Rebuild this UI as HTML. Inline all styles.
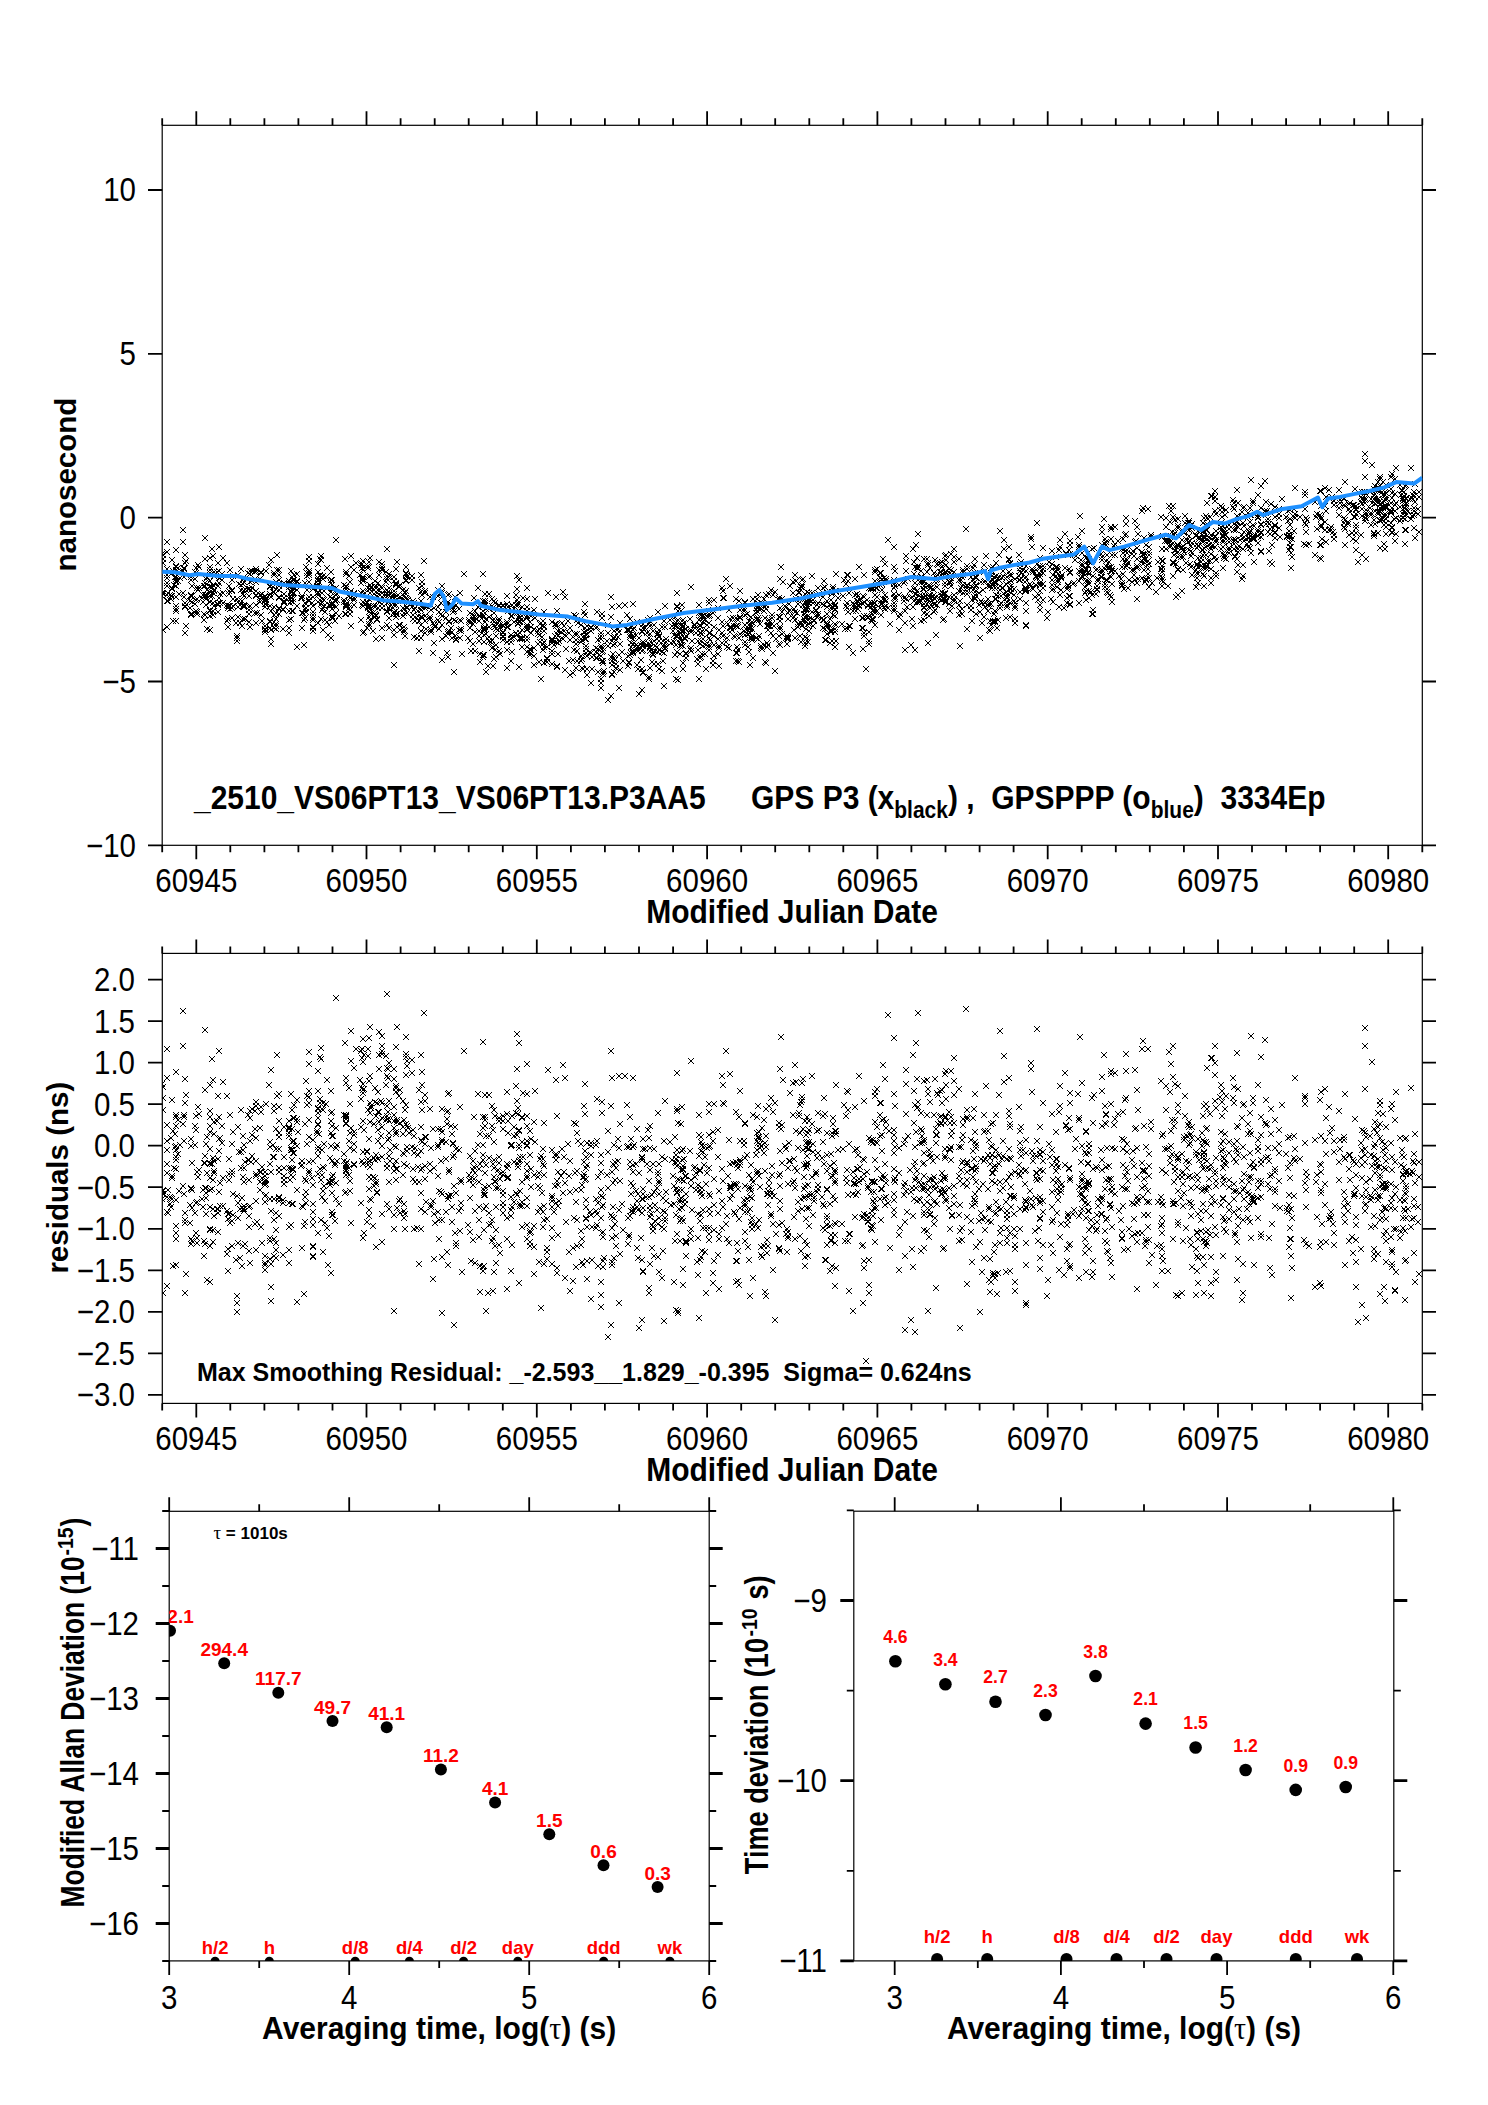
<!DOCTYPE html>
<html><head><meta charset="utf-8"><style>
html,body{margin:0;padding:0;background:#fff;}
svg{display:block;font-family:"Liberation Sans",sans-serif;}
</style></head><body>
<svg width="1488" height="2105" viewBox="0 0 1488 2105">
<rect width="1488" height="2105" fill="#fff"/>
<rect x="162.2" y="125.3" width="1260.1" height="720" fill="none" stroke="#000" stroke-width="1.2"/><text x="196.3" y="892.5" font-size="29.5" text-anchor="middle" transform="translate(0 -107.1) scale(1 1.12)">60945</text><text x="366.5" y="892.5" font-size="29.5" text-anchor="middle" transform="translate(0 -107.1) scale(1 1.12)">60950</text><text x="536.8" y="892.5" font-size="29.5" text-anchor="middle" transform="translate(0 -107.1) scale(1 1.12)">60955</text><text x="707.1" y="892.5" font-size="29.5" text-anchor="middle" transform="translate(0 -107.1) scale(1 1.12)">60960</text><text x="877.4" y="892.5" font-size="29.5" text-anchor="middle" transform="translate(0 -107.1) scale(1 1.12)">60965</text><text x="1047.7" y="892.5" font-size="29.5" text-anchor="middle" transform="translate(0 -107.1) scale(1 1.12)">60970</text><text x="1218" y="892.5" font-size="29.5" text-anchor="middle" transform="translate(0 -107.1) scale(1 1.12)">60975</text><text x="1388.2" y="892.5" font-size="29.5" text-anchor="middle" transform="translate(0 -107.1) scale(1 1.12)">60980</text><text x="136" y="201.5" font-size="29.5" text-anchor="end" transform="translate(0 -24.2) scale(1 1.12)">10</text><text x="136" y="365.3" font-size="29.5" text-anchor="end" transform="translate(0 -43.8) scale(1 1.12)">5</text><text x="136" y="529.1" font-size="29.5" text-anchor="end" transform="translate(0 -63.5) scale(1 1.12)">0</text><text x="136" y="693" font-size="29.5" text-anchor="end" transform="translate(0 -83.2) scale(1 1.12)">−5</text><text x="136" y="856.8" font-size="29.5" text-anchor="end" transform="translate(0 -102.8) scale(1 1.12)">−10</text><text x="792" y="922.8" font-size="30" font-weight="bold" text-anchor="middle" transform="translate(0 -73.8) scale(1 1.08)">Modified Julian Date</text><text transform="translate(76.3 484.6) rotate(-90)" font-size="29.5" font-weight="bold" text-anchor="middle">nanosecond</text><text x="194" y="809.2" font-size="30" font-weight="bold" transform="translate(0 -80.9) scale(1 1.1)">_2510_VS06PT13_VS06PT13.P3AA5</text><text x="751" y="809.2" font-size="30" font-weight="bold" xml:space="preserve" transform="translate(0 -80.92) scale(1 1.1)">GPS P3 (x<tspan font-size="21" dy="7.6">black</tspan><tspan dy="-7.6">) ,  GPSPPP (o</tspan><tspan font-size="21" dy="7.6">blue</tspan><tspan dy="-7.6">)  3334Ep</tspan></text><rect x="162.3" y="953.4" width="1260" height="450" fill="none" stroke="#000" stroke-width="1.2"/><text x="196.3" y="1450.5" font-size="29.5" text-anchor="middle" transform="translate(0 -174.1) scale(1 1.12)">60945</text><text x="366.5" y="1450.5" font-size="29.5" text-anchor="middle" transform="translate(0 -174.1) scale(1 1.12)">60950</text><text x="536.8" y="1450.5" font-size="29.5" text-anchor="middle" transform="translate(0 -174.1) scale(1 1.12)">60955</text><text x="707.1" y="1450.5" font-size="29.5" text-anchor="middle" transform="translate(0 -174.1) scale(1 1.12)">60960</text><text x="877.4" y="1450.5" font-size="29.5" text-anchor="middle" transform="translate(0 -174.1) scale(1 1.12)">60965</text><text x="1047.7" y="1450.5" font-size="29.5" text-anchor="middle" transform="translate(0 -174.1) scale(1 1.12)">60970</text><text x="1218" y="1450.5" font-size="29.5" text-anchor="middle" transform="translate(0 -174.1) scale(1 1.12)">60975</text><text x="1388.2" y="1450.5" font-size="29.5" text-anchor="middle" transform="translate(0 -174.1) scale(1 1.12)">60980</text><text x="135" y="991.2" font-size="29.5" text-anchor="end" transform="translate(0 -118.9) scale(1 1.12)">2.0</text><text x="135" y="1032.7" font-size="29.5" text-anchor="end" transform="translate(0 -123.9) scale(1 1.12)">1.5</text><text x="135" y="1074.2" font-size="29.5" text-anchor="end" transform="translate(0 -128.9) scale(1 1.12)">1.0</text><text x="135" y="1115.7" font-size="29.5" text-anchor="end" transform="translate(0 -133.9) scale(1 1.12)">0.5</text><text x="135" y="1157.2" font-size="29.5" text-anchor="end" transform="translate(0 -138.9) scale(1 1.12)">0.0</text><text x="135" y="1198.8" font-size="29.5" text-anchor="end" transform="translate(0 -143.9) scale(1 1.12)">−0.5</text><text x="135" y="1240.3" font-size="29.5" text-anchor="end" transform="translate(0 -148.8) scale(1 1.12)">−1.0</text><text x="135" y="1281.8" font-size="29.5" text-anchor="end" transform="translate(0 -153.8) scale(1 1.12)">−1.5</text><text x="135" y="1323.3" font-size="29.5" text-anchor="end" transform="translate(0 -158.8) scale(1 1.12)">−2.0</text><text x="135" y="1364.8" font-size="29.5" text-anchor="end" transform="translate(0 -163.8) scale(1 1.12)">−2.5</text><text x="135" y="1406.3" font-size="29.5" text-anchor="end" transform="translate(0 -168.8) scale(1 1.12)">−3.0</text><text x="792" y="1480.8" font-size="30" font-weight="bold" text-anchor="middle" transform="translate(0 -118.5) scale(1 1.08)">Modified Julian Date</text><text transform="translate(68.2 1177.7) rotate(-90)" font-size="29.5" font-weight="bold" text-anchor="middle">residuals (ns)</text><text x="197" y="1381" font-size="25" font-weight="bold" xml:space="preserve">Max Smoothing Residual: _-2.593__1.829_-0.395  Sigma= 0.624ns</text><rect x="169.2" y="1511.3" width="540" height="449.6" fill="none" stroke="#000" stroke-width="1.2"/><text x="169.2" y="2008.5" font-size="29.5" text-anchor="middle" transform="translate(0 -241) scale(1 1.12)">3</text><text x="349.2" y="2008.5" font-size="29.5" text-anchor="middle" transform="translate(0 -241) scale(1 1.12)">4</text><text x="529.2" y="2008.5" font-size="29.5" text-anchor="middle" transform="translate(0 -241) scale(1 1.12)">5</text><text x="709.2" y="2008.5" font-size="29.5" text-anchor="middle" transform="translate(0 -241) scale(1 1.12)">6</text><text x="139" y="1560" font-size="29.5" text-anchor="end" transform="translate(0 -187.2) scale(1 1.12)">−11</text><text x="139" y="1635" font-size="29.5" text-anchor="end" transform="translate(0 -196.2) scale(1 1.12)">−12</text><text x="139" y="1710" font-size="29.5" text-anchor="end" transform="translate(0 -205.2) scale(1 1.12)">−13</text><text x="139" y="1785" font-size="29.5" text-anchor="end" transform="translate(0 -214.2) scale(1 1.12)">−14</text><text x="139" y="1860" font-size="29.5" text-anchor="end" transform="translate(0 -223.2) scale(1 1.12)">−15</text><text x="139" y="1935" font-size="29.5" text-anchor="end" transform="translate(0 -232.2) scale(1 1.12)">−16</text><text x="439.2" y="2038.8" font-size="30" font-weight="bold" text-anchor="middle" transform="translate(0 -81.55) scale(1 1.04)">Averaging time, log(<tspan font-family="Liberation Serif" font-weight="normal">τ</tspan>) (s)</text><text transform="translate(84 1907.4) rotate(-90) scale(0.895 1.1)" font-size="29.5" font-weight="bold">Modified Allan Deviation (10</text><text transform="translate(73 1555.5) rotate(-90) scale(1 1.1)" font-size="19.5" font-weight="bold">-15</text><text transform="translate(84 1526.5) rotate(-90) scale(0.895 1.1)" font-size="29.5" font-weight="bold">)</text><text x="213.5" y="1538.9" font-size="17" font-weight="bold"><tspan font-family="Liberation Serif" font-weight="normal" font-size="19">τ</tspan> = 1010s</text><rect x="853.8" y="1511.2" width="540" height="449.7" fill="none" stroke="#000" stroke-width="1.2"/><text x="894.7" y="2008.5" font-size="29.5" text-anchor="middle" transform="translate(0 -241) scale(1 1.12)">3</text><text x="1060.9" y="2008.5" font-size="29.5" text-anchor="middle" transform="translate(0 -241) scale(1 1.12)">4</text><text x="1227.1" y="2008.5" font-size="29.5" text-anchor="middle" transform="translate(0 -241) scale(1 1.12)">5</text><text x="1393.3" y="2008.5" font-size="29.5" text-anchor="middle" transform="translate(0 -241) scale(1 1.12)">6</text><text x="827" y="1612" font-size="29.5" text-anchor="end" transform="translate(0 -193.4) scale(1 1.12)">−9</text><text x="827" y="1792.2" font-size="29.5" text-anchor="end" transform="translate(0 -215.1) scale(1 1.12)">−10</text><text x="827" y="1972.4" font-size="29.5" text-anchor="end" transform="translate(0 -236.7) scale(1 1.12)">−11</text><text x="1124" y="2038.8" font-size="30" font-weight="bold" text-anchor="middle" transform="translate(0 -81.55) scale(1 1.04)">Averaging time, log(<tspan font-family="Liberation Serif" font-weight="normal">τ</tspan>) (s)</text><text transform="translate(768 1874.2) rotate(-90) scale(0.92 1.1)" font-size="29.5" font-weight="bold">Time deviation (10</text><text transform="translate(757 1636.5) rotate(-90) scale(1 1.1)" font-size="19.5" font-weight="bold">-10</text><text transform="translate(768 1599.5) rotate(-90) scale(0.92 1.1)" font-size="29.5" font-weight="bold">s)</text><path d="M162.2 125.3L162.2 118.3M162.2 845.3L162.2 852.3M196.3 125.3L196.3 111.3M196.3 845.3L196.3 859.3M230.3 125.3L230.3 118.3M230.3 845.3L230.3 852.3M264.4 125.3L264.4 118.3M264.4 845.3L264.4 852.3M298.4 125.3L298.4 118.3M298.4 845.3L298.4 852.3M332.5 125.3L332.5 118.3M332.5 845.3L332.5 852.3M366.5 125.3L366.5 111.3M366.5 845.3L366.5 859.3M400.6 125.3L400.6 118.3M400.6 845.3L400.6 852.3M434.7 125.3L434.7 118.3M434.7 845.3L434.7 852.3M468.7 125.3L468.7 118.3M468.7 845.3L468.7 852.3M502.8 125.3L502.8 118.3M502.8 845.3L502.8 852.3M536.8 125.3L536.8 111.3M536.8 845.3L536.8 859.3M570.9 125.3L570.9 118.3M570.9 845.3L570.9 852.3M604.9 125.3L604.9 118.3M604.9 845.3L604.9 852.3M639 125.3L639 118.3M639 845.3L639 852.3M673.1 125.3L673.1 118.3M673.1 845.3L673.1 852.3M707.1 125.3L707.1 111.3M707.1 845.3L707.1 859.3M741.2 125.3L741.2 118.3M741.2 845.3L741.2 852.3M775.2 125.3L775.2 118.3M775.2 845.3L775.2 852.3M809.3 125.3L809.3 118.3M809.3 845.3L809.3 852.3M843.3 125.3L843.3 118.3M843.3 845.3L843.3 852.3M877.4 125.3L877.4 111.3M877.4 845.3L877.4 859.3M911.4 125.3L911.4 118.3M911.4 845.3L911.4 852.3M945.5 125.3L945.5 118.3M945.5 845.3L945.5 852.3M979.6 125.3L979.6 118.3M979.6 845.3L979.6 852.3M1013.6 125.3L1013.6 118.3M1013.6 845.3L1013.6 852.3M1047.7 125.3L1047.7 111.3M1047.7 845.3L1047.7 859.3M1081.7 125.3L1081.7 118.3M1081.7 845.3L1081.7 852.3M1115.8 125.3L1115.8 118.3M1115.8 845.3L1115.8 852.3M1149.8 125.3L1149.8 118.3M1149.8 845.3L1149.8 852.3M1183.9 125.3L1183.9 118.3M1183.9 845.3L1183.9 852.3M1218 125.3L1218 111.3M1218 845.3L1218 859.3M1252 125.3L1252 118.3M1252 845.3L1252 852.3M1286.1 125.3L1286.1 118.3M1286.1 845.3L1286.1 852.3M1320.1 125.3L1320.1 118.3M1320.1 845.3L1320.1 852.3M1354.2 125.3L1354.2 118.3M1354.2 845.3L1354.2 852.3M1388.2 125.3L1388.2 111.3M1388.2 845.3L1388.2 859.3M1422.3 125.3L1422.3 118.3M1422.3 845.3L1422.3 852.3M148 190L162.2 190M1422.3 190L1436 190M148 353.8L162.2 353.8M1422.3 353.8L1436 353.8M148 517.6L162.2 517.6M1422.3 517.6L1436 517.6M148 681.5L162.2 681.5M1422.3 681.5L1436 681.5M148 845.3L162.2 845.3M1422.3 845.3L1436 845.3M162.2 953.4L162.2 946.4M162.2 1403.4L162.2 1410.4M196.3 953.4L196.3 939.4M196.3 1403.4L196.3 1417.4M230.3 953.4L230.3 946.4M230.3 1403.4L230.3 1410.4M264.4 953.4L264.4 946.4M264.4 1403.4L264.4 1410.4M298.4 953.4L298.4 946.4M298.4 1403.4L298.4 1410.4M332.5 953.4L332.5 946.4M332.5 1403.4L332.5 1410.4M366.5 953.4L366.5 939.4M366.5 1403.4L366.5 1417.4M400.6 953.4L400.6 946.4M400.6 1403.4L400.6 1410.4M434.7 953.4L434.7 946.4M434.7 1403.4L434.7 1410.4M468.7 953.4L468.7 946.4M468.7 1403.4L468.7 1410.4M502.8 953.4L502.8 946.4M502.8 1403.4L502.8 1410.4M536.8 953.4L536.8 939.4M536.8 1403.4L536.8 1417.4M570.9 953.4L570.9 946.4M570.9 1403.4L570.9 1410.4M604.9 953.4L604.9 946.4M604.9 1403.4L604.9 1410.4M639 953.4L639 946.4M639 1403.4L639 1410.4M673.1 953.4L673.1 946.4M673.1 1403.4L673.1 1410.4M707.1 953.4L707.1 939.4M707.1 1403.4L707.1 1417.4M741.2 953.4L741.2 946.4M741.2 1403.4L741.2 1410.4M775.2 953.4L775.2 946.4M775.2 1403.4L775.2 1410.4M809.3 953.4L809.3 946.4M809.3 1403.4L809.3 1410.4M843.3 953.4L843.3 946.4M843.3 1403.4L843.3 1410.4M877.4 953.4L877.4 939.4M877.4 1403.4L877.4 1417.4M911.4 953.4L911.4 946.4M911.4 1403.4L911.4 1410.4M945.5 953.4L945.5 946.4M945.5 1403.4L945.5 1410.4M979.6 953.4L979.6 946.4M979.6 1403.4L979.6 1410.4M1013.6 953.4L1013.6 946.4M1013.6 1403.4L1013.6 1410.4M1047.7 953.4L1047.7 939.4M1047.7 1403.4L1047.7 1417.4M1081.7 953.4L1081.7 946.4M1081.7 1403.4L1081.7 1410.4M1115.8 953.4L1115.8 946.4M1115.8 1403.4L1115.8 1410.4M1149.8 953.4L1149.8 946.4M1149.8 1403.4L1149.8 1410.4M1183.9 953.4L1183.9 946.4M1183.9 1403.4L1183.9 1410.4M1218 953.4L1218 939.4M1218 1403.4L1218 1417.4M1252 953.4L1252 946.4M1252 1403.4L1252 1410.4M1286.1 953.4L1286.1 946.4M1286.1 1403.4L1286.1 1410.4M1320.1 953.4L1320.1 946.4M1320.1 1403.4L1320.1 1410.4M1354.2 953.4L1354.2 946.4M1354.2 1403.4L1354.2 1410.4M1388.2 953.4L1388.2 939.4M1388.2 1403.4L1388.2 1417.4M1422.3 953.4L1422.3 946.4M1422.3 1403.4L1422.3 1410.4M148 979.7L162.3 979.7M1422.3 979.7L1436 979.7M148 1021.2L162.3 1021.2M1422.3 1021.2L1436 1021.2M148 1062.7L162.3 1062.7M1422.3 1062.7L1436 1062.7M148 1104.2L162.3 1104.2M1422.3 1104.2L1436 1104.2M148 1145.7L162.3 1145.7M1422.3 1145.7L1436 1145.7M148 1187.2L162.3 1187.2M1422.3 1187.2L1436 1187.2M148 1228.8L162.3 1228.8M1422.3 1228.8L1436 1228.8M148 1270.3L162.3 1270.3M1422.3 1270.3L1436 1270.3M148 1311.8L162.3 1311.8M1422.3 1311.8L1436 1311.8M148 1353.3L162.3 1353.3M1422.3 1353.3L1436 1353.3M148 1394.8L162.3 1394.8M1422.3 1394.8L1436 1394.8M169.2 1511.3L169.2 1497.3M169.2 1960.9L169.2 1974.9M259.2 1511.3L259.2 1504.3M259.2 1960.9L259.2 1967.9M349.2 1511.3L349.2 1497.3M349.2 1960.9L349.2 1974.9M439.2 1511.3L439.2 1504.3M439.2 1960.9L439.2 1967.9M529.2 1511.3L529.2 1497.3M529.2 1960.9L529.2 1974.9M619.2 1511.3L619.2 1504.3M619.2 1960.9L619.2 1967.9M709.2 1511.3L709.2 1497.3M709.2 1960.9L709.2 1974.9M162.2 1511L169.2 1511M709.2 1511L716.2 1511M162.2 1586L169.2 1586M709.2 1586L716.2 1586M162.2 1661L169.2 1661M709.2 1661L716.2 1661M162.2 1736L169.2 1736M709.2 1736L716.2 1736M162.2 1811L169.2 1811M709.2 1811L716.2 1811M162.2 1886L169.2 1886M709.2 1886L716.2 1886M162.2 1961L169.2 1961M709.2 1961L716.2 1961M894.7 1511.2L894.7 1497.2M894.7 1960.9L894.7 1974.9M977.8 1511.2L977.8 1504.2M977.8 1960.9L977.8 1967.9M1060.9 1511.2L1060.9 1497.2M1060.9 1960.9L1060.9 1974.9M1144 1511.2L1144 1504.2M1144 1960.9L1144 1967.9M1227.1 1511.2L1227.1 1497.2M1227.1 1960.9L1227.1 1974.9M1310.2 1511.2L1310.2 1504.2M1310.2 1960.9L1310.2 1967.9M1393.3 1511.2L1393.3 1497.2M1393.3 1960.9L1393.3 1974.9M846.8 1510.4L853.8 1510.4M1393.8 1510.4L1400.8 1510.4M846.8 1690.6L853.8 1690.6M1393.8 1690.6L1400.8 1690.6M846.8 1870.8L853.8 1870.8M1393.8 1870.8L1400.8 1870.8" stroke="#000" stroke-width="1.8" fill="none"/><path d="M155.7 1548.5L169.2 1548.5M709.2 1548.5L722.7 1548.5M155.7 1623.5L169.2 1623.5M709.2 1623.5L722.7 1623.5M155.7 1698.5L169.2 1698.5M709.2 1698.5L722.7 1698.5M155.7 1773.5L169.2 1773.5M709.2 1773.5L722.7 1773.5M155.7 1848.5L169.2 1848.5M709.2 1848.5L722.7 1848.5M155.7 1923.5L169.2 1923.5M709.2 1923.5L722.7 1923.5M840.3 1600.5L853.8 1600.5M1393.8 1600.5L1407.3 1600.5M840.3 1780.7L853.8 1780.7M1393.8 1780.7L1407.3 1780.7M840.3 1960.9L853.8 1960.9M1393.8 1960.9L1407.3 1960.9" stroke="#000" stroke-width="2.8" fill="none"/><defs><clipPath id="c3"><rect x="169.2" y="1511.3" width="540" height="449.6"/></clipPath><clipPath id="c4"><rect x="853.8" y="1511.2" width="540" height="449.7"/></clipPath></defs><g clip-path="url(#c3)"><circle cx="170" cy="1630.8" r="6"/><text x="170" y="1623.4" font-size="19" font-weight="bold" fill="#f00" text-anchor="middle">162.1</text><circle cx="224.2" cy="1663.3" r="6"/><text x="224.2" y="1655.9" font-size="19" font-weight="bold" fill="#f00" text-anchor="middle">294.4</text><circle cx="278.3" cy="1692.8" r="6"/><text x="278.3" y="1685.4" font-size="19" font-weight="bold" fill="#f00" text-anchor="middle">117.7</text><circle cx="332.5" cy="1721.1" r="6"/><text x="332.5" y="1713.7" font-size="19" font-weight="bold" fill="#f00" text-anchor="middle">49.7</text><circle cx="386.7" cy="1727.2" r="6"/><text x="386.7" y="1719.8" font-size="19" font-weight="bold" fill="#f00" text-anchor="middle">41.1</text><circle cx="440.9" cy="1769.6" r="6"/><text x="440.9" y="1762.2" font-size="19" font-weight="bold" fill="#f00" text-anchor="middle">11.2</text><circle cx="495.1" cy="1802.4" r="6"/><text x="495.1" y="1795" font-size="19" font-weight="bold" fill="#f00" text-anchor="middle">4.1</text><circle cx="549.3" cy="1834.2" r="6"/><text x="549.3" y="1826.8" font-size="19" font-weight="bold" fill="#f00" text-anchor="middle">1.5</text><circle cx="603.5" cy="1865.2" r="6"/><text x="603.5" y="1857.8" font-size="19" font-weight="bold" fill="#f00" text-anchor="middle">0.6</text><circle cx="657.6" cy="1886.9" r="6"/><text x="657.6" y="1879.5" font-size="19" font-weight="bold" fill="#f00" text-anchor="middle">0.3</text><circle cx="215.1" cy="1961.2" r="4.5"/><text x="215.1" y="1953.9" font-size="18.5" font-weight="bold" fill="#f00" text-anchor="middle">h/2</text><circle cx="269.3" cy="1961.2" r="4.5"/><text x="269.3" y="1953.9" font-size="18.5" font-weight="bold" fill="#f00" text-anchor="middle">h</text><circle cx="355.2" cy="1961.2" r="4.5"/><text x="355.2" y="1953.9" font-size="18.5" font-weight="bold" fill="#f00" text-anchor="middle">d/8</text><circle cx="409.4" cy="1961.2" r="4.5"/><text x="409.4" y="1953.9" font-size="18.5" font-weight="bold" fill="#f00" text-anchor="middle">d/4</text><circle cx="463.6" cy="1961.2" r="4.5"/><text x="463.6" y="1953.9" font-size="18.5" font-weight="bold" fill="#f00" text-anchor="middle">d/2</text><circle cx="517.8" cy="1961.2" r="4.5"/><text x="517.8" y="1953.9" font-size="18.5" font-weight="bold" fill="#f00" text-anchor="middle">day</text><circle cx="603.7" cy="1961.2" r="4.5"/><text x="603.7" y="1953.9" font-size="18.5" font-weight="bold" fill="#f00" text-anchor="middle">ddd</text><circle cx="669.9" cy="1961.2" r="4.5"/><text x="669.9" y="1953.9" font-size="18.5" font-weight="bold" fill="#f00" text-anchor="middle">wk</text></g><g clip-path="url(#c4)"><circle cx="895.4" cy="1661.3" r="6.3"/><text x="895.4" y="1643" font-size="17.6" font-weight="bold" fill="#f00" text-anchor="middle">4.6</text><circle cx="945.4" cy="1684.3" r="6.3"/><text x="945.4" y="1666" font-size="17.6" font-weight="bold" fill="#f00" text-anchor="middle">3.4</text><circle cx="995.5" cy="1701.7" r="6.3"/><text x="995.5" y="1683.4" font-size="17.6" font-weight="bold" fill="#f00" text-anchor="middle">2.7</text><circle cx="1045.5" cy="1715" r="6.3"/><text x="1045.5" y="1696.7" font-size="17.6" font-weight="bold" fill="#f00" text-anchor="middle">2.3</text><circle cx="1095.5" cy="1676" r="6.3"/><text x="1095.5" y="1657.7" font-size="17.6" font-weight="bold" fill="#f00" text-anchor="middle">3.8</text><circle cx="1145.6" cy="1723.6" r="6.3"/><text x="1145.6" y="1705.3" font-size="17.6" font-weight="bold" fill="#f00" text-anchor="middle">2.1</text><circle cx="1195.6" cy="1747.5" r="6.3"/><text x="1195.6" y="1729.2" font-size="17.6" font-weight="bold" fill="#f00" text-anchor="middle">1.5</text><circle cx="1245.6" cy="1770" r="6.3"/><text x="1245.6" y="1751.7" font-size="17.6" font-weight="bold" fill="#f00" text-anchor="middle">1.2</text><circle cx="1295.7" cy="1789.9" r="6.3"/><text x="1295.7" y="1771.6" font-size="17.6" font-weight="bold" fill="#f00" text-anchor="middle">0.9</text><circle cx="1345.7" cy="1787" r="6.3"/><text x="1345.7" y="1768.7" font-size="17.6" font-weight="bold" fill="#f00" text-anchor="middle">0.9</text><circle cx="937.1" cy="1959" r="6"/><text x="937.1" y="1943" font-size="18.5" font-weight="bold" fill="#f00" text-anchor="middle">h/2</text><circle cx="987.2" cy="1959" r="6"/><text x="987.2" y="1943" font-size="18.5" font-weight="bold" fill="#f00" text-anchor="middle">h</text><circle cx="1066.5" cy="1959" r="6"/><text x="1066.5" y="1943" font-size="18.5" font-weight="bold" fill="#f00" text-anchor="middle">d/8</text><circle cx="1116.5" cy="1959" r="6"/><text x="1116.5" y="1943" font-size="18.5" font-weight="bold" fill="#f00" text-anchor="middle">d/4</text><circle cx="1166.5" cy="1959" r="6"/><text x="1166.5" y="1943" font-size="18.5" font-weight="bold" fill="#f00" text-anchor="middle">d/2</text><circle cx="1216.5" cy="1959" r="6"/><text x="1216.5" y="1943" font-size="18.5" font-weight="bold" fill="#f00" text-anchor="middle">day</text><circle cx="1295.8" cy="1959" r="6"/><text x="1295.8" y="1943" font-size="18.5" font-weight="bold" fill="#f00" text-anchor="middle">ddd</text><circle cx="1357" cy="1959" r="6"/><text x="1357" y="1943" font-size="18.5" font-weight="bold" fill="#f00" text-anchor="middle">wk</text></g><defs><clipPath id="c1"><rect x="162.2" y="125.3" width="1260.1" height="720"/></clipPath><clipPath id="c2"><rect x="162.3" y="953.4" width="1260" height="450"/></clipPath></defs><path clip-path="url(#c1)" d="M159 593l6 6m0-6l-6 6M159 551l6 6m0-6l-6 6M159 590l6 6m0-6l-6 6M160 590l6 6m0-6l-6 6M160 552l6 6m0-6l-6 6M160 591l6 6m0-6l-6 6M160 627l6 6m0-6l-6 6M160 590l6 6m0-6l-6 6M160 556l6 6m0-6l-6 6M160 560l6 6m0-6l-6 6M164 592l6 6m0-6l-6 6M164 583l6 6m0-6l-6 6M164 549l6 6m0-6l-6 6M164 572l6 6m0-6l-6 6M164 566l6 6m0-6l-6 6M164 575l6 6m0-6l-6 6M164 580l6 6m0-6l-6 6M164 624l6 6m0-6l-6 6M164 598l6 6m0-6l-6 6M164 539l6 6m0-6l-6 6M165 590l6 6m0-6l-6 6M165 598l6 6m0-6l-6 6M167 592l6 6m0-6l-6 6M167 595l6 6m0-6l-6 6M168 596l6 6m0-6l-6 6M168 571l6 6m0-6l-6 6M168 593l6 6m0-6l-6 6M169 593l6 6m0-6l-6 6M169 586l6 6m0-6l-6 6M169 585l6 6m0-6l-6 6M170 618l6 6m0-6l-6 6M169 557l6 6m0-6l-6 6M170 568l6 6m0-6l-6 6M171 582l6 6m0-6l-6 6M172 574l6 6m0-6l-6 6M172 570l6 6m0-6l-6 6M173 578l6 6m0-6l-6 6M173 563l6 6m0-6l-6 6M173 608l6 6m0-6l-6 6M173 603l6 6m0-6l-6 6M173 606l6 6m0-6l-6 6M173 594l6 6m0-6l-6 6M173 547l6 6m0-6l-6 6M173 574l6 6m0-6l-6 6M173 567l6 6m0-6l-6 6M173 576l6 6m0-6l-6 6M173 618l6 6m0-6l-6 6M173 579l6 6m0-6l-6 6M173 583l6 6m0-6l-6 6M173 564l6 6m0-6l-6 6M175 578l6 6m0-6l-6 6M175 565l6 6m0-6l-6 6M176 591l6 6m0-6l-6 6M177 575l6 6m0-6l-6 6M180 568l6 6m0-6l-6 6M180 539l6 6m0-6l-6 6M180 590l6 6m0-6l-6 6M181 574l6 6m0-6l-6 6M181 565l6 6m0-6l-6 6M181 566l6 6m0-6l-6 6M181 594l6 6m0-6l-6 6M182 552l6 6m0-6l-6 6M182 560l6 6m0-6l-6 6M182 603l6 6m0-6l-6 6M182 630l6 6m0-6l-6 6M182 600l6 6m0-6l-6 6M182 604l6 6m0-6l-6 6M183 558l6 6m0-6l-6 6M183 623l6 6m0-6l-6 6M187 605l6 6m0-6l-6 6M187 598l6 6m0-6l-6 6M188 592l6 6m0-6l-6 6M188 611l6 6m0-6l-6 6M188 593l6 6m0-6l-6 6M188 577l6 6m0-6l-6 6M188 612l6 6m0-6l-6 6M188 574l6 6m0-6l-6 6M189 593l6 6m0-6l-6 6M189 611l6 6m0-6l-6 6M189 583l6 6m0-6l-6 6M189 599l6 6m0-6l-6 6M192 569l6 6m0-6l-6 6M192 576l6 6m0-6l-6 6M192 601l6 6m0-6l-6 6M193 608l6 6m0-6l-6 6M193 565l6 6m0-6l-6 6M193 570l6 6m0-6l-6 6M193 597l6 6m0-6l-6 6M194 585l6 6m0-6l-6 6M194 611l6 6m0-6l-6 6M194 596l6 6m0-6l-6 6M194 609l6 6m0-6l-6 6M195 562l6 6m0-6l-6 6M195 587l6 6m0-6l-6 6M196 564l6 6m0-6l-6 6M196 585l6 6m0-6l-6 6M199 595l6 6m0-6l-6 6M200 592l6 6m0-6l-6 6M200 599l6 6m0-6l-6 6M201 583l6 6m0-6l-6 6M201 617l6 6m0-6l-6 6M202 583l6 6m0-6l-6 6M201 611l6 6m0-6l-6 6M202 556l6 6m0-6l-6 6M202 580l6 6m0-6l-6 6M202 592l6 6m0-6l-6 6M202 535l6 6m0-6l-6 6M202 612l6 6m0-6l-6 6M203 592l6 6m0-6l-6 6M203 594l6 6m0-6l-6 6M203 576l6 6m0-6l-6 6M203 602l6 6m0-6l-6 6M203 596l6 6m0-6l-6 6M204 626l6 6m0-6l-6 6M204 574l6 6m0-6l-6 6M204 587l6 6m0-6l-6 6M207 583l6 6m0-6l-6 6M207 555l6 6m0-6l-6 6M207 584l6 6m0-6l-6 6M207 589l6 6m0-6l-6 6M207 578l6 6m0-6l-6 6M207 564l6 6m0-6l-6 6M207 570l6 6m0-6l-6 6M207 567l6 6m0-6l-6 6M207 613l6 6m0-6l-6 6M207 608l6 6m0-6l-6 6M207 607l6 6m0-6l-6 6M207 593l6 6m0-6l-6 6M207 572l6 6m0-6l-6 6M207 599l6 6m0-6l-6 6M207 627l6 6m0-6l-6 6M209 593l6 6m0-6l-6 6M209 584l6 6m0-6l-6 6M209 546l6 6m0-6l-6 6M210 590l6 6m0-6l-6 6M210 553l6 6m0-6l-6 6M210 608l6 6m0-6l-6 6M210 600l6 6m0-6l-6 6M210 612l6 6m0-6l-6 6M210 582l6 6m0-6l-6 6M211 583l6 6m0-6l-6 6M211 587l6 6m0-6l-6 6M211 573l6 6m0-6l-6 6M211 603l6 6m0-6l-6 6M211 569l6 6m0-6l-6 6M211 588l6 6m0-6l-6 6M214 601l6 6m0-6l-6 6M214 569l6 6m0-6l-6 6M215 560l6 6m0-6l-6 6M215 583l6 6m0-6l-6 6M215 609l6 6m0-6l-6 6M215 601l6 6m0-6l-6 6M215 602l6 6m0-6l-6 6M216 580l6 6m0-6l-6 6M216 575l6 6m0-6l-6 6M216 595l6 6m0-6l-6 6M216 544l6 6m0-6l-6 6M216 568l6 6m0-6l-6 6M217 575l6 6m0-6l-6 6M217 591l6 6m0-6l-6 6M217 600l6 6m0-6l-6 6M219 571l6 6m0-6l-6 6M219 577l6 6m0-6l-6 6M220 600l6 6m0-6l-6 6M220 555l6 6m0-6l-6 6M220 590l6 6m0-6l-6 6M224 560l6 6m0-6l-6 6M224 602l6 6m0-6l-6 6M224 618l6 6m0-6l-6 6M225 603l6 6m0-6l-6 6M225 605l6 6m0-6l-6 6M225 616l6 6m0-6l-6 6M225 624l6 6m0-6l-6 6M226 591l6 6m0-6l-6 6M226 603l6 6m0-6l-6 6M226 588l6 6m0-6l-6 6M226 583l6 6m0-6l-6 6M227 603l6 6m0-6l-6 6M227 567l6 6m0-6l-6 6M227 606l6 6m0-6l-6 6M229 588l6 6m0-6l-6 6M229 577l6 6m0-6l-6 6M229 587l6 6m0-6l-6 6M229 615l6 6m0-6l-6 6M229 605l6 6m0-6l-6 6M230 573l6 6m0-6l-6 6M230 603l6 6m0-6l-6 6M230 596l6 6m0-6l-6 6M233 620l6 6m0-6l-6 6M234 635l6 6m0-6l-6 6M234 633l6 6m0-6l-6 6M234 638l6 6m0-6l-6 6M234 596l6 6m0-6l-6 6M235 572l6 6m0-6l-6 6M235 604l6 6m0-6l-6 6M235 614l6 6m0-6l-6 6M235 599l6 6m0-6l-6 6M236 581l6 6m0-6l-6 6M237 602l6 6m0-6l-6 6M237 620l6 6m0-6l-6 6M238 566l6 6m0-6l-6 6M238 587l6 6m0-6l-6 6M238 582l6 6m0-6l-6 6M239 623l6 6m0-6l-6 6M239 598l6 6m0-6l-6 6M240 616l6 6m0-6l-6 6M240 603l6 6m0-6l-6 6M240 581l6 6m0-6l-6 6M240 591l6 6m0-6l-6 6M240 576l6 6m0-6l-6 6M241 579l6 6m0-6l-6 6M241 602l6 6m0-6l-6 6M241 588l6 6m0-6l-6 6M241 593l6 6m0-6l-6 6M241 603l6 6m0-6l-6 6M241 604l6 6m0-6l-6 6M242 616l6 6m0-6l-6 6M242 586l6 6m0-6l-6 6M245 586l6 6m0-6l-6 6M245 570l6 6m0-6l-6 6M246 586l6 6m0-6l-6 6M246 593l6 6m0-6l-6 6M246 619l6 6m0-6l-6 6M246 604l6 6m0-6l-6 6M246 607l6 6m0-6l-6 6M246 611l6 6m0-6l-6 6M247 568l6 6m0-6l-6 6M247 579l6 6m0-6l-6 6M247 571l6 6m0-6l-6 6M247 603l6 6m0-6l-6 6M247 624l6 6m0-6l-6 6M248 587l6 6m0-6l-6 6M249 578l6 6m0-6l-6 6M249 585l6 6m0-6l-6 6M249 568l6 6m0-6l-6 6M252 569l6 6m0-6l-6 6M252 610l6 6m0-6l-6 6M252 576l6 6m0-6l-6 6M253 602l6 6m0-6l-6 6M253 579l6 6m0-6l-6 6M253 620l6 6m0-6l-6 6M253 566l6 6m0-6l-6 6M253 593l6 6m0-6l-6 6M253 592l6 6m0-6l-6 6M253 588l6 6m0-6l-6 6M253 568l6 6m0-6l-6 6M253 602l6 6m0-6l-6 6M254 610l6 6m0-6l-6 6M257 596l6 6m0-6l-6 6M257 592l6 6m0-6l-6 6M257 576l6 6m0-6l-6 6M257 599l6 6m0-6l-6 6M258 570l6 6m0-6l-6 6M258 612l6 6m0-6l-6 6M258 569l6 6m0-6l-6 6M258 592l6 6m0-6l-6 6M259 618l6 6m0-6l-6 6M259 591l6 6m0-6l-6 6M259 595l6 6m0-6l-6 6M262 593l6 6m0-6l-6 6M262 626l6 6m0-6l-6 6M262 601l6 6m0-6l-6 6M262 597l6 6m0-6l-6 6M262 596l6 6m0-6l-6 6M262 604l6 6m0-6l-6 6M262 627l6 6m0-6l-6 6M262 594l6 6m0-6l-6 6M262 623l6 6m0-6l-6 6M262 629l6 6m0-6l-6 6M262 598l6 6m0-6l-6 6M263 596l6 6m0-6l-6 6M263 597l6 6m0-6l-6 6M263 568l6 6m0-6l-6 6M263 601l6 6m0-6l-6 6M266 562l6 6m0-6l-6 6M267 603l6 6m0-6l-6 6M267 584l6 6m0-6l-6 6M267 625l6 6m0-6l-6 6M267 583l6 6m0-6l-6 6M267 591l6 6m0-6l-6 6M267 619l6 6m0-6l-6 6M267 618l6 6m0-6l-6 6M268 627l6 6m0-6l-6 6M268 641l6 6m0-6l-6 6M268 608l6 6m0-6l-6 6M268 594l6 6m0-6l-6 6M268 557l6 6m0-6l-6 6M268 636l6 6m0-6l-6 6M270 584l6 6m0-6l-6 6M270 589l6 6m0-6l-6 6M271 604l6 6m0-6l-6 6M271 572l6 6m0-6l-6 6M271 570l6 6m0-6l-6 6M271 589l6 6m0-6l-6 6M271 625l6 6m0-6l-6 6M271 612l6 6m0-6l-6 6M271 619l6 6m0-6l-6 6M273 626l6 6m0-6l-6 6M273 610l6 6m0-6l-6 6M273 623l6 6m0-6l-6 6M273 579l6 6m0-6l-6 6M273 616l6 6m0-6l-6 6M273 586l6 6m0-6l-6 6M273 621l6 6m0-6l-6 6M274 567l6 6m0-6l-6 6M274 552l6 6m0-6l-6 6M276 594l6 6m0-6l-6 6M276 567l6 6m0-6l-6 6M276 611l6 6m0-6l-6 6M276 606l6 6m0-6l-6 6M276 587l6 6m0-6l-6 6M276 572l6 6m0-6l-6 6M276 595l6 6m0-6l-6 6M276 581l6 6m0-6l-6 6M276 577l6 6m0-6l-6 6M276 605l6 6m0-6l-6 6M276 583l6 6m0-6l-6 6M276 605l6 6m0-6l-6 6M280 606l6 6m0-6l-6 6M280 607l6 6m0-6l-6 6M280 626l6 6m0-6l-6 6M281 599l6 6m0-6l-6 6M281 600l6 6m0-6l-6 6M281 580l6 6m0-6l-6 6M281 595l6 6m0-6l-6 6M281 591l6 6m0-6l-6 6M281 598l6 6m0-6l-6 6M281 595l6 6m0-6l-6 6M286 581l6 6m0-6l-6 6M286 578l6 6m0-6l-6 6M286 584l6 6m0-6l-6 6M286 630l6 6m0-6l-6 6M286 608l6 6m0-6l-6 6M286 595l6 6m0-6l-6 6M286 625l6 6m0-6l-6 6M286 617l6 6m0-6l-6 6M286 582l6 6m0-6l-6 6M286 581l6 6m0-6l-6 6M286 580l6 6m0-6l-6 6M287 600l6 6m0-6l-6 6M288 568l6 6m0-6l-6 6M288 595l6 6m0-6l-6 6M288 589l6 6m0-6l-6 6M288 598l6 6m0-6l-6 6M288 588l6 6m0-6l-6 6M288 616l6 6m0-6l-6 6M289 592l6 6m0-6l-6 6M289 589l6 6m0-6l-6 6M289 608l6 6m0-6l-6 6M289 581l6 6m0-6l-6 6M289 586l6 6m0-6l-6 6M289 595l6 6m0-6l-6 6M289 574l6 6m0-6l-6 6M290 599l6 6m0-6l-6 6M290 608l6 6m0-6l-6 6M290 596l6 6m0-6l-6 6M290 585l6 6m0-6l-6 6M290 596l6 6m0-6l-6 6M290 590l6 6m0-6l-6 6M290 577l6 6m0-6l-6 6M291 577l6 6m0-6l-6 6M291 585l6 6m0-6l-6 6M291 590l6 6m0-6l-6 6M291 572l6 6m0-6l-6 6M294 644l6 6m0-6l-6 6M294 579l6 6m0-6l-6 6M294 578l6 6m0-6l-6 6M294 587l6 6m0-6l-6 6M294 603l6 6m0-6l-6 6M294 571l6 6m0-6l-6 6M295 582l6 6m0-6l-6 6M298 595l6 6m0-6l-6 6M299 610l6 6m0-6l-6 6M299 625l6 6m0-6l-6 6M299 593l6 6m0-6l-6 6M299 595l6 6m0-6l-6 6M300 610l6 6m0-6l-6 6M301 617l6 6m0-6l-6 6M301 642l6 6m0-6l-6 6M302 606l6 6m0-6l-6 6M302 580l6 6m0-6l-6 6M302 615l6 6m0-6l-6 6M302 600l6 6m0-6l-6 6M303 601l6 6m0-6l-6 6M303 605l6 6m0-6l-6 6M303 564l6 6m0-6l-6 6M303 609l6 6m0-6l-6 6M304 570l6 6m0-6l-6 6M304 587l6 6m0-6l-6 6M304 573l6 6m0-6l-6 6M306 570l6 6m0-6l-6 6M306 554l6 6m0-6l-6 6M306 585l6 6m0-6l-6 6M306 597l6 6m0-6l-6 6M306 572l6 6m0-6l-6 6M306 558l6 6m0-6l-6 6M306 598l6 6m0-6l-6 6M306 579l6 6m0-6l-6 6M306 598l6 6m0-6l-6 6M306 594l6 6m0-6l-6 6M306 568l6 6m0-6l-6 6M309 600l6 6m0-6l-6 6M310 624l6 6m0-6l-6 6M310 625l6 6m0-6l-6 6M310 628l6 6m0-6l-6 6M310 609l6 6m0-6l-6 6M310 594l6 6m0-6l-6 6M310 615l6 6m0-6l-6 6M310 612l6 6m0-6l-6 6M310 617l6 6m0-6l-6 6M310 628l6 6m0-6l-6 6M310 603l6 6m0-6l-6 6M310 586l6 6m0-6l-6 6M314 583l6 6m0-6l-6 6M314 584l6 6m0-6l-6 6M315 575l6 6m0-6l-6 6M315 581l6 6m0-6l-6 6M315 589l6 6m0-6l-6 6M315 581l6 6m0-6l-6 6M315 569l6 6m0-6l-6 6M315 590l6 6m0-6l-6 6M315 575l6 6m0-6l-6 6M315 561l6 6m0-6l-6 6M315 620l6 6m0-6l-6 6M315 577l6 6m0-6l-6 6M315 578l6 6m0-6l-6 6M315 599l6 6m0-6l-6 6M315 592l6 6m0-6l-6 6M316 584l6 6m0-6l-6 6M317 597l6 6m0-6l-6 6M317 556l6 6m0-6l-6 6M317 572l6 6m0-6l-6 6M317 573l6 6m0-6l-6 6M318 616l6 6m0-6l-6 6M318 557l6 6m0-6l-6 6M318 601l6 6m0-6l-6 6M318 553l6 6m0-6l-6 6M319 599l6 6m0-6l-6 6M319 590l6 6m0-6l-6 6M319 575l6 6m0-6l-6 6M319 607l6 6m0-6l-6 6M320 596l6 6m0-6l-6 6M320 627l6 6m0-6l-6 6M320 573l6 6m0-6l-6 6M320 605l6 6m0-6l-6 6M320 576l6 6m0-6l-6 6M321 588l6 6m0-6l-6 6M321 603l6 6m0-6l-6 6M321 597l6 6m0-6l-6 6M322 617l6 6m0-6l-6 6M322 609l6 6m0-6l-6 6M323 574l6 6m0-6l-6 6M324 619l6 6m0-6l-6 6M324 565l6 6m0-6l-6 6M325 632l6 6m0-6l-6 6M326 602l6 6m0-6l-6 6M326 622l6 6m0-6l-6 6M327 594l6 6m0-6l-6 6M327 602l6 6m0-6l-6 6M327 603l6 6m0-6l-6 6M328 585l6 6m0-6l-6 6M328 569l6 6m0-6l-6 6M328 635l6 6m0-6l-6 6M328 577l6 6m0-6l-6 6M328 589l6 6m0-6l-6 6M328 580l6 6m0-6l-6 6M329 613l6 6m0-6l-6 6M329 606l6 6m0-6l-6 6M329 577l6 6m0-6l-6 6M329 601l6 6m0-6l-6 6M329 595l6 6m0-6l-6 6M329 602l6 6m0-6l-6 6M329 615l6 6m0-6l-6 6M329 586l6 6m0-6l-6 6M329 582l6 6m0-6l-6 6M330 600l6 6m0-6l-6 6M330 586l6 6m0-6l-6 6M330 615l6 6m0-6l-6 6M332 597l6 6m0-6l-6 6M332 618l6 6m0-6l-6 6M332 598l6 6m0-6l-6 6M333 604l6 6m0-6l-6 6M333 585l6 6m0-6l-6 6M333 592l6 6m0-6l-6 6M333 610l6 6m0-6l-6 6M334 597l6 6m0-6l-6 6M334 591l6 6m0-6l-6 6M336 613l6 6m0-6l-6 6M341 597l6 6m0-6l-6 6M341 599l6 6m0-6l-6 6M341 582l6 6m0-6l-6 6M342 611l6 6m0-6l-6 6M342 556l6 6m0-6l-6 6M343 602l6 6m0-6l-6 6M343 586l6 6m0-6l-6 6M343 583l6 6m0-6l-6 6M344 600l6 6m0-6l-6 6M343 603l6 6m0-6l-6 6M343 604l6 6m0-6l-6 6M343 571l6 6m0-6l-6 6M343 569l6 6m0-6l-6 6M343 586l6 6m0-6l-6 6M343 583l6 6m0-6l-6 6M343 603l6 6m0-6l-6 6M343 601l6 6m0-6l-6 6M343 584l6 6m0-6l-6 6M343 611l6 6m0-6l-6 6M343 601l6 6m0-6l-6 6M343 583l6 6m0-6l-6 6M346 593l6 6m0-6l-6 6M346 573l6 6m0-6l-6 6M346 605l6 6m0-6l-6 6M346 602l6 6m0-6l-6 6M347 607l6 6m0-6l-6 6M347 579l6 6m0-6l-6 6M347 590l6 6m0-6l-6 6M347 611l6 6m0-6l-6 6M347 595l6 6m0-6l-6 6M348 553l6 6m0-6l-6 6M348 564l6 6m0-6l-6 6M348 623l6 6m0-6l-6 6M348 588l6 6m0-6l-6 6M351 590l6 6m0-6l-6 6M351 595l6 6m0-6l-6 6M351 591l6 6m0-6l-6 6M351 602l6 6m0-6l-6 6M351 602l6 6m0-6l-6 6M351 597l6 6m0-6l-6 6M351 567l6 6m0-6l-6 6M353 560l6 6m0-6l-6 6M357 572l6 6m0-6l-6 6M358 562l6 6m0-6l-6 6M358 590l6 6m0-6l-6 6M358 617l6 6m0-6l-6 6M358 580l6 6m0-6l-6 6M359 561l6 6m0-6l-6 6M359 565l6 6m0-6l-6 6M359 602l6 6m0-6l-6 6M359 576l6 6m0-6l-6 6M360 599l6 6m0-6l-6 6M360 574l6 6m0-6l-6 6M360 603l6 6m0-6l-6 6M360 567l6 6m0-6l-6 6M360 578l6 6m0-6l-6 6M360 576l6 6m0-6l-6 6M360 588l6 6m0-6l-6 6M360 558l6 6m0-6l-6 6M360 630l6 6m0-6l-6 6M361 591l6 6m0-6l-6 6M361 564l6 6m0-6l-6 6M361 629l6 6m0-6l-6 6M361 577l6 6m0-6l-6 6M364 599l6 6m0-6l-6 6M364 600l6 6m0-6l-6 6M364 625l6 6m0-6l-6 6M365 604l6 6m0-6l-6 6M365 565l6 6m0-6l-6 6M365 563l6 6m0-6l-6 6M365 585l6 6m0-6l-6 6M365 605l6 6m0-6l-6 6M365 603l6 6m0-6l-6 6M365 585l6 6m0-6l-6 6M366 609l6 6m0-6l-6 6M366 621l6 6m0-6l-6 6M366 623l6 6m0-6l-6 6M366 559l6 6m0-6l-6 6M366 574l6 6m0-6l-6 6M366 614l6 6m0-6l-6 6M366 596l6 6m0-6l-6 6M367 586l6 6m0-6l-6 6M367 582l6 6m0-6l-6 6M367 555l6 6m0-6l-6 6M367 617l6 6m0-6l-6 6M367 606l6 6m0-6l-6 6M367 604l6 6m0-6l-6 6M367 590l6 6m0-6l-6 6M367 573l6 6m0-6l-6 6M368 618l6 6m0-6l-6 6M368 610l6 6m0-6l-6 6M368 584l6 6m0-6l-6 6M368 585l6 6m0-6l-6 6M370 628l6 6m0-6l-6 6M370 610l6 6m0-6l-6 6M371 614l6 6m0-6l-6 6M371 603l6 6m0-6l-6 6M371 591l6 6m0-6l-6 6M372 604l6 6m0-6l-6 6M372 611l6 6m0-6l-6 6M372 584l6 6m0-6l-6 6M373 612l6 6m0-6l-6 6M372 578l6 6m0-6l-6 6M373 589l6 6m0-6l-6 6M373 636l6 6m0-6l-6 6M373 603l6 6m0-6l-6 6M373 613l6 6m0-6l-6 6M374 584l6 6m0-6l-6 6M374 616l6 6m0-6l-6 6M374 617l6 6m0-6l-6 6M375 580l6 6m0-6l-6 6M375 587l6 6m0-6l-6 6M375 598l6 6m0-6l-6 6M375 594l6 6m0-6l-6 6M375 605l6 6m0-6l-6 6M376 559l6 6m0-6l-6 6M376 567l6 6m0-6l-6 6M376 588l6 6m0-6l-6 6M376 572l6 6m0-6l-6 6M376 591l6 6m0-6l-6 6M378 584l6 6m0-6l-6 6M378 597l6 6m0-6l-6 6M379 561l6 6m0-6l-6 6M379 594l6 6m0-6l-6 6M379 567l6 6m0-6l-6 6M379 566l6 6m0-6l-6 6M379 564l6 6m0-6l-6 6M379 635l6 6m0-6l-6 6M379 590l6 6m0-6l-6 6M379 605l6 6m0-6l-6 6M379 625l6 6m0-6l-6 6M379 585l6 6m0-6l-6 6M379 601l6 6m0-6l-6 6M383 569l6 6m0-6l-6 6M383 579l6 6m0-6l-6 6M383 592l6 6m0-6l-6 6M384 609l6 6m0-6l-6 6M384 622l6 6m0-6l-6 6M384 591l6 6m0-6l-6 6M384 587l6 6m0-6l-6 6M384 608l6 6m0-6l-6 6M384 576l6 6m0-6l-6 6M384 573l6 6m0-6l-6 6M385 574l6 6m0-6l-6 6M385 589l6 6m0-6l-6 6M385 592l6 6m0-6l-6 6M385 599l6 6m0-6l-6 6M385 577l6 6m0-6l-6 6M386 605l6 6m0-6l-6 6M386 625l6 6m0-6l-6 6M386 615l6 6m0-6l-6 6M386 585l6 6m0-6l-6 6M386 592l6 6m0-6l-6 6M386 571l6 6m0-6l-6 6M386 599l6 6m0-6l-6 6M386 597l6 6m0-6l-6 6M387 603l6 6m0-6l-6 6M387 607l6 6m0-6l-6 6M391 609l6 6m0-6l-6 6M391 595l6 6m0-6l-6 6M391 627l6 6m0-6l-6 6M391 632l6 6m0-6l-6 6M391 611l6 6m0-6l-6 6M391 662l6 6m0-6l-6 6M391 588l6 6m0-6l-6 6M391 602l6 6m0-6l-6 6M391 578l6 6m0-6l-6 6M391 591l6 6m0-6l-6 6M391 574l6 6m0-6l-6 6M391 593l6 6m0-6l-6 6M393 566l6 6m0-6l-6 6M393 614l6 6m0-6l-6 6M393 602l6 6m0-6l-6 6M393 580l6 6m0-6l-6 6M393 608l6 6m0-6l-6 6M393 581l6 6m0-6l-6 6M393 598l6 6m0-6l-6 6M393 582l6 6m0-6l-6 6M393 597l6 6m0-6l-6 6M393 611l6 6m0-6l-6 6M394 624l6 6m0-6l-6 6M394 593l6 6m0-6l-6 6M394 559l6 6m0-6l-6 6M394 593l6 6m0-6l-6 6M394 611l6 6m0-6l-6 6M396 622l6 6m0-6l-6 6M396 584l6 6m0-6l-6 6M397 622l6 6m0-6l-6 6M397 627l6 6m0-6l-6 6M397 582l6 6m0-6l-6 6M397 594l6 6m0-6l-6 6M400 613l6 6m0-6l-6 6M400 587l6 6m0-6l-6 6M400 605l6 6m0-6l-6 6M400 596l6 6m0-6l-6 6M400 598l6 6m0-6l-6 6M401 624l6 6m0-6l-6 6M401 593l6 6m0-6l-6 6M401 610l6 6m0-6l-6 6M401 629l6 6m0-6l-6 6M401 606l6 6m0-6l-6 6M401 627l6 6m0-6l-6 6M402 633l6 6m0-6l-6 6M402 590l6 6m0-6l-6 6M402 628l6 6m0-6l-6 6M403 571l6 6m0-6l-6 6M403 570l6 6m0-6l-6 6M403 564l6 6m0-6l-6 6M403 588l6 6m0-6l-6 6M403 595l6 6m0-6l-6 6M403 578l6 6m0-6l-6 6M403 577l6 6m0-6l-6 6M404 605l6 6m0-6l-6 6M404 610l6 6m0-6l-6 6M404 596l6 6m0-6l-6 6M404 604l6 6m0-6l-6 6M404 574l6 6m0-6l-6 6M404 572l6 6m0-6l-6 6M405 597l6 6m0-6l-6 6M406 599l6 6m0-6l-6 6M409 577l6 6m0-6l-6 6M409 604l6 6m0-6l-6 6M409 573l6 6m0-6l-6 6M410 616l6 6m0-6l-6 6M410 612l6 6m0-6l-6 6M410 598l6 6m0-6l-6 6M411 600l6 6m0-6l-6 6M411 634l6 6m0-6l-6 6M411 607l6 6m0-6l-6 6M412 605l6 6m0-6l-6 6M412 618l6 6m0-6l-6 6M414 635l6 6m0-6l-6 6M415 608l6 6m0-6l-6 6M415 613l6 6m0-6l-6 6M416 618l6 6m0-6l-6 6M416 648l6 6m0-6l-6 6M416 585l6 6m0-6l-6 6M418 622l6 6m0-6l-6 6M418 589l6 6m0-6l-6 6M418 607l6 6m0-6l-6 6M418 572l6 6m0-6l-6 6M418 628l6 6m0-6l-6 6M418 635l6 6m0-6l-6 6M418 614l6 6m0-6l-6 6M418 603l6 6m0-6l-6 6M418 598l6 6m0-6l-6 6M419 579l6 6m0-6l-6 6M419 614l6 6m0-6l-6 6M419 592l6 6m0-6l-6 6M419 583l6 6m0-6l-6 6M419 604l6 6m0-6l-6 6M422 618l6 6m0-6l-6 6M422 605l6 6m0-6l-6 6M422 603l6 6m0-6l-6 6M422 590l6 6m0-6l-6 6M422 630l6 6m0-6l-6 6M422 588l6 6m0-6l-6 6M422 613l6 6m0-6l-6 6M423 626l6 6m0-6l-6 6M423 603l6 6m0-6l-6 6M427 616l6 6m0-6l-6 6M427 614l6 6m0-6l-6 6M427 594l6 6m0-6l-6 6M428 629l6 6m0-6l-6 6M428 607l6 6m0-6l-6 6M428 627l6 6m0-6l-6 6M430 650l6 6m0-6l-6 6M430 594l6 6m0-6l-6 6M430 620l6 6m0-6l-6 6M431 640l6 6m0-6l-6 6M431 622l6 6m0-6l-6 6M431 605l6 6m0-6l-6 6M432 624l6 6m0-6l-6 6M435 587l6 6m0-6l-6 6M435 593l6 6m0-6l-6 6M435 617l6 6m0-6l-6 6M435 604l6 6m0-6l-6 6M435 593l6 6m0-6l-6 6M436 626l6 6m0-6l-6 6M436 609l6 6m0-6l-6 6M436 619l6 6m0-6l-6 6M438 611l6 6m0-6l-6 6M438 589l6 6m0-6l-6 6M438 600l6 6m0-6l-6 6M439 622l6 6m0-6l-6 6M439 590l6 6m0-6l-6 6M439 594l6 6m0-6l-6 6M439 613l6 6m0-6l-6 6M439 636l6 6m0-6l-6 6M439 594l6 6m0-6l-6 6M439 583l6 6m0-6l-6 6M439 657l6 6m0-6l-6 6M443 633l6 6m0-6l-6 6M443 609l6 6m0-6l-6 6M443 615l6 6m0-6l-6 6M444 602l6 6m0-6l-6 6M444 600l6 6m0-6l-6 6M444 650l6 6m0-6l-6 6M444 604l6 6m0-6l-6 6M445 631l6 6m0-6l-6 6M445 599l6 6m0-6l-6 6M445 654l6 6m0-6l-6 6M445 629l6 6m0-6l-6 6M445 592l6 6m0-6l-6 6M446 591l6 6m0-6l-6 6M446 628l6 6m0-6l-6 6M446 619l6 6m0-6l-6 6M446 618l6 6m0-6l-6 6M448 601l6 6m0-6l-6 6M448 625l6 6m0-6l-6 6M449 603l6 6m0-6l-6 6M449 635l6 6m0-6l-6 6M449 629l6 6m0-6l-6 6M450 606l6 6m0-6l-6 6M450 604l6 6m0-6l-6 6M450 609l6 6m0-6l-6 6M451 608l6 6m0-6l-6 6M451 669l6 6m0-6l-6 6M451 617l6 6m0-6l-6 6M452 633l6 6m0-6l-6 6M452 594l6 6m0-6l-6 6M453 602l6 6m0-6l-6 6M453 637l6 6m0-6l-6 6M453 636l6 6m0-6l-6 6M453 618l6 6m0-6l-6 6M456 627l6 6m0-6l-6 6M456 627l6 6m0-6l-6 6M456 606l6 6m0-6l-6 6M457 590l6 6m0-6l-6 6M457 617l6 6m0-6l-6 6M457 635l6 6m0-6l-6 6M458 618l6 6m0-6l-6 6M458 628l6 6m0-6l-6 6M458 626l6 6m0-6l-6 6M458 618l6 6m0-6l-6 6M459 651l6 6m0-6l-6 6M461 571l6 6m0-6l-6 6M465 635l6 6m0-6l-6 6M466 617l6 6m0-6l-6 6M466 619l6 6m0-6l-6 6M467 638l6 6m0-6l-6 6M467 610l6 6m0-6l-6 6M467 625l6 6m0-6l-6 6M468 619l6 6m0-6l-6 6M468 648l6 6m0-6l-6 6M470 641l6 6m0-6l-6 6M470 615l6 6m0-6l-6 6M470 621l6 6m0-6l-6 6M470 612l6 6m0-6l-6 6M471 618l6 6m0-6l-6 6M471 595l6 6m0-6l-6 6M471 613l6 6m0-6l-6 6M472 629l6 6m0-6l-6 6M472 615l6 6m0-6l-6 6M472 648l6 6m0-6l-6 6M472 608l6 6m0-6l-6 6M475 585l6 6m0-6l-6 6M475 604l6 6m0-6l-6 6M476 638l6 6m0-6l-6 6M476 613l6 6m0-6l-6 6M476 618l6 6m0-6l-6 6M476 628l6 6m0-6l-6 6M476 633l6 6m0-6l-6 6M477 659l6 6m0-6l-6 6M477 602l6 6m0-6l-6 6M477 613l6 6m0-6l-6 6M477 651l6 6m0-6l-6 6M480 608l6 6m0-6l-6 6M480 598l6 6m0-6l-6 6M480 612l6 6m0-6l-6 6M480 652l6 6m0-6l-6 6M480 571l6 6m0-6l-6 6M480 602l6 6m0-6l-6 6M480 614l6 6m0-6l-6 6M480 654l6 6m0-6l-6 6M481 639l6 6m0-6l-6 6M481 632l6 6m0-6l-6 6M481 627l6 6m0-6l-6 6M481 652l6 6m0-6l-6 6M481 626l6 6m0-6l-6 6M481 625l6 6m0-6l-6 6M481 632l6 6m0-6l-6 6M482 598l6 6m0-6l-6 6M482 624l6 6m0-6l-6 6M482 600l6 6m0-6l-6 6M482 619l6 6m0-6l-6 6M482 627l6 6m0-6l-6 6M482 602l6 6m0-6l-6 6M482 591l6 6m0-6l-6 6M483 631l6 6m0-6l-6 6M483 669l6 6m0-6l-6 6M483 616l6 6m0-6l-6 6M483 606l6 6m0-6l-6 6M485 663l6 6m0-6l-6 6M486 634l6 6m0-6l-6 6M486 634l6 6m0-6l-6 6M486 638l6 6m0-6l-6 6M486 624l6 6m0-6l-6 6M486 614l6 6m0-6l-6 6M486 591l6 6m0-6l-6 6M486 606l6 6m0-6l-6 6M488 639l6 6m0-6l-6 6M489 637l6 6m0-6l-6 6M489 603l6 6m0-6l-6 6M489 645l6 6m0-6l-6 6M489 596l6 6m0-6l-6 6M490 663l6 6m0-6l-6 6M490 605l6 6m0-6l-6 6M490 617l6 6m0-6l-6 6M490 644l6 6m0-6l-6 6M491 656l6 6m0-6l-6 6M491 622l6 6m0-6l-6 6M491 619l6 6m0-6l-6 6M491 598l6 6m0-6l-6 6M491 616l6 6m0-6l-6 6M491 610l6 6m0-6l-6 6M492 647l6 6m0-6l-6 6M492 624l6 6m0-6l-6 6M492 600l6 6m0-6l-6 6M492 624l6 6m0-6l-6 6M493 633l6 6m0-6l-6 6M493 626l6 6m0-6l-6 6M493 654l6 6m0-6l-6 6M493 642l6 6m0-6l-6 6M495 627l6 6m0-6l-6 6M495 620l6 6m0-6l-6 6M496 603l6 6m0-6l-6 6M496 602l6 6m0-6l-6 6M496 648l6 6m0-6l-6 6M496 618l6 6m0-6l-6 6M496 616l6 6m0-6l-6 6M497 622l6 6m0-6l-6 6M497 624l6 6m0-6l-6 6M497 651l6 6m0-6l-6 6M500 622l6 6m0-6l-6 6M500 637l6 6m0-6l-6 6M500 634l6 6m0-6l-6 6M500 602l6 6m0-6l-6 6M500 633l6 6m0-6l-6 6M500 603l6 6m0-6l-6 6M500 630l6 6m0-6l-6 6M500 623l6 6m0-6l-6 6M500 606l6 6m0-6l-6 6M500 629l6 6m0-6l-6 6M504 665l6 6m0-6l-6 6M504 593l6 6m0-6l-6 6M504 619l6 6m0-6l-6 6M504 624l6 6m0-6l-6 6M504 639l6 6m0-6l-6 6M504 621l6 6m0-6l-6 6M504 601l6 6m0-6l-6 6M504 647l6 6m0-6l-6 6M505 624l6 6m0-6l-6 6M505 624l6 6m0-6l-6 6M505 604l6 6m0-6l-6 6M505 620l6 6m0-6l-6 6M505 620l6 6m0-6l-6 6M505 620l6 6m0-6l-6 6M505 608l6 6m0-6l-6 6M508 613l6 6m0-6l-6 6M508 636l6 6m0-6l-6 6M508 639l6 6m0-6l-6 6M508 632l6 6m0-6l-6 6M508 613l6 6m0-6l-6 6M508 658l6 6m0-6l-6 6M509 602l6 6m0-6l-6 6M509 613l6 6m0-6l-6 6M509 635l6 6m0-6l-6 6M509 649l6 6m0-6l-6 6M511 610l6 6m0-6l-6 6M511 634l6 6m0-6l-6 6M511 606l6 6m0-6l-6 6M511 610l6 6m0-6l-6 6M511 619l6 6m0-6l-6 6M513 630l6 6m0-6l-6 6M513 602l6 6m0-6l-6 6M513 592l6 6m0-6l-6 6M514 632l6 6m0-6l-6 6M514 586l6 6m0-6l-6 6M514 573l6 6m0-6l-6 6M514 610l6 6m0-6l-6 6M514 597l6 6m0-6l-6 6M515 621l6 6m0-6l-6 6M515 600l6 6m0-6l-6 6M515 620l6 6m0-6l-6 6M515 602l6 6m0-6l-6 6M516 608l6 6m0-6l-6 6M516 615l6 6m0-6l-6 6M516 577l6 6m0-6l-6 6M516 613l6 6m0-6l-6 6M516 608l6 6m0-6l-6 6M516 664l6 6m0-6l-6 6M516 619l6 6m0-6l-6 6M517 618l6 6m0-6l-6 6M517 619l6 6m0-6l-6 6M517 635l6 6m0-6l-6 6M517 630l6 6m0-6l-6 6M517 636l6 6m0-6l-6 6M519 604l6 6m0-6l-6 6M519 635l6 6m0-6l-6 6M519 604l6 6m0-6l-6 6M519 613l6 6m0-6l-6 6M519 636l6 6m0-6l-6 6M519 627l6 6m0-6l-6 6M519 644l6 6m0-6l-6 6M520 618l6 6m0-6l-6 6M520 595l6 6m0-6l-6 6M524 624l6 6m0-6l-6 6M524 637l6 6m0-6l-6 6M524 622l6 6m0-6l-6 6M524 649l6 6m0-6l-6 6M524 596l6 6m0-6l-6 6M524 604l6 6m0-6l-6 6M524 613l6 6m0-6l-6 6M524 585l6 6m0-6l-6 6M524 626l6 6m0-6l-6 6M524 634l6 6m0-6l-6 6M524 615l6 6m0-6l-6 6M524 608l6 6m0-6l-6 6M524 644l6 6m0-6l-6 6M524 615l6 6m0-6l-6 6M524 627l6 6m0-6l-6 6M527 647l6 6m0-6l-6 6M527 650l6 6m0-6l-6 6M527 619l6 6m0-6l-6 6M527 646l6 6m0-6l-6 6M527 652l6 6m0-6l-6 6M527 610l6 6m0-6l-6 6M528 647l6 6m0-6l-6 6M528 630l6 6m0-6l-6 6M528 613l6 6m0-6l-6 6M528 624l6 6m0-6l-6 6M531 662l6 6m0-6l-6 6M531 645l6 6m0-6l-6 6M531 653l6 6m0-6l-6 6M531 607l6 6m0-6l-6 6M531 626l6 6m0-6l-6 6M532 615l6 6m0-6l-6 6M532 596l6 6m0-6l-6 6M535 641l6 6m0-6l-6 6M535 628l6 6m0-6l-6 6M535 631l6 6m0-6l-6 6M536 659l6 6m0-6l-6 6M536 626l6 6m0-6l-6 6M537 639l6 6m0-6l-6 6M537 632l6 6m0-6l-6 6M537 621l6 6m0-6l-6 6M538 676l6 6m0-6l-6 6M538 620l6 6m0-6l-6 6M539 634l6 6m0-6l-6 6M540 618l6 6m0-6l-6 6M540 623l6 6m0-6l-6 6M540 622l6 6m0-6l-6 6M540 641l6 6m0-6l-6 6M540 647l6 6m0-6l-6 6M541 639l6 6m0-6l-6 6M541 644l6 6m0-6l-6 6M541 609l6 6m0-6l-6 6M541 624l6 6m0-6l-6 6M541 628l6 6m0-6l-6 6M541 660l6 6m0-6l-6 6M544 659l6 6m0-6l-6 6M544 655l6 6m0-6l-6 6M544 656l6 6m0-6l-6 6M544 656l6 6m0-6l-6 6M544 644l6 6m0-6l-6 6M545 590l6 6m0-6l-6 6M549 640l6 6m0-6l-6 6M549 637l6 6m0-6l-6 6M549 651l6 6m0-6l-6 6M549 636l6 6m0-6l-6 6M549 619l6 6m0-6l-6 6M549 661l6 6m0-6l-6 6M549 648l6 6m0-6l-6 6M549 638l6 6m0-6l-6 6M551 642l6 6m0-6l-6 6M552 621l6 6m0-6l-6 6M552 633l6 6m0-6l-6 6M553 594l6 6m0-6l-6 6M553 621l6 6m0-6l-6 6M554 664l6 6m0-6l-6 6M554 663l6 6m0-6l-6 6M553 639l6 6m0-6l-6 6M553 623l6 6m0-6l-6 6M553 639l6 6m0-6l-6 6M554 622l6 6m0-6l-6 6M554 608l6 6m0-6l-6 6M554 631l6 6m0-6l-6 6M555 640l6 6m0-6l-6 6M555 633l6 6m0-6l-6 6M555 651l6 6m0-6l-6 6M555 628l6 6m0-6l-6 6M556 638l6 6m0-6l-6 6M558 629l6 6m0-6l-6 6M559 620l6 6m0-6l-6 6M560 636l6 6m0-6l-6 6M560 589l6 6m0-6l-6 6M561 623l6 6m0-6l-6 6M561 628l6 6m0-6l-6 6M562 667l6 6m0-6l-6 6M562 632l6 6m0-6l-6 6M562 594l6 6m0-6l-6 6M563 646l6 6m0-6l-6 6M565 618l6 6m0-6l-6 6M566 658l6 6m0-6l-6 6M566 630l6 6m0-6l-6 6M567 672l6 6m0-6l-6 6M567 625l6 6m0-6l-6 6M567 637l6 6m0-6l-6 6M570 657l6 6m0-6l-6 6M570 670l6 6m0-6l-6 6M571 612l6 6m0-6l-6 6M571 647l6 6m0-6l-6 6M572 631l6 6m0-6l-6 6M573 613l6 6m0-6l-6 6M573 637l6 6m0-6l-6 6M573 641l6 6m0-6l-6 6M573 665l6 6m0-6l-6 6M574 631l6 6m0-6l-6 6M574 648l6 6m0-6l-6 6M574 658l6 6m0-6l-6 6M574 617l6 6m0-6l-6 6M575 620l6 6m0-6l-6 6M578 658l6 6m0-6l-6 6M578 639l6 6m0-6l-6 6M578 622l6 6m0-6l-6 6M578 653l6 6m0-6l-6 6M579 637l6 6m0-6l-6 6M579 665l6 6m0-6l-6 6M579 656l6 6m0-6l-6 6M579 665l6 6m0-6l-6 6M580 634l6 6m0-6l-6 6M580 666l6 6m0-6l-6 6M581 635l6 6m0-6l-6 6M581 633l6 6m0-6l-6 6M581 609l6 6m0-6l-6 6M581 629l6 6m0-6l-6 6M582 601l6 6m0-6l-6 6M582 612l6 6m0-6l-6 6M582 625l6 6m0-6l-6 6M582 636l6 6m0-6l-6 6M583 632l6 6m0-6l-6 6M583 628l6 6m0-6l-6 6M583 636l6 6m0-6l-6 6M583 643l6 6m0-6l-6 6M583 650l6 6m0-6l-6 6M583 650l6 6m0-6l-6 6M583 628l6 6m0-6l-6 6M583 646l6 6m0-6l-6 6M584 666l6 6m0-6l-6 6M584 672l6 6m0-6l-6 6M584 631l6 6m0-6l-6 6M584 653l6 6m0-6l-6 6M584 623l6 6m0-6l-6 6M587 649l6 6m0-6l-6 6M588 625l6 6m0-6l-6 6M588 680l6 6m0-6l-6 6M588 624l6 6m0-6l-6 6M588 628l6 6m0-6l-6 6M588 650l6 6m0-6l-6 6M589 666l6 6m0-6l-6 6M589 654l6 6m0-6l-6 6M593 645l6 6m0-6l-6 6M593 655l6 6m0-6l-6 6M593 649l6 6m0-6l-6 6M593 625l6 6m0-6l-6 6M594 650l6 6m0-6l-6 6M594 609l6 6m0-6l-6 6M594 624l6 6m0-6l-6 6M594 655l6 6m0-6l-6 6M595 669l6 6m0-6l-6 6M595 637l6 6m0-6l-6 6M595 646l6 6m0-6l-6 6M598 680l6 6m0-6l-6 6M598 653l6 6m0-6l-6 6M598 685l6 6m0-6l-6 6M598 645l6 6m0-6l-6 6M598 643l6 6m0-6l-6 6M598 636l6 6m0-6l-6 6M598 633l6 6m0-6l-6 6M598 630l6 6m0-6l-6 6M598 676l6 6m0-6l-6 6M599 649l6 6m0-6l-6 6M599 658l6 6m0-6l-6 6M599 611l6 6m0-6l-6 6M599 615l6 6m0-6l-6 6M600 669l6 6m0-6l-6 6M600 645l6 6m0-6l-6 6M600 658l6 6m0-6l-6 6M600 660l6 6m0-6l-6 6M600 671l6 6m0-6l-6 6M600 648l6 6m0-6l-6 6M601 668l6 6m0-6l-6 6M604 638l6 6m0-6l-6 6M605 643l6 6m0-6l-6 6M605 622l6 6m0-6l-6 6M605 630l6 6m0-6l-6 6M608 693l6 6m0-6l-6 6M608 594l6 6m0-6l-6 6M608 614l6 6m0-6l-6 6M608 654l6 6m0-6l-6 6M609 658l6 6m0-6l-6 6M609 671l6 6m0-6l-6 6M609 662l6 6m0-6l-6 6M609 672l6 6m0-6l-6 6M609 604l6 6m0-6l-6 6M609 655l6 6m0-6l-6 6M609 638l6 6m0-6l-6 6M610 651l6 6m0-6l-6 6M610 635l6 6m0-6l-6 6M610 642l6 6m0-6l-6 6M611 628l6 6m0-6l-6 6M611 655l6 6m0-6l-6 6M611 635l6 6m0-6l-6 6M611 669l6 6m0-6l-6 6M612 641l6 6m0-6l-6 6M612 634l6 6m0-6l-6 6M612 657l6 6m0-6l-6 6M613 661l6 6m0-6l-6 6M613 637l6 6m0-6l-6 6M613 665l6 6m0-6l-6 6M615 626l6 6m0-6l-6 6M615 634l6 6m0-6l-6 6M616 652l6 6m0-6l-6 6M616 629l6 6m0-6l-6 6M616 685l6 6m0-6l-6 6M616 603l6 6m0-6l-6 6M617 641l6 6m0-6l-6 6M617 620l6 6m0-6l-6 6M617 667l6 6m0-6l-6 6M619 649l6 6m0-6l-6 6M620 658l6 6m0-6l-6 6M622 602l6 6m0-6l-6 6M624 627l6 6m0-6l-6 6M624 612l6 6m0-6l-6 6M625 663l6 6m0-6l-6 6M625 627l6 6m0-6l-6 6M625 653l6 6m0-6l-6 6M626 659l6 6m0-6l-6 6M626 660l6 6m0-6l-6 6M626 627l6 6m0-6l-6 6M627 632l6 6m0-6l-6 6M627 616l6 6m0-6l-6 6M627 652l6 6m0-6l-6 6M627 634l6 6m0-6l-6 6M627 634l6 6m0-6l-6 6M628 640l6 6m0-6l-6 6M628 624l6 6m0-6l-6 6M628 644l6 6m0-6l-6 6M628 650l6 6m0-6l-6 6M630 649l6 6m0-6l-6 6M630 627l6 6m0-6l-6 6M630 601l6 6m0-6l-6 6M630 636l6 6m0-6l-6 6M630 650l6 6m0-6l-6 6M630 648l6 6m0-6l-6 6M630 641l6 6m0-6l-6 6M630 633l6 6m0-6l-6 6M630 649l6 6m0-6l-6 6M631 625l6 6m0-6l-6 6M633 642l6 6m0-6l-6 6M633 632l6 6m0-6l-6 6M634 645l6 6m0-6l-6 6M634 662l6 6m0-6l-6 6M634 619l6 6m0-6l-6 6M634 647l6 6m0-6l-6 6M635 643l6 6m0-6l-6 6M635 666l6 6m0-6l-6 6M635 666l6 6m0-6l-6 6M635 648l6 6m0-6l-6 6M636 635l6 6m0-6l-6 6M638 657l6 6m0-6l-6 6M639 687l6 6m0-6l-6 6M639 666l6 6m0-6l-6 6M639 643l6 6m0-6l-6 6M639 629l6 6m0-6l-6 6M639 628l6 6m0-6l-6 6M639 628l6 6m0-6l-6 6M639 648l6 6m0-6l-6 6M640 621l6 6m0-6l-6 6M640 669l6 6m0-6l-6 6M640 647l6 6m0-6l-6 6M640 643l6 6m0-6l-6 6M640 670l6 6m0-6l-6 6M640 641l6 6m0-6l-6 6M640 625l6 6m0-6l-6 6M640 639l6 6m0-6l-6 6M642 625l6 6m0-6l-6 6M643 642l6 6m0-6l-6 6M644 630l6 6m0-6l-6 6M645 617l6 6m0-6l-6 6M646 676l6 6m0-6l-6 6M646 620l6 6m0-6l-6 6M646 641l6 6m0-6l-6 6M646 635l6 6m0-6l-6 6M646 674l6 6m0-6l-6 6M647 665l6 6m0-6l-6 6M647 631l6 6m0-6l-6 6M647 648l6 6m0-6l-6 6M647 615l6 6m0-6l-6 6M647 645l6 6m0-6l-6 6M647 623l6 6m0-6l-6 6M647 615l6 6m0-6l-6 6M647 644l6 6m0-6l-6 6M648 647l6 6m0-6l-6 6M649 640l6 6m0-6l-6 6M649 650l6 6m0-6l-6 6M649 659l6 6m0-6l-6 6M650 628l6 6m0-6l-6 6M650 651l6 6m0-6l-6 6M650 652l6 6m0-6l-6 6M651 638l6 6m0-6l-6 6M651 622l6 6m0-6l-6 6M651 661l6 6m0-6l-6 6M652 643l6 6m0-6l-6 6M652 648l6 6m0-6l-6 6M654 644l6 6m0-6l-6 6M654 636l6 6m0-6l-6 6M655 631l6 6m0-6l-6 6M655 609l6 6m0-6l-6 6M655 661l6 6m0-6l-6 6M655 630l6 6m0-6l-6 6M655 649l6 6m0-6l-6 6M655 631l6 6m0-6l-6 6M656 638l6 6m0-6l-6 6M656 666l6 6m0-6l-6 6M656 633l6 6m0-6l-6 6M656 647l6 6m0-6l-6 6M656 627l6 6m0-6l-6 6M656 634l6 6m0-6l-6 6M659 624l6 6m0-6l-6 6M659 668l6 6m0-6l-6 6M659 649l6 6m0-6l-6 6M660 643l6 6m0-6l-6 6M660 658l6 6m0-6l-6 6M660 638l6 6m0-6l-6 6M661 650l6 6m0-6l-6 6M661 618l6 6m0-6l-6 6M661 683l6 6m0-6l-6 6M662 643l6 6m0-6l-6 6M662 645l6 6m0-6l-6 6M662 646l6 6m0-6l-6 6M662 603l6 6m0-6l-6 6M662 624l6 6m0-6l-6 6M662 643l6 6m0-6l-6 6M663 636l6 6m0-6l-6 6M663 639l6 6m0-6l-6 6M667 617l6 6m0-6l-6 6M668 640l6 6m0-6l-6 6M669 623l6 6m0-6l-6 6M670 628l6 6m0-6l-6 6M671 639l6 6m0-6l-6 6M671 632l6 6m0-6l-6 6M671 667l6 6m0-6l-6 6M672 652l6 6m0-6l-6 6M672 623l6 6m0-6l-6 6M672 614l6 6m0-6l-6 6M673 642l6 6m0-6l-6 6M673 633l6 6m0-6l-6 6M673 676l6 6m0-6l-6 6M673 623l6 6m0-6l-6 6M674 634l6 6m0-6l-6 6M674 604l6 6m0-6l-6 6M674 590l6 6m0-6l-6 6M673 620l6 6m0-6l-6 6M673 622l6 6m0-6l-6 6M674 633l6 6m0-6l-6 6M674 624l6 6m0-6l-6 6M674 603l6 6m0-6l-6 6M674 649l6 6m0-6l-6 6M674 618l6 6m0-6l-6 6M675 608l6 6m0-6l-6 6M675 677l6 6m0-6l-6 6M675 677l6 6m0-6l-6 6M675 628l6 6m0-6l-6 6M676 639l6 6m0-6l-6 6M676 639l6 6m0-6l-6 6M676 632l6 6m0-6l-6 6M676 629l6 6m0-6l-6 6M677 636l6 6m0-6l-6 6M677 651l6 6m0-6l-6 6M677 636l6 6m0-6l-6 6M677 643l6 6m0-6l-6 6M678 608l6 6m0-6l-6 6M678 642l6 6m0-6l-6 6M678 635l6 6m0-6l-6 6M678 625l6 6m0-6l-6 6M679 639l6 6m0-6l-6 6M679 624l6 6m0-6l-6 6M679 642l6 6m0-6l-6 6M679 621l6 6m0-6l-6 6M679 618l6 6m0-6l-6 6M679 602l6 6m0-6l-6 6M679 628l6 6m0-6l-6 6M679 632l6 6m0-6l-6 6M680 666l6 6m0-6l-6 6M680 643l6 6m0-6l-6 6M680 617l6 6m0-6l-6 6M680 624l6 6m0-6l-6 6M680 623l6 6m0-6l-6 6M680 624l6 6m0-6l-6 6M680 660l6 6m0-6l-6 6M681 620l6 6m0-6l-6 6M681 628l6 6m0-6l-6 6M682 635l6 6m0-6l-6 6M682 626l6 6m0-6l-6 6M682 636l6 6m0-6l-6 6M683 633l6 6m0-6l-6 6M683 655l6 6m0-6l-6 6M683 651l6 6m0-6l-6 6M683 650l6 6m0-6l-6 6M683 626l6 6m0-6l-6 6M683 650l6 6m0-6l-6 6M687 646l6 6m0-6l-6 6M687 616l6 6m0-6l-6 6M688 645l6 6m0-6l-6 6M688 627l6 6m0-6l-6 6M688 648l6 6m0-6l-6 6M688 584l6 6m0-6l-6 6M688 629l6 6m0-6l-6 6M689 638l6 6m0-6l-6 6M691 622l6 6m0-6l-6 6M692 622l6 6m0-6l-6 6M692 625l6 6m0-6l-6 6M693 624l6 6m0-6l-6 6M693 630l6 6m0-6l-6 6M694 656l6 6m0-6l-6 6M695 628l6 6m0-6l-6 6M695 661l6 6m0-6l-6 6M695 638l6 6m0-6l-6 6M695 647l6 6m0-6l-6 6M696 602l6 6m0-6l-6 6M696 610l6 6m0-6l-6 6M696 676l6 6m0-6l-6 6M696 617l6 6m0-6l-6 6M697 641l6 6m0-6l-6 6M697 630l6 6m0-6l-6 6M697 622l6 6m0-6l-6 6M697 655l6 6m0-6l-6 6M697 623l6 6m0-6l-6 6M698 638l6 6m0-6l-6 6M698 612l6 6m0-6l-6 6M698 615l6 6m0-6l-6 6M698 654l6 6m0-6l-6 6M698 630l6 6m0-6l-6 6M698 610l6 6m0-6l-6 6M699 628l6 6m0-6l-6 6M699 613l6 6m0-6l-6 6M699 651l6 6m0-6l-6 6M699 631l6 6m0-6l-6 6M700 643l6 6m0-6l-6 6M700 636l6 6m0-6l-6 6M700 613l6 6m0-6l-6 6M700 615l6 6m0-6l-6 6M701 620l6 6m0-6l-6 6M702 651l6 6m0-6l-6 6M702 617l6 6m0-6l-6 6M703 642l6 6m0-6l-6 6M703 627l6 6m0-6l-6 6M703 666l6 6m0-6l-6 6M704 613l6 6m0-6l-6 6M704 622l6 6m0-6l-6 6M706 620l6 6m0-6l-6 6M706 608l6 6m0-6l-6 6M706 647l6 6m0-6l-6 6M706 642l6 6m0-6l-6 6M706 613l6 6m0-6l-6 6M706 630l6 6m0-6l-6 6M706 600l6 6m0-6l-6 6M706 647l6 6m0-6l-6 6M706 635l6 6m0-6l-6 6M706 635l6 6m0-6l-6 6M706 644l6 6m0-6l-6 6M706 597l6 6m0-6l-6 6M707 612l6 6m0-6l-6 6M707 637l6 6m0-6l-6 6M707 630l6 6m0-6l-6 6M710 658l6 6m0-6l-6 6M710 610l6 6m0-6l-6 6M710 607l6 6m0-6l-6 6M710 662l6 6m0-6l-6 6M711 624l6 6m0-6l-6 6M711 597l6 6m0-6l-6 6M711 642l6 6m0-6l-6 6M711 633l6 6m0-6l-6 6M711 653l6 6m0-6l-6 6M715 651l6 6m0-6l-6 6M715 605l6 6m0-6l-6 6M715 636l6 6m0-6l-6 6M715 615l6 6m0-6l-6 6M716 643l6 6m0-6l-6 6M716 645l6 6m0-6l-6 6M716 663l6 6m0-6l-6 6M716 627l6 6m0-6l-6 6M719 619l6 6m0-6l-6 6M719 630l6 6m0-6l-6 6M719 640l6 6m0-6l-6 6M719 585l6 6m0-6l-6 6M720 595l6 6m0-6l-6 6M720 588l6 6m0-6l-6 6M720 623l6 6m0-6l-6 6M720 633l6 6m0-6l-6 6M721 595l6 6m0-6l-6 6M723 639l6 6m0-6l-6 6M723 576l6 6m0-6l-6 6M724 635l6 6m0-6l-6 6M724 644l6 6m0-6l-6 6M725 621l6 6m0-6l-6 6M726 645l6 6m0-6l-6 6M726 607l6 6m0-6l-6 6M727 616l6 6m0-6l-6 6M727 629l6 6m0-6l-6 6M727 624l6 6m0-6l-6 6M727 583l6 6m0-6l-6 6M727 625l6 6m0-6l-6 6M728 625l6 6m0-6l-6 6M728 624l6 6m0-6l-6 6M729 627l6 6m0-6l-6 6M730 615l6 6m0-6l-6 6M731 623l6 6m0-6l-6 6M731 633l6 6m0-6l-6 6M732 634l6 6m0-6l-6 6M733 623l6 6m0-6l-6 6M733 658l6 6m0-6l-6 6M733 615l6 6m0-6l-6 6M733 596l6 6m0-6l-6 6M733 650l6 6m0-6l-6 6M734 650l6 6m0-6l-6 6M734 644l6 6m0-6l-6 6M734 623l6 6m0-6l-6 6M734 616l6 6m0-6l-6 6M735 617l6 6m0-6l-6 6M735 658l6 6m0-6l-6 6M735 624l6 6m0-6l-6 6M735 647l6 6m0-6l-6 6M736 635l6 6m0-6l-6 6M736 659l6 6m0-6l-6 6M736 598l6 6m0-6l-6 6M737 607l6 6m0-6l-6 6M737 614l6 6m0-6l-6 6M737 631l6 6m0-6l-6 6M737 614l6 6m0-6l-6 6M737 588l6 6m0-6l-6 6M737 615l6 6m0-6l-6 6M741 606l6 6m0-6l-6 6M741 608l6 6m0-6l-6 6M741 628l6 6m0-6l-6 6M742 612l6 6m0-6l-6 6M742 622l6 6m0-6l-6 6M742 642l6 6m0-6l-6 6M742 639l6 6m0-6l-6 6M742 600l6 6m0-6l-6 6M742 632l6 6m0-6l-6 6M742 629l6 6m0-6l-6 6M742 612l6 6m0-6l-6 6M742 629l6 6m0-6l-6 6M742 599l6 6m0-6l-6 6M744 627l6 6m0-6l-6 6M744 611l6 6m0-6l-6 6M745 631l6 6m0-6l-6 6M745 644l6 6m0-6l-6 6M746 649l6 6m0-6l-6 6M746 622l6 6m0-6l-6 6M746 618l6 6m0-6l-6 6M747 630l6 6m0-6l-6 6M747 626l6 6m0-6l-6 6M747 623l6 6m0-6l-6 6M747 662l6 6m0-6l-6 6M748 624l6 6m0-6l-6 6M748 635l6 6m0-6l-6 6M748 614l6 6m0-6l-6 6M748 622l6 6m0-6l-6 6M749 619l6 6m0-6l-6 6M749 637l6 6m0-6l-6 6M749 633l6 6m0-6l-6 6M749 626l6 6m0-6l-6 6M749 635l6 6m0-6l-6 6M750 620l6 6m0-6l-6 6M750 596l6 6m0-6l-6 6M750 655l6 6m0-6l-6 6M753 635l6 6m0-6l-6 6M753 610l6 6m0-6l-6 6M754 602l6 6m0-6l-6 6M754 605l6 6m0-6l-6 6M754 596l6 6m0-6l-6 6M754 617l6 6m0-6l-6 6M754 616l6 6m0-6l-6 6M754 608l6 6m0-6l-6 6M755 615l6 6m0-6l-6 6M755 605l6 6m0-6l-6 6M755 636l6 6m0-6l-6 6M755 603l6 6m0-6l-6 6M755 592l6 6m0-6l-6 6M756 603l6 6m0-6l-6 6M756 617l6 6m0-6l-6 6M756 604l6 6m0-6l-6 6M756 633l6 6m0-6l-6 6M756 601l6 6m0-6l-6 6M757 621l6 6m0-6l-6 6M757 605l6 6m0-6l-6 6M757 607l6 6m0-6l-6 6M758 643l6 6m0-6l-6 6M758 645l6 6m0-6l-6 6M758 606l6 6m0-6l-6 6M759 600l6 6m0-6l-6 6M759 646l6 6m0-6l-6 6M761 642l6 6m0-6l-6 6M761 608l6 6m0-6l-6 6M761 596l6 6m0-6l-6 6M762 604l6 6m0-6l-6 6M762 659l6 6m0-6l-6 6M762 615l6 6m0-6l-6 6M763 606l6 6m0-6l-6 6M763 660l6 6m0-6l-6 6M763 592l6 6m0-6l-6 6M763 602l6 6m0-6l-6 6M764 640l6 6m0-6l-6 6M764 644l6 6m0-6l-6 6M764 623l6 6m0-6l-6 6M765 627l6 6m0-6l-6 6M765 642l6 6m0-6l-6 6M765 623l6 6m0-6l-6 6M765 622l6 6m0-6l-6 6M766 591l6 6m0-6l-6 6M766 617l6 6m0-6l-6 6M766 620l6 6m0-6l-6 6M767 623l6 6m0-6l-6 6M768 587l6 6m0-6l-6 6M768 630l6 6m0-6l-6 6M768 630l6 6m0-6l-6 6M769 621l6 6m0-6l-6 6M769 612l6 6m0-6l-6 6M769 615l6 6m0-6l-6 6M770 650l6 6m0-6l-6 6M770 592l6 6m0-6l-6 6M770 633l6 6m0-6l-6 6M771 623l6 6m0-6l-6 6M772 589l6 6m0-6l-6 6M773 636l6 6m0-6l-6 6M776 633l6 6m0-6l-6 6M776 614l6 6m0-6l-6 6M776 641l6 6m0-6l-6 6M776 641l6 6m0-6l-6 6M776 595l6 6m0-6l-6 6M776 597l6 6m0-6l-6 6M777 605l6 6m0-6l-6 6M777 576l6 6m0-6l-6 6M777 642l6 6m0-6l-6 6M777 618l6 6m0-6l-6 6M777 614l6 6m0-6l-6 6M777 626l6 6m0-6l-6 6M777 624l6 6m0-6l-6 6M778 564l6 6m0-6l-6 6M778 597l6 6m0-6l-6 6M779 631l6 6m0-6l-6 6M779 596l6 6m0-6l-6 6M779 609l6 6m0-6l-6 6M780 579l6 6m0-6l-6 6M782 603l6 6m0-6l-6 6M783 604l6 6m0-6l-6 6M783 635l6 6m0-6l-6 6M784 641l6 6m0-6l-6 6M784 633l6 6m0-6l-6 6M785 636l6 6m0-6l-6 6M785 616l6 6m0-6l-6 6M785 634l6 6m0-6l-6 6M785 635l6 6m0-6l-6 6M785 610l6 6m0-6l-6 6M786 601l6 6m0-6l-6 6M786 608l6 6m0-6l-6 6M787 607l6 6m0-6l-6 6M787 583l6 6m0-6l-6 6M790 590l6 6m0-6l-6 6M790 615l6 6m0-6l-6 6M790 579l6 6m0-6l-6 6M791 614l6 6m0-6l-6 6M791 606l6 6m0-6l-6 6M791 627l6 6m0-6l-6 6M792 635l6 6m0-6l-6 6M792 617l6 6m0-6l-6 6M792 609l6 6m0-6l-6 6M792 572l6 6m0-6l-6 6M793 596l6 6m0-6l-6 6M793 596l6 6m0-6l-6 6M793 578l6 6m0-6l-6 6M794 610l6 6m0-6l-6 6M795 624l6 6m0-6l-6 6M795 621l6 6m0-6l-6 6M795 601l6 6m0-6l-6 6M796 590l6 6m0-6l-6 6M796 589l6 6m0-6l-6 6M797 586l6 6m0-6l-6 6M797 596l6 6m0-6l-6 6M797 633l6 6m0-6l-6 6M798 584l6 6m0-6l-6 6M798 639l6 6m0-6l-6 6M798 620l6 6m0-6l-6 6M799 623l6 6m0-6l-6 6M799 584l6 6m0-6l-6 6M799 577l6 6m0-6l-6 6M799 582l6 6m0-6l-6 6M800 576l6 6m0-6l-6 6M800 602l6 6m0-6l-6 6M800 594l6 6m0-6l-6 6M801 611l6 6m0-6l-6 6M801 607l6 6m0-6l-6 6M801 616l6 6m0-6l-6 6M801 619l6 6m0-6l-6 6M802 618l6 6m0-6l-6 6M802 643l6 6m0-6l-6 6M802 634l6 6m0-6l-6 6M802 614l6 6m0-6l-6 6M802 640l6 6m0-6l-6 6M802 591l6 6m0-6l-6 6M803 598l6 6m0-6l-6 6M803 606l6 6m0-6l-6 6M803 600l6 6m0-6l-6 6M803 626l6 6m0-6l-6 6M803 607l6 6m0-6l-6 6M803 595l6 6m0-6l-6 6M804 635l6 6m0-6l-6 6M804 603l6 6m0-6l-6 6M804 589l6 6m0-6l-6 6M804 622l6 6m0-6l-6 6M804 598l6 6m0-6l-6 6M804 606l6 6m0-6l-6 6M805 605l6 6m0-6l-6 6M805 600l6 6m0-6l-6 6M805 594l6 6m0-6l-6 6M805 599l6 6m0-6l-6 6M805 639l6 6m0-6l-6 6M805 617l6 6m0-6l-6 6M805 613l6 6m0-6l-6 6M806 616l6 6m0-6l-6 6M806 590l6 6m0-6l-6 6M806 597l6 6m0-6l-6 6M806 616l6 6m0-6l-6 6M806 621l6 6m0-6l-6 6M806 621l6 6m0-6l-6 6M806 628l6 6m0-6l-6 6M806 593l6 6m0-6l-6 6M806 600l6 6m0-6l-6 6M809 590l6 6m0-6l-6 6M809 616l6 6m0-6l-6 6M809 609l6 6m0-6l-6 6M809 573l6 6m0-6l-6 6M810 597l6 6m0-6l-6 6M810 600l6 6m0-6l-6 6M810 623l6 6m0-6l-6 6M811 618l6 6m0-6l-6 6M811 617l6 6m0-6l-6 6M813 608l6 6m0-6l-6 6M813 607l6 6m0-6l-6 6M814 614l6 6m0-6l-6 6M814 592l6 6m0-6l-6 6M814 602l6 6m0-6l-6 6M815 600l6 6m0-6l-6 6M815 611l6 6m0-6l-6 6M815 585l6 6m0-6l-6 6M816 591l6 6m0-6l-6 6M815 613l6 6m0-6l-6 6M819 601l6 6m0-6l-6 6M819 615l6 6m0-6l-6 6M820 585l6 6m0-6l-6 6M820 617l6 6m0-6l-6 6M820 625l6 6m0-6l-6 6M820 594l6 6m0-6l-6 6M821 578l6 6m0-6l-6 6M821 617l6 6m0-6l-6 6M821 602l6 6m0-6l-6 6M822 584l6 6m0-6l-6 6M822 626l6 6m0-6l-6 6M822 637l6 6m0-6l-6 6M823 637l6 6m0-6l-6 6M824 624l6 6m0-6l-6 6M824 621l6 6m0-6l-6 6M824 631l6 6m0-6l-6 6M824 622l6 6m0-6l-6 6M824 611l6 6m0-6l-6 6M824 598l6 6m0-6l-6 6M824 590l6 6m0-6l-6 6M824 611l6 6m0-6l-6 6M824 604l6 6m0-6l-6 6M827 602l6 6m0-6l-6 6M827 640l6 6m0-6l-6 6M827 623l6 6m0-6l-6 6M827 616l6 6m0-6l-6 6M828 597l6 6m0-6l-6 6M828 629l6 6m0-6l-6 6M828 627l6 6m0-6l-6 6M828 605l6 6m0-6l-6 6M828 628l6 6m0-6l-6 6M829 591l6 6m0-6l-6 6M829 638l6 6m0-6l-6 6M829 589l6 6m0-6l-6 6M830 586l6 6m0-6l-6 6M830 612l6 6m0-6l-6 6M830 584l6 6m0-6l-6 6M830 605l6 6m0-6l-6 6M831 600l6 6m0-6l-6 6M832 621l6 6m0-6l-6 6M832 629l6 6m0-6l-6 6M832 588l6 6m0-6l-6 6M832 644l6 6m0-6l-6 6M832 602l6 6m0-6l-6 6M832 613l6 6m0-6l-6 6M832 606l6 6m0-6l-6 6M832 606l6 6m0-6l-6 6M832 626l6 6m0-6l-6 6M832 607l6 6m0-6l-6 6M832 603l6 6m0-6l-6 6M833 588l6 6m0-6l-6 6M833 638l6 6m0-6l-6 6M833 622l6 6m0-6l-6 6M833 571l6 6m0-6l-6 6M833 589l6 6m0-6l-6 6M835 595l6 6m0-6l-6 6M839 621l6 6m0-6l-6 6M840 593l6 6m0-6l-6 6M841 577l6 6m0-6l-6 6M842 626l6 6m0-6l-6 6M843 581l6 6m0-6l-6 6M843 603l6 6m0-6l-6 6M844 572l6 6m0-6l-6 6M844 600l6 6m0-6l-6 6M844 605l6 6m0-6l-6 6M845 626l6 6m0-6l-6 6M845 572l6 6m0-6l-6 6M845 578l6 6m0-6l-6 6M846 623l6 6m0-6l-6 6M846 644l6 6m0-6l-6 6M845 609l6 6m0-6l-6 6M846 590l6 6m0-6l-6 6M847 623l6 6m0-6l-6 6M850 600l6 6m0-6l-6 6M850 608l6 6m0-6l-6 6M850 650l6 6m0-6l-6 6M851 604l6 6m0-6l-6 6M851 602l6 6m0-6l-6 6M851 604l6 6m0-6l-6 6M852 576l6 6m0-6l-6 6M852 616l6 6m0-6l-6 6M852 592l6 6m0-6l-6 6M853 604l6 6m0-6l-6 6M853 608l6 6m0-6l-6 6M854 598l6 6m0-6l-6 6M854 591l6 6m0-6l-6 6M855 598l6 6m0-6l-6 6M855 593l6 6m0-6l-6 6M855 606l6 6m0-6l-6 6M856 602l6 6m0-6l-6 6M856 564l6 6m0-6l-6 6M856 603l6 6m0-6l-6 6M857 597l6 6m0-6l-6 6M859 625l6 6m0-6l-6 6M859 615l6 6m0-6l-6 6M860 601l6 6m0-6l-6 6M860 615l6 6m0-6l-6 6M860 625l6 6m0-6l-6 6M860 646l6 6m0-6l-6 6M860 593l6 6m0-6l-6 6M861 594l6 6m0-6l-6 6M861 633l6 6m0-6l-6 6M861 572l6 6m0-6l-6 6M861 599l6 6m0-6l-6 6M861 613l6 6m0-6l-6 6M861 630l6 6m0-6l-6 6M864 597l6 6m0-6l-6 6M864 613l6 6m0-6l-6 6M865 615l6 6m0-6l-6 6M865 614l6 6m0-6l-6 6M865 603l6 6m0-6l-6 6M865 615l6 6m0-6l-6 6M865 602l6 6m0-6l-6 6M866 585l6 6m0-6l-6 6M866 629l6 6m0-6l-6 6M866 638l6 6m0-6l-6 6M866 641l6 6m0-6l-6 6M868 586l6 6m0-6l-6 6M868 585l6 6m0-6l-6 6M868 604l6 6m0-6l-6 6M868 617l6 6m0-6l-6 6M868 617l6 6m0-6l-6 6M869 600l6 6m0-6l-6 6M869 600l6 6m0-6l-6 6M869 618l6 6m0-6l-6 6M869 585l6 6m0-6l-6 6M869 611l6 6m0-6l-6 6M869 616l6 6m0-6l-6 6M870 616l6 6m0-6l-6 6M870 585l6 6m0-6l-6 6M870 607l6 6m0-6l-6 6M870 612l6 6m0-6l-6 6M870 586l6 6m0-6l-6 6M871 607l6 6m0-6l-6 6M871 609l6 6m0-6l-6 6M871 600l6 6m0-6l-6 6M871 604l6 6m0-6l-6 6M872 569l6 6m0-6l-6 6M872 622l6 6m0-6l-6 6M872 592l6 6m0-6l-6 6M872 578l6 6m0-6l-6 6M872 567l6 6m0-6l-6 6M872 606l6 6m0-6l-6 6M872 600l6 6m0-6l-6 6M873 609l6 6m0-6l-6 6M873 585l6 6m0-6l-6 6M874 566l6 6m0-6l-6 6M874 585l6 6m0-6l-6 6M874 580l6 6m0-6l-6 6M874 594l6 6m0-6l-6 6M877 570l6 6m0-6l-6 6M877 605l6 6m0-6l-6 6M877 575l6 6m0-6l-6 6M877 582l6 6m0-6l-6 6M878 601l6 6m0-6l-6 6M878 570l6 6m0-6l-6 6M878 598l6 6m0-6l-6 6M878 612l6 6m0-6l-6 6M879 581l6 6m0-6l-6 6M879 601l6 6m0-6l-6 6M879 587l6 6m0-6l-6 6M879 576l6 6m0-6l-6 6M880 596l6 6m0-6l-6 6M880 556l6 6m0-6l-6 6M881 575l6 6m0-6l-6 6M881 597l6 6m0-6l-6 6M881 604l6 6m0-6l-6 6M882 592l6 6m0-6l-6 6M882 606l6 6m0-6l-6 6M882 596l6 6m0-6l-6 6M882 561l6 6m0-6l-6 6M883 603l6 6m0-6l-6 6M883 576l6 6m0-6l-6 6M883 598l6 6m0-6l-6 6M883 578l6 6m0-6l-6 6M885 605l6 6m0-6l-6 6M886 579l6 6m0-6l-6 6M887 621l6 6m0-6l-6 6M891 579l6 6m0-6l-6 6M891 595l6 6m0-6l-6 6M891 606l6 6m0-6l-6 6M891 591l6 6m0-6l-6 6M891 581l6 6m0-6l-6 6M891 600l6 6m0-6l-6 6M891 585l6 6m0-6l-6 6M891 577l6 6m0-6l-6 6M891 544l6 6m0-6l-6 6M891 564l6 6m0-6l-6 6M891 608l6 6m0-6l-6 6M891 603l6 6m0-6l-6 6M892 594l6 6m0-6l-6 6M892 568l6 6m0-6l-6 6M892 583l6 6m0-6l-6 6M892 596l6 6m0-6l-6 6M896 627l6 6m0-6l-6 6M896 592l6 6m0-6l-6 6M896 614l6 6m0-6l-6 6M896 582l6 6m0-6l-6 6M897 611l6 6m0-6l-6 6M901 598l6 6m0-6l-6 6M901 595l6 6m0-6l-6 6M901 580l6 6m0-6l-6 6M902 608l6 6m0-6l-6 6M902 578l6 6m0-6l-6 6M902 594l6 6m0-6l-6 6M902 620l6 6m0-6l-6 6M902 647l6 6m0-6l-6 6M903 553l6 6m0-6l-6 6M903 568l6 6m0-6l-6 6M903 558l6 6m0-6l-6 6M903 596l6 6m0-6l-6 6M904 604l6 6m0-6l-6 6M905 576l6 6m0-6l-6 6M907 588l6 6m0-6l-6 6M908 595l6 6m0-6l-6 6M909 616l6 6m0-6l-6 6M909 594l6 6m0-6l-6 6M910 604l6 6m0-6l-6 6M910 546l6 6m0-6l-6 6M910 623l6 6m0-6l-6 6M911 586l6 6m0-6l-6 6M911 559l6 6m0-6l-6 6M912 647l6 6m0-6l-6 6M911 571l6 6m0-6l-6 6M911 598l6 6m0-6l-6 6M912 585l6 6m0-6l-6 6M912 564l6 6m0-6l-6 6M912 591l6 6m0-6l-6 6M912 580l6 6m0-6l-6 6M913 595l6 6m0-6l-6 6M913 574l6 6m0-6l-6 6M913 591l6 6m0-6l-6 6M913 542l6 6m0-6l-6 6M914 555l6 6m0-6l-6 6M914 599l6 6m0-6l-6 6M914 588l6 6m0-6l-6 6M914 565l6 6m0-6l-6 6M915 563l6 6m0-6l-6 6M915 565l6 6m0-6l-6 6M916 593l6 6m0-6l-6 6M916 599l6 6m0-6l-6 6M916 593l6 6m0-6l-6 6M917 579l6 6m0-6l-6 6M917 599l6 6m0-6l-6 6M918 594l6 6m0-6l-6 6M918 568l6 6m0-6l-6 6M918 574l6 6m0-6l-6 6M918 618l6 6m0-6l-6 6M919 595l6 6m0-6l-6 6M919 576l6 6m0-6l-6 6M919 579l6 6m0-6l-6 6M919 574l6 6m0-6l-6 6M920 586l6 6m0-6l-6 6M921 586l6 6m0-6l-6 6M921 556l6 6m0-6l-6 6M921 594l6 6m0-6l-6 6M921 610l6 6m0-6l-6 6M921 605l6 6m0-6l-6 6M921 583l6 6m0-6l-6 6M921 595l6 6m0-6l-6 6M921 591l6 6m0-6l-6 6M921 578l6 6m0-6l-6 6M921 601l6 6m0-6l-6 6M921 578l6 6m0-6l-6 6M921 579l6 6m0-6l-6 6M921 578l6 6m0-6l-6 6M921 595l6 6m0-6l-6 6M921 617l6 6m0-6l-6 6M921 604l6 6m0-6l-6 6M924 611l6 6m0-6l-6 6M924 556l6 6m0-6l-6 6M924 601l6 6m0-6l-6 6M924 569l6 6m0-6l-6 6M925 560l6 6m0-6l-6 6M925 640l6 6m0-6l-6 6M925 562l6 6m0-6l-6 6M925 596l6 6m0-6l-6 6M926 582l6 6m0-6l-6 6M926 613l6 6m0-6l-6 6M926 604l6 6m0-6l-6 6M926 593l6 6m0-6l-6 6M926 598l6 6m0-6l-6 6M927 583l6 6m0-6l-6 6M927 592l6 6m0-6l-6 6M927 595l6 6m0-6l-6 6M927 605l6 6m0-6l-6 6M927 605l6 6m0-6l-6 6M927 585l6 6m0-6l-6 6M927 565l6 6m0-6l-6 6M928 585l6 6m0-6l-6 6M928 602l6 6m0-6l-6 6M930 593l6 6m0-6l-6 6M930 586l6 6m0-6l-6 6M931 570l6 6m0-6l-6 6M931 595l6 6m0-6l-6 6M931 609l6 6m0-6l-6 6M931 601l6 6m0-6l-6 6M931 592l6 6m0-6l-6 6M932 596l6 6m0-6l-6 6M932 557l6 6m0-6l-6 6M932 601l6 6m0-6l-6 6M932 607l6 6m0-6l-6 6M933 632l6 6m0-6l-6 6M933 577l6 6m0-6l-6 6M933 580l6 6m0-6l-6 6M933 594l6 6m0-6l-6 6M933 574l6 6m0-6l-6 6M934 561l6 6m0-6l-6 6M934 602l6 6m0-6l-6 6M934 576l6 6m0-6l-6 6M934 584l6 6m0-6l-6 6M935 562l6 6m0-6l-6 6M935 572l6 6m0-6l-6 6M937 560l6 6m0-6l-6 6M937 596l6 6m0-6l-6 6M937 569l6 6m0-6l-6 6M938 572l6 6m0-6l-6 6M938 592l6 6m0-6l-6 6M938 597l6 6m0-6l-6 6M938 572l6 6m0-6l-6 6M938 569l6 6m0-6l-6 6M939 559l6 6m0-6l-6 6M939 597l6 6m0-6l-6 6M939 589l6 6m0-6l-6 6M939 564l6 6m0-6l-6 6M939 597l6 6m0-6l-6 6M940 591l6 6m0-6l-6 6M940 595l6 6m0-6l-6 6M940 617l6 6m0-6l-6 6M941 596l6 6m0-6l-6 6M941 616l6 6m0-6l-6 6M942 553l6 6m0-6l-6 6M942 571l6 6m0-6l-6 6M942 591l6 6m0-6l-6 6M942 569l6 6m0-6l-6 6M942 599l6 6m0-6l-6 6M942 596l6 6m0-6l-6 6M942 590l6 6m0-6l-6 6M942 583l6 6m0-6l-6 6M942 569l6 6m0-6l-6 6M942 583l6 6m0-6l-6 6M942 580l6 6m0-6l-6 6M943 569l6 6m0-6l-6 6M943 552l6 6m0-6l-6 6M943 598l6 6m0-6l-6 6M943 562l6 6m0-6l-6 6M943 599l6 6m0-6l-6 6M943 557l6 6m0-6l-6 6M946 579l6 6m0-6l-6 6M946 566l6 6m0-6l-6 6M946 601l6 6m0-6l-6 6M946 594l6 6m0-6l-6 6M947 579l6 6m0-6l-6 6M947 570l6 6m0-6l-6 6M947 580l6 6m0-6l-6 6M947 608l6 6m0-6l-6 6M948 575l6 6m0-6l-6 6M948 583l6 6m0-6l-6 6M948 578l6 6m0-6l-6 6M948 551l6 6m0-6l-6 6M948 567l6 6m0-6l-6 6M949 603l6 6m0-6l-6 6M949 603l6 6m0-6l-6 6M949 572l6 6m0-6l-6 6M951 569l6 6m0-6l-6 6M951 598l6 6m0-6l-6 6M951 592l6 6m0-6l-6 6M951 554l6 6m0-6l-6 6M951 596l6 6m0-6l-6 6M951 559l6 6m0-6l-6 6M951 546l6 6m0-6l-6 6M956 612l6 6m0-6l-6 6M956 602l6 6m0-6l-6 6M956 588l6 6m0-6l-6 6M956 577l6 6m0-6l-6 6M956 556l6 6m0-6l-6 6M957 643l6 6m0-6l-6 6M957 608l6 6m0-6l-6 6M957 589l6 6m0-6l-6 6M957 598l6 6m0-6l-6 6M958 585l6 6m0-6l-6 6M958 577l6 6m0-6l-6 6M959 606l6 6m0-6l-6 6M959 574l6 6m0-6l-6 6M959 583l6 6m0-6l-6 6M959 611l6 6m0-6l-6 6M960 590l6 6m0-6l-6 6M960 582l6 6m0-6l-6 6M960 567l6 6m0-6l-6 6M960 572l6 6m0-6l-6 6M960 569l6 6m0-6l-6 6M964 626l6 6m0-6l-6 6M964 588l6 6m0-6l-6 6M964 591l6 6m0-6l-6 6M964 583l6 6m0-6l-6 6M964 602l6 6m0-6l-6 6M964 585l6 6m0-6l-6 6M964 582l6 6m0-6l-6 6M964 566l6 6m0-6l-6 6M964 582l6 6m0-6l-6 6M964 563l6 6m0-6l-6 6M964 566l6 6m0-6l-6 6M968 603l6 6m0-6l-6 6M968 574l6 6m0-6l-6 6M968 607l6 6m0-6l-6 6M969 584l6 6m0-6l-6 6M969 618l6 6m0-6l-6 6M969 597l6 6m0-6l-6 6M969 584l6 6m0-6l-6 6M970 587l6 6m0-6l-6 6M970 577l6 6m0-6l-6 6M970 565l6 6m0-6l-6 6M971 580l6 6m0-6l-6 6M971 594l6 6m0-6l-6 6M971 562l6 6m0-6l-6 6M972 595l6 6m0-6l-6 6M972 592l6 6m0-6l-6 6M972 574l6 6m0-6l-6 6M972 584l6 6m0-6l-6 6M972 556l6 6m0-6l-6 6M972 570l6 6m0-6l-6 6M972 596l6 6m0-6l-6 6M973 574l6 6m0-6l-6 6M973 575l6 6m0-6l-6 6M973 588l6 6m0-6l-6 6M973 611l6 6m0-6l-6 6M973 582l6 6m0-6l-6 6M973 583l6 6m0-6l-6 6M976 602l6 6m0-6l-6 6M976 590l6 6m0-6l-6 6M977 635l6 6m0-6l-6 6M977 609l6 6m0-6l-6 6M978 579l6 6m0-6l-6 6M978 598l6 6m0-6l-6 6M979 620l6 6m0-6l-6 6M979 600l6 6m0-6l-6 6M980 587l6 6m0-6l-6 6M981 569l6 6m0-6l-6 6M981 614l6 6m0-6l-6 6M981 579l6 6m0-6l-6 6M981 562l6 6m0-6l-6 6M982 604l6 6m0-6l-6 6M982 578l6 6m0-6l-6 6M982 568l6 6m0-6l-6 6M982 600l6 6m0-6l-6 6M983 553l6 6m0-6l-6 6M985 583l6 6m0-6l-6 6M985 596l6 6m0-6l-6 6M985 608l6 6m0-6l-6 6M985 575l6 6m0-6l-6 6M986 603l6 6m0-6l-6 6M986 601l6 6m0-6l-6 6M986 627l6 6m0-6l-6 6M986 576l6 6m0-6l-6 6M987 618l6 6m0-6l-6 6M987 583l6 6m0-6l-6 6M987 628l6 6m0-6l-6 6M987 579l6 6m0-6l-6 6M988 601l6 6m0-6l-6 6M988 565l6 6m0-6l-6 6M988 622l6 6m0-6l-6 6M988 572l6 6m0-6l-6 6M989 576l6 6m0-6l-6 6M989 573l6 6m0-6l-6 6M989 582l6 6m0-6l-6 6M989 585l6 6m0-6l-6 6M990 580l6 6m0-6l-6 6M990 619l6 6m0-6l-6 6M990 582l6 6m0-6l-6 6M990 564l6 6m0-6l-6 6M990 618l6 6m0-6l-6 6M991 611l6 6m0-6l-6 6M992 619l6 6m0-6l-6 6M992 580l6 6m0-6l-6 6M992 585l6 6m0-6l-6 6M992 596l6 6m0-6l-6 6M992 608l6 6m0-6l-6 6M992 618l6 6m0-6l-6 6M992 575l6 6m0-6l-6 6M992 579l6 6m0-6l-6 6M993 596l6 6m0-6l-6 6M993 560l6 6m0-6l-6 6M993 573l6 6m0-6l-6 6M993 592l6 6m0-6l-6 6M994 625l6 6m0-6l-6 6M995 593l6 6m0-6l-6 6M995 617l6 6m0-6l-6 6M996 552l6 6m0-6l-6 6M997 583l6 6m0-6l-6 6M997 528l6 6m0-6l-6 6M996 577l6 6m0-6l-6 6M996 574l6 6m0-6l-6 6M997 587l6 6m0-6l-6 6M997 605l6 6m0-6l-6 6M997 602l6 6m0-6l-6 6M998 600l6 6m0-6l-6 6M998 593l6 6m0-6l-6 6M999 575l6 6m0-6l-6 6M1000 568l6 6m0-6l-6 6M1000 573l6 6m0-6l-6 6M1000 585l6 6m0-6l-6 6M1001 537l6 6m0-6l-6 6M1001 546l6 6m0-6l-6 6M1003 615l6 6m0-6l-6 6M1003 581l6 6m0-6l-6 6M1003 589l6 6m0-6l-6 6M1004 574l6 6m0-6l-6 6M1004 594l6 6m0-6l-6 6M1004 604l6 6m0-6l-6 6M1004 602l6 6m0-6l-6 6M1004 592l6 6m0-6l-6 6M1004 599l6 6m0-6l-6 6M1004 595l6 6m0-6l-6 6M1006 544l6 6m0-6l-6 6M1006 569l6 6m0-6l-6 6M1006 579l6 6m0-6l-6 6M1006 556l6 6m0-6l-6 6M1006 557l6 6m0-6l-6 6M1007 572l6 6m0-6l-6 6M1007 560l6 6m0-6l-6 6M1007 561l6 6m0-6l-6 6M1007 586l6 6m0-6l-6 6M1007 614l6 6m0-6l-6 6M1007 600l6 6m0-6l-6 6M1008 578l6 6m0-6l-6 6M1008 583l6 6m0-6l-6 6M1008 573l6 6m0-6l-6 6M1008 586l6 6m0-6l-6 6M1008 590l6 6m0-6l-6 6M1011 586l6 6m0-6l-6 6M1011 598l6 6m0-6l-6 6M1011 586l6 6m0-6l-6 6M1011 592l6 6m0-6l-6 6M1012 620l6 6m0-6l-6 6M1012 603l6 6m0-6l-6 6M1012 605l6 6m0-6l-6 6M1012 616l6 6m0-6l-6 6M1012 600l6 6m0-6l-6 6M1012 576l6 6m0-6l-6 6M1016 552l6 6m0-6l-6 6M1016 573l6 6m0-6l-6 6M1016 577l6 6m0-6l-6 6M1017 561l6 6m0-6l-6 6M1017 577l6 6m0-6l-6 6M1017 565l6 6m0-6l-6 6M1017 596l6 6m0-6l-6 6M1017 589l6 6m0-6l-6 6M1017 568l6 6m0-6l-6 6M1018 575l6 6m0-6l-6 6M1018 559l6 6m0-6l-6 6M1018 570l6 6m0-6l-6 6M1020 567l6 6m0-6l-6 6M1022 575l6 6m0-6l-6 6M1022 585l6 6m0-6l-6 6M1022 588l6 6m0-6l-6 6M1022 579l6 6m0-6l-6 6M1023 623l6 6m0-6l-6 6M1023 608l6 6m0-6l-6 6M1023 586l6 6m0-6l-6 6M1023 587l6 6m0-6l-6 6M1023 563l6 6m0-6l-6 6M1023 568l6 6m0-6l-6 6M1023 585l6 6m0-6l-6 6M1023 622l6 6m0-6l-6 6M1023 600l6 6m0-6l-6 6M1023 588l6 6m0-6l-6 6M1023 574l6 6m0-6l-6 6M1027 581l6 6m0-6l-6 6M1028 583l6 6m0-6l-6 6M1028 536l6 6m0-6l-6 6M1028 534l6 6m0-6l-6 6M1029 566l6 6m0-6l-6 6M1029 544l6 6m0-6l-6 6M1029 585l6 6m0-6l-6 6M1030 567l6 6m0-6l-6 6M1030 569l6 6m0-6l-6 6M1030 586l6 6m0-6l-6 6M1032 594l6 6m0-6l-6 6M1033 567l6 6m0-6l-6 6M1033 574l6 6m0-6l-6 6M1033 582l6 6m0-6l-6 6M1033 573l6 6m0-6l-6 6M1034 561l6 6m0-6l-6 6M1034 520l6 6m0-6l-6 6M1034 572l6 6m0-6l-6 6M1034 575l6 6m0-6l-6 6M1035 597l6 6m0-6l-6 6M1036 592l6 6m0-6l-6 6M1037 602l6 6m0-6l-6 6M1037 565l6 6m0-6l-6 6M1037 588l6 6m0-6l-6 6M1037 582l6 6m0-6l-6 6M1037 588l6 6m0-6l-6 6M1037 563l6 6m0-6l-6 6M1037 571l6 6m0-6l-6 6M1037 565l6 6m0-6l-6 6M1037 607l6 6m0-6l-6 6M1037 582l6 6m0-6l-6 6M1037 580l6 6m0-6l-6 6M1037 571l6 6m0-6l-6 6M1037 574l6 6m0-6l-6 6M1037 555l6 6m0-6l-6 6M1040 597l6 6m0-6l-6 6M1040 585l6 6m0-6l-6 6M1040 563l6 6m0-6l-6 6M1040 566l6 6m0-6l-6 6M1040 545l6 6m0-6l-6 6M1040 581l6 6m0-6l-6 6M1040 570l6 6m0-6l-6 6M1044 615l6 6m0-6l-6 6M1045 609l6 6m0-6l-6 6M1046 559l6 6m0-6l-6 6M1047 564l6 6m0-6l-6 6M1048 596l6 6m0-6l-6 6M1049 577l6 6m0-6l-6 6M1049 582l6 6m0-6l-6 6M1049 548l6 6m0-6l-6 6M1049 566l6 6m0-6l-6 6M1049 587l6 6m0-6l-6 6M1049 561l6 6m0-6l-6 6M1050 586l6 6m0-6l-6 6M1050 572l6 6m0-6l-6 6M1050 599l6 6m0-6l-6 6M1053 573l6 6m0-6l-6 6M1053 564l6 6m0-6l-6 6M1053 568l6 6m0-6l-6 6M1053 554l6 6m0-6l-6 6M1054 564l6 6m0-6l-6 6M1054 575l6 6m0-6l-6 6M1054 584l6 6m0-6l-6 6M1054 566l6 6m0-6l-6 6M1055 577l6 6m0-6l-6 6M1055 579l6 6m0-6l-6 6M1055 567l6 6m0-6l-6 6M1055 571l6 6m0-6l-6 6M1056 547l6 6m0-6l-6 6M1056 604l6 6m0-6l-6 6M1057 592l6 6m0-6l-6 6M1057 544l6 6m0-6l-6 6M1057 537l6 6m0-6l-6 6M1058 573l6 6m0-6l-6 6M1058 587l6 6m0-6l-6 6M1058 574l6 6m0-6l-6 6M1058 575l6 6m0-6l-6 6M1059 572l6 6m0-6l-6 6M1061 605l6 6m0-6l-6 6M1062 565l6 6m0-6l-6 6M1062 531l6 6m0-6l-6 6M1063 550l6 6m0-6l-6 6M1063 551l6 6m0-6l-6 6M1064 586l6 6m0-6l-6 6M1064 595l6 6m0-6l-6 6M1065 583l6 6m0-6l-6 6M1064 600l6 6m0-6l-6 6M1065 585l6 6m0-6l-6 6M1065 552l6 6m0-6l-6 6M1065 582l6 6m0-6l-6 6M1066 566l6 6m0-6l-6 6M1066 566l6 6m0-6l-6 6M1066 547l6 6m0-6l-6 6M1066 593l6 6m0-6l-6 6M1067 593l6 6m0-6l-6 6M1067 570l6 6m0-6l-6 6M1067 538l6 6m0-6l-6 6M1067 601l6 6m0-6l-6 6M1067 602l6 6m0-6l-6 6M1067 569l6 6m0-6l-6 6M1067 542l6 6m0-6l-6 6M1067 551l6 6m0-6l-6 6M1067 602l6 6m0-6l-6 6M1070 581l6 6m0-6l-6 6M1071 580l6 6m0-6l-6 6M1072 557l6 6m0-6l-6 6M1073 553l6 6m0-6l-6 6M1075 534l6 6m0-6l-6 6M1076 568l6 6m0-6l-6 6M1076 544l6 6m0-6l-6 6M1076 578l6 6m0-6l-6 6M1076 542l6 6m0-6l-6 6M1076 600l6 6m0-6l-6 6M1077 513l6 6m0-6l-6 6M1077 569l6 6m0-6l-6 6M1078 575l6 6m0-6l-6 6M1078 557l6 6m0-6l-6 6M1079 561l6 6m0-6l-6 6M1079 568l6 6m0-6l-6 6M1079 570l6 6m0-6l-6 6M1079 563l6 6m0-6l-6 6M1079 566l6 6m0-6l-6 6M1079 528l6 6m0-6l-6 6M1079 568l6 6m0-6l-6 6M1079 573l6 6m0-6l-6 6M1079 563l6 6m0-6l-6 6M1079 550l6 6m0-6l-6 6M1082 584l6 6m0-6l-6 6M1082 569l6 6m0-6l-6 6M1082 590l6 6m0-6l-6 6M1082 565l6 6m0-6l-6 6M1082 553l6 6m0-6l-6 6M1082 572l6 6m0-6l-6 6M1083 597l6 6m0-6l-6 6M1083 546l6 6m0-6l-6 6M1083 546l6 6m0-6l-6 6M1083 566l6 6m0-6l-6 6M1083 588l6 6m0-6l-6 6M1083 567l6 6m0-6l-6 6M1083 578l6 6m0-6l-6 6M1083 555l6 6m0-6l-6 6M1085 570l6 6m0-6l-6 6M1085 569l6 6m0-6l-6 6M1085 580l6 6m0-6l-6 6M1085 562l6 6m0-6l-6 6M1085 578l6 6m0-6l-6 6M1085 563l6 6m0-6l-6 6M1086 559l6 6m0-6l-6 6M1086 556l6 6m0-6l-6 6M1086 581l6 6m0-6l-6 6M1086 571l6 6m0-6l-6 6M1086 558l6 6m0-6l-6 6M1086 557l6 6m0-6l-6 6M1086 588l6 6m0-6l-6 6M1086 571l6 6m0-6l-6 6M1086 595l6 6m0-6l-6 6M1088 589l6 6m0-6l-6 6M1089 592l6 6m0-6l-6 6M1089 546l6 6m0-6l-6 6M1089 611l6 6m0-6l-6 6M1090 573l6 6m0-6l-6 6M1090 557l6 6m0-6l-6 6M1090 611l6 6m0-6l-6 6M1090 607l6 6m0-6l-6 6M1091 545l6 6m0-6l-6 6M1093 591l6 6m0-6l-6 6M1093 567l6 6m0-6l-6 6M1094 586l6 6m0-6l-6 6M1094 583l6 6m0-6l-6 6M1094 566l6 6m0-6l-6 6M1094 587l6 6m0-6l-6 6M1095 576l6 6m0-6l-6 6M1095 578l6 6m0-6l-6 6M1098 570l6 6m0-6l-6 6M1098 574l6 6m0-6l-6 6M1098 551l6 6m0-6l-6 6M1099 574l6 6m0-6l-6 6M1099 569l6 6m0-6l-6 6M1099 542l6 6m0-6l-6 6M1099 567l6 6m0-6l-6 6M1099 554l6 6m0-6l-6 6M1099 529l6 6m0-6l-6 6M1099 524l6 6m0-6l-6 6M1099 557l6 6m0-6l-6 6M1101 516l6 6m0-6l-6 6M1102 541l6 6m0-6l-6 6M1102 584l6 6m0-6l-6 6M1102 566l6 6m0-6l-6 6M1102 581l6 6m0-6l-6 6M1102 536l6 6m0-6l-6 6M1103 577l6 6m0-6l-6 6M1103 539l6 6m0-6l-6 6M1103 539l6 6m0-6l-6 6M1103 558l6 6m0-6l-6 6M1103 563l6 6m0-6l-6 6M1103 542l6 6m0-6l-6 6M1104 589l6 6m0-6l-6 6M1104 552l6 6m0-6l-6 6M1104 586l6 6m0-6l-6 6M1104 577l6 6m0-6l-6 6M1105 590l6 6m0-6l-6 6M1106 559l6 6m0-6l-6 6M1106 564l6 6m0-6l-6 6M1106 565l6 6m0-6l-6 6M1107 592l6 6m0-6l-6 6M1107 573l6 6m0-6l-6 6M1107 573l6 6m0-6l-6 6M1108 574l6 6m0-6l-6 6M1108 568l6 6m0-6l-6 6M1108 536l6 6m0-6l-6 6M1108 524l6 6m0-6l-6 6M1108 526l6 6m0-6l-6 6M1108 564l6 6m0-6l-6 6M1108 594l6 6m0-6l-6 6M1109 599l6 6m0-6l-6 6M1109 552l6 6m0-6l-6 6M1109 566l6 6m0-6l-6 6M1109 568l6 6m0-6l-6 6M1109 581l6 6m0-6l-6 6M1111 543l6 6m0-6l-6 6M1112 524l6 6m0-6l-6 6M1112 541l6 6m0-6l-6 6M1112 568l6 6m0-6l-6 6M1112 552l6 6m0-6l-6 6M1115 538l6 6m0-6l-6 6M1116 573l6 6m0-6l-6 6M1118 576l6 6m0-6l-6 6M1119 564l6 6m0-6l-6 6M1119 583l6 6m0-6l-6 6M1119 546l6 6m0-6l-6 6M1119 582l6 6m0-6l-6 6M1119 580l6 6m0-6l-6 6M1120 550l6 6m0-6l-6 6M1120 536l6 6m0-6l-6 6M1120 571l6 6m0-6l-6 6M1120 556l6 6m0-6l-6 6M1121 546l6 6m0-6l-6 6M1121 586l6 6m0-6l-6 6M1122 559l6 6m0-6l-6 6M1122 532l6 6m0-6l-6 6M1122 564l6 6m0-6l-6 6M1123 521l6 6m0-6l-6 6M1123 556l6 6m0-6l-6 6M1123 531l6 6m0-6l-6 6M1123 515l6 6m0-6l-6 6M1124 550l6 6m0-6l-6 6M1124 547l6 6m0-6l-6 6M1124 557l6 6m0-6l-6 6M1125 560l6 6m0-6l-6 6M1125 585l6 6m0-6l-6 6M1124 563l6 6m0-6l-6 6M1126 577l6 6m0-6l-6 6M1129 551l6 6m0-6l-6 6M1129 579l6 6m0-6l-6 6M1129 567l6 6m0-6l-6 6M1130 548l6 6m0-6l-6 6M1131 572l6 6m0-6l-6 6M1131 567l6 6m0-6l-6 6M1131 553l6 6m0-6l-6 6M1132 518l6 6m0-6l-6 6M1132 577l6 6m0-6l-6 6M1132 539l6 6m0-6l-6 6M1133 538l6 6m0-6l-6 6M1134 563l6 6m0-6l-6 6M1134 565l6 6m0-6l-6 6M1134 545l6 6m0-6l-6 6M1134 580l6 6m0-6l-6 6M1134 556l6 6m0-6l-6 6M1134 596l6 6m0-6l-6 6M1134 524l6 6m0-6l-6 6M1135 564l6 6m0-6l-6 6M1135 576l6 6m0-6l-6 6M1135 531l6 6m0-6l-6 6M1139 558l6 6m0-6l-6 6M1139 549l6 6m0-6l-6 6M1139 508l6 6m0-6l-6 6M1139 575l6 6m0-6l-6 6M1140 552l6 6m0-6l-6 6M1140 551l6 6m0-6l-6 6M1140 561l6 6m0-6l-6 6M1140 505l6 6m0-6l-6 6M1141 535l6 6m0-6l-6 6M1141 555l6 6m0-6l-6 6M1141 567l6 6m0-6l-6 6M1142 557l6 6m0-6l-6 6M1142 579l6 6m0-6l-6 6M1142 551l6 6m0-6l-6 6M1143 576l6 6m0-6l-6 6M1143 577l6 6m0-6l-6 6M1143 542l6 6m0-6l-6 6M1144 562l6 6m0-6l-6 6M1145 558l6 6m0-6l-6 6M1145 566l6 6m0-6l-6 6M1145 506l6 6m0-6l-6 6M1145 571l6 6m0-6l-6 6M1146 549l6 6m0-6l-6 6M1146 544l6 6m0-6l-6 6M1146 561l6 6m0-6l-6 6M1146 575l6 6m0-6l-6 6M1146 552l6 6m0-6l-6 6M1146 584l6 6m0-6l-6 6M1148 534l6 6m0-6l-6 6M1148 532l6 6m0-6l-6 6M1149 580l6 6m0-6l-6 6M1153 589l6 6m0-6l-6 6M1154 575l6 6m0-6l-6 6M1155 559l6 6m0-6l-6 6M1158 556l6 6m0-6l-6 6M1158 573l6 6m0-6l-6 6M1158 514l6 6m0-6l-6 6M1158 566l6 6m0-6l-6 6M1159 566l6 6m0-6l-6 6M1159 534l6 6m0-6l-6 6M1159 569l6 6m0-6l-6 6M1159 583l6 6m0-6l-6 6M1159 577l6 6m0-6l-6 6M1159 575l6 6m0-6l-6 6M1159 558l6 6m0-6l-6 6M1159 546l6 6m0-6l-6 6M1159 563l6 6m0-6l-6 6M1160 533l6 6m0-6l-6 6M1160 579l6 6m0-6l-6 6M1160 558l6 6m0-6l-6 6M1162 538l6 6m0-6l-6 6M1163 515l6 6m0-6l-6 6M1163 546l6 6m0-6l-6 6M1163 524l6 6m0-6l-6 6M1164 538l6 6m0-6l-6 6M1165 583l6 6m0-6l-6 6M1166 538l6 6m0-6l-6 6M1166 503l6 6m0-6l-6 6M1167 542l6 6m0-6l-6 6M1167 544l6 6m0-6l-6 6M1167 519l6 6m0-6l-6 6M1168 533l6 6m0-6l-6 6M1168 538l6 6m0-6l-6 6M1168 508l6 6m0-6l-6 6M1169 529l6 6m0-6l-6 6M1169 541l6 6m0-6l-6 6M1170 560l6 6m0-6l-6 6M1170 573l6 6m0-6l-6 6M1170 514l6 6m0-6l-6 6M1170 559l6 6m0-6l-6 6M1170 503l6 6m0-6l-6 6M1171 560l6 6m0-6l-6 6M1171 532l6 6m0-6l-6 6M1171 552l6 6m0-6l-6 6M1172 548l6 6m0-6l-6 6M1172 530l6 6m0-6l-6 6M1172 517l6 6m0-6l-6 6M1172 547l6 6m0-6l-6 6M1173 543l6 6m0-6l-6 6M1173 594l6 6m0-6l-6 6M1173 561l6 6m0-6l-6 6M1175 542l6 6m0-6l-6 6M1175 566l6 6m0-6l-6 6M1175 567l6 6m0-6l-6 6M1175 592l6 6m0-6l-6 6M1175 525l6 6m0-6l-6 6M1175 542l6 6m0-6l-6 6M1175 549l6 6m0-6l-6 6M1175 523l6 6m0-6l-6 6M1175 543l6 6m0-6l-6 6M1175 516l6 6m0-6l-6 6M1175 554l6 6m0-6l-6 6M1178 554l6 6m0-6l-6 6M1179 588l6 6m0-6l-6 6M1179 544l6 6m0-6l-6 6M1179 537l6 6m0-6l-6 6M1179 545l6 6m0-6l-6 6M1180 543l6 6m0-6l-6 6M1180 547l6 6m0-6l-6 6M1180 567l6 6m0-6l-6 6M1180 554l6 6m0-6l-6 6M1181 529l6 6m0-6l-6 6M1181 530l6 6m0-6l-6 6M1181 549l6 6m0-6l-6 6M1182 520l6 6m0-6l-6 6M1182 513l6 6m0-6l-6 6M1183 536l6 6m0-6l-6 6M1183 560l6 6m0-6l-6 6M1184 526l6 6m0-6l-6 6M1184 537l6 6m0-6l-6 6M1185 520l6 6m0-6l-6 6M1185 539l6 6m0-6l-6 6M1186 527l6 6m0-6l-6 6M1186 518l6 6m0-6l-6 6M1186 547l6 6m0-6l-6 6M1186 520l6 6m0-6l-6 6M1186 533l6 6m0-6l-6 6M1186 527l6 6m0-6l-6 6M1187 538l6 6m0-6l-6 6M1187 523l6 6m0-6l-6 6M1187 526l6 6m0-6l-6 6M1187 561l6 6m0-6l-6 6M1188 548l6 6m0-6l-6 6M1188 523l6 6m0-6l-6 6M1188 564l6 6m0-6l-6 6M1188 543l6 6m0-6l-6 6M1188 553l6 6m0-6l-6 6M1189 521l6 6m0-6l-6 6M1189 572l6 6m0-6l-6 6M1189 540l6 6m0-6l-6 6M1189 525l6 6m0-6l-6 6M1189 550l6 6m0-6l-6 6M1193 567l6 6m0-6l-6 6M1193 533l6 6m0-6l-6 6M1193 532l6 6m0-6l-6 6M1193 584l6 6m0-6l-6 6M1194 575l6 6m0-6l-6 6M1194 570l6 6m0-6l-6 6M1194 561l6 6m0-6l-6 6M1194 541l6 6m0-6l-6 6M1194 562l6 6m0-6l-6 6M1194 545l6 6m0-6l-6 6M1195 571l6 6m0-6l-6 6M1195 580l6 6m0-6l-6 6M1195 543l6 6m0-6l-6 6M1195 564l6 6m0-6l-6 6M1195 528l6 6m0-6l-6 6M1195 555l6 6m0-6l-6 6M1196 536l6 6m0-6l-6 6M1196 534l6 6m0-6l-6 6M1198 563l6 6m0-6l-6 6M1198 559l6 6m0-6l-6 6M1198 555l6 6m0-6l-6 6M1199 532l6 6m0-6l-6 6M1199 527l6 6m0-6l-6 6M1199 538l6 6m0-6l-6 6M1199 547l6 6m0-6l-6 6M1200 520l6 6m0-6l-6 6M1200 564l6 6m0-6l-6 6M1200 571l6 6m0-6l-6 6M1200 547l6 6m0-6l-6 6M1200 539l6 6m0-6l-6 6M1200 552l6 6m0-6l-6 6M1200 528l6 6m0-6l-6 6M1201 573l6 6m0-6l-6 6M1201 533l6 6m0-6l-6 6M1201 534l6 6m0-6l-6 6M1201 535l6 6m0-6l-6 6M1201 535l6 6m0-6l-6 6M1201 533l6 6m0-6l-6 6M1201 583l6 6m0-6l-6 6M1201 538l6 6m0-6l-6 6M1201 565l6 6m0-6l-6 6M1201 528l6 6m0-6l-6 6M1201 545l6 6m0-6l-6 6M1201 515l6 6m0-6l-6 6M1203 527l6 6m0-6l-6 6M1203 544l6 6m0-6l-6 6M1203 563l6 6m0-6l-6 6M1203 522l6 6m0-6l-6 6M1203 552l6 6m0-6l-6 6M1203 544l6 6m0-6l-6 6M1203 513l6 6m0-6l-6 6M1203 560l6 6m0-6l-6 6M1203 565l6 6m0-6l-6 6M1204 515l6 6m0-6l-6 6M1204 563l6 6m0-6l-6 6M1204 527l6 6m0-6l-6 6M1204 536l6 6m0-6l-6 6M1204 533l6 6m0-6l-6 6M1204 521l6 6m0-6l-6 6M1204 500l6 6m0-6l-6 6M1205 558l6 6m0-6l-6 6M1206 542l6 6m0-6l-6 6M1206 538l6 6m0-6l-6 6M1207 535l6 6m0-6l-6 6M1207 514l6 6m0-6l-6 6M1208 566l6 6m0-6l-6 6M1208 551l6 6m0-6l-6 6M1207 558l6 6m0-6l-6 6M1208 580l6 6m0-6l-6 6M1208 546l6 6m0-6l-6 6M1208 532l6 6m0-6l-6 6M1208 493l6 6m0-6l-6 6M1208 575l6 6m0-6l-6 6M1209 543l6 6m0-6l-6 6M1209 493l6 6m0-6l-6 6M1212 488l6 6m0-6l-6 6M1212 494l6 6m0-6l-6 6M1212 544l6 6m0-6l-6 6M1212 508l6 6m0-6l-6 6M1212 498l6 6m0-6l-6 6M1212 534l6 6m0-6l-6 6M1212 554l6 6m0-6l-6 6M1212 533l6 6m0-6l-6 6M1213 539l6 6m0-6l-6 6M1213 528l6 6m0-6l-6 6M1213 511l6 6m0-6l-6 6M1213 573l6 6m0-6l-6 6M1213 557l6 6m0-6l-6 6M1213 570l6 6m0-6l-6 6M1213 537l6 6m0-6l-6 6M1217 507l6 6m0-6l-6 6M1218 520l6 6m0-6l-6 6M1218 524l6 6m0-6l-6 6M1218 546l6 6m0-6l-6 6M1218 527l6 6m0-6l-6 6M1218 503l6 6m0-6l-6 6M1219 509l6 6m0-6l-6 6M1219 514l6 6m0-6l-6 6M1219 505l6 6m0-6l-6 6M1220 544l6 6m0-6l-6 6M1220 533l6 6m0-6l-6 6M1220 539l6 6m0-6l-6 6M1220 565l6 6m0-6l-6 6M1220 533l6 6m0-6l-6 6M1220 533l6 6m0-6l-6 6M1220 544l6 6m0-6l-6 6M1220 527l6 6m0-6l-6 6M1220 537l6 6m0-6l-6 6M1220 551l6 6m0-6l-6 6M1220 523l6 6m0-6l-6 6M1220 529l6 6m0-6l-6 6M1221 538l6 6m0-6l-6 6M1221 531l6 6m0-6l-6 6M1221 555l6 6m0-6l-6 6M1221 553l6 6m0-6l-6 6M1221 530l6 6m0-6l-6 6M1222 521l6 6m0-6l-6 6M1222 532l6 6m0-6l-6 6M1222 512l6 6m0-6l-6 6M1222 552l6 6m0-6l-6 6M1223 556l6 6m0-6l-6 6M1223 532l6 6m0-6l-6 6M1223 507l6 6m0-6l-6 6M1226 526l6 6m0-6l-6 6M1226 550l6 6m0-6l-6 6M1226 547l6 6m0-6l-6 6M1226 545l6 6m0-6l-6 6M1226 526l6 6m0-6l-6 6M1226 536l6 6m0-6l-6 6M1226 539l6 6m0-6l-6 6M1226 522l6 6m0-6l-6 6M1230 497l6 6m0-6l-6 6M1230 504l6 6m0-6l-6 6M1231 541l6 6m0-6l-6 6M1231 536l6 6m0-6l-6 6M1231 527l6 6m0-6l-6 6M1231 500l6 6m0-6l-6 6M1231 546l6 6m0-6l-6 6M1231 521l6 6m0-6l-6 6M1231 506l6 6m0-6l-6 6M1231 538l6 6m0-6l-6 6M1232 554l6 6m0-6l-6 6M1232 553l6 6m0-6l-6 6M1233 527l6 6m0-6l-6 6M1233 522l6 6m0-6l-6 6M1233 537l6 6m0-6l-6 6M1234 519l6 6m0-6l-6 6M1234 569l6 6m0-6l-6 6M1234 523l6 6m0-6l-6 6M1234 513l6 6m0-6l-6 6M1234 487l6 6m0-6l-6 6M1234 556l6 6m0-6l-6 6M1235 562l6 6m0-6l-6 6M1235 514l6 6m0-6l-6 6M1235 549l6 6m0-6l-6 6M1235 524l6 6m0-6l-6 6M1235 500l6 6m0-6l-6 6M1235 546l6 6m0-6l-6 6M1236 543l6 6m0-6l-6 6M1237 537l6 6m0-6l-6 6M1239 576l6 6m0-6l-6 6M1240 535l6 6m0-6l-6 6M1239 532l6 6m0-6l-6 6M1239 509l6 6m0-6l-6 6M1240 546l6 6m0-6l-6 6M1240 505l6 6m0-6l-6 6M1240 520l6 6m0-6l-6 6M1240 562l6 6m0-6l-6 6M1240 573l6 6m0-6l-6 6M1241 504l6 6m0-6l-6 6M1241 529l6 6m0-6l-6 6M1241 534l6 6m0-6l-6 6M1241 538l6 6m0-6l-6 6M1241 523l6 6m0-6l-6 6M1244 541l6 6m0-6l-6 6M1245 544l6 6m0-6l-6 6M1245 535l6 6m0-6l-6 6M1245 510l6 6m0-6l-6 6M1245 514l6 6m0-6l-6 6M1246 529l6 6m0-6l-6 6M1246 535l6 6m0-6l-6 6M1246 539l6 6m0-6l-6 6M1246 529l6 6m0-6l-6 6M1246 531l6 6m0-6l-6 6M1247 545l6 6m0-6l-6 6M1247 512l6 6m0-6l-6 6M1247 505l6 6m0-6l-6 6M1247 524l6 6m0-6l-6 6M1247 529l6 6m0-6l-6 6M1247 519l6 6m0-6l-6 6M1248 512l6 6m0-6l-6 6M1248 477l6 6m0-6l-6 6M1248 528l6 6m0-6l-6 6M1248 550l6 6m0-6l-6 6M1249 535l6 6m0-6l-6 6M1249 534l6 6m0-6l-6 6M1250 500l6 6m0-6l-6 6M1250 498l6 6m0-6l-6 6M1250 522l6 6m0-6l-6 6M1250 536l6 6m0-6l-6 6M1250 535l6 6m0-6l-6 6M1250 535l6 6m0-6l-6 6M1251 536l6 6m0-6l-6 6M1251 559l6 6m0-6l-6 6M1251 523l6 6m0-6l-6 6M1251 535l6 6m0-6l-6 6M1251 523l6 6m0-6l-6 6M1255 492l6 6m0-6l-6 6M1255 514l6 6m0-6l-6 6M1255 515l6 6m0-6l-6 6M1255 512l6 6m0-6l-6 6M1255 529l6 6m0-6l-6 6M1255 533l6 6m0-6l-6 6M1255 527l6 6m0-6l-6 6M1255 540l6 6m0-6l-6 6M1258 483l6 6m0-6l-6 6M1258 549l6 6m0-6l-6 6M1258 522l6 6m0-6l-6 6M1258 530l6 6m0-6l-6 6M1258 505l6 6m0-6l-6 6M1258 534l6 6m0-6l-6 6M1258 548l6 6m0-6l-6 6M1258 529l6 6m0-6l-6 6M1258 521l6 6m0-6l-6 6M1258 512l6 6m0-6l-6 6M1262 478l6 6m0-6l-6 6M1262 508l6 6m0-6l-6 6M1263 521l6 6m0-6l-6 6M1263 509l6 6m0-6l-6 6M1263 499l6 6m0-6l-6 6M1264 508l6 6m0-6l-6 6M1265 529l6 6m0-6l-6 6M1265 519l6 6m0-6l-6 6M1265 516l6 6m0-6l-6 6M1266 521l6 6m0-6l-6 6M1266 548l6 6m0-6l-6 6M1267 531l6 6m0-6l-6 6M1267 526l6 6m0-6l-6 6M1267 559l6 6m0-6l-6 6M1268 510l6 6m0-6l-6 6M1268 501l6 6m0-6l-6 6M1269 561l6 6m0-6l-6 6M1269 542l6 6m0-6l-6 6M1269 524l6 6m0-6l-6 6M1272 522l6 6m0-6l-6 6M1272 529l6 6m0-6l-6 6M1272 530l6 6m0-6l-6 6M1272 535l6 6m0-6l-6 6M1272 504l6 6m0-6l-6 6M1272 514l6 6m0-6l-6 6M1272 523l6 6m0-6l-6 6M1276 515l6 6m0-6l-6 6M1276 525l6 6m0-6l-6 6M1276 506l6 6m0-6l-6 6M1276 511l6 6m0-6l-6 6M1277 534l6 6m0-6l-6 6M1279 496l6 6m0-6l-6 6M1283 514l6 6m0-6l-6 6M1284 533l6 6m0-6l-6 6M1284 534l6 6m0-6l-6 6M1285 518l6 6m0-6l-6 6M1285 508l6 6m0-6l-6 6M1286 528l6 6m0-6l-6 6M1286 534l6 6m0-6l-6 6M1287 522l6 6m0-6l-6 6M1286 532l6 6m0-6l-6 6M1286 547l6 6m0-6l-6 6M1287 507l6 6m0-6l-6 6M1287 516l6 6m0-6l-6 6M1287 544l6 6m0-6l-6 6M1287 540l6 6m0-6l-6 6M1288 550l6 6m0-6l-6 6M1288 565l6 6m0-6l-6 6M1288 533l6 6m0-6l-6 6M1288 544l6 6m0-6l-6 6M1289 536l6 6m0-6l-6 6M1289 554l6 6m0-6l-6 6M1291 506l6 6m0-6l-6 6M1291 528l6 6m0-6l-6 6M1291 514l6 6m0-6l-6 6M1292 511l6 6m0-6l-6 6M1292 515l6 6m0-6l-6 6M1292 485l6 6m0-6l-6 6M1297 514l6 6m0-6l-6 6M1301 541l6 6m0-6l-6 6M1302 506l6 6m0-6l-6 6M1302 520l6 6m0-6l-6 6M1302 489l6 6m0-6l-6 6M1302 492l6 6m0-6l-6 6M1302 489l6 6m0-6l-6 6M1303 529l6 6m0-6l-6 6M1303 522l6 6m0-6l-6 6M1303 542l6 6m0-6l-6 6M1303 515l6 6m0-6l-6 6M1304 517l6 6m0-6l-6 6M1306 541l6 6m0-6l-6 6M1312 499l6 6m0-6l-6 6M1312 552l6 6m0-6l-6 6M1313 514l6 6m0-6l-6 6M1314 511l6 6m0-6l-6 6M1314 526l6 6m0-6l-6 6M1317 488l6 6m0-6l-6 6M1317 555l6 6m0-6l-6 6M1317 542l6 6m0-6l-6 6M1317 512l6 6m0-6l-6 6M1318 556l6 6m0-6l-6 6M1318 522l6 6m0-6l-6 6M1318 503l6 6m0-6l-6 6M1318 542l6 6m0-6l-6 6M1318 514l6 6m0-6l-6 6M1318 516l6 6m0-6l-6 6M1318 524l6 6m0-6l-6 6M1318 488l6 6m0-6l-6 6M1319 536l6 6m0-6l-6 6M1322 485l6 6m0-6l-6 6M1322 519l6 6m0-6l-6 6M1322 527l6 6m0-6l-6 6M1322 503l6 6m0-6l-6 6M1323 508l6 6m0-6l-6 6M1323 539l6 6m0-6l-6 6M1323 494l6 6m0-6l-6 6M1326 527l6 6m0-6l-6 6M1326 487l6 6m0-6l-6 6M1327 526l6 6m0-6l-6 6M1327 496l6 6m0-6l-6 6M1328 527l6 6m0-6l-6 6M1328 524l6 6m0-6l-6 6M1329 494l6 6m0-6l-6 6M1330 529l6 6m0-6l-6 6M1331 532l6 6m0-6l-6 6M1331 536l6 6m0-6l-6 6M1331 498l6 6m0-6l-6 6M1331 502l6 6m0-6l-6 6M1336 487l6 6m0-6l-6 6M1336 512l6 6m0-6l-6 6M1336 505l6 6m0-6l-6 6M1337 500l6 6m0-6l-6 6M1337 497l6 6m0-6l-6 6M1341 520l6 6m0-6l-6 6M1341 524l6 6m0-6l-6 6M1341 515l6 6m0-6l-6 6M1341 495l6 6m0-6l-6 6M1341 496l6 6m0-6l-6 6M1341 502l6 6m0-6l-6 6M1342 503l6 6m0-6l-6 6M1342 479l6 6m0-6l-6 6M1342 526l6 6m0-6l-6 6M1342 542l6 6m0-6l-6 6M1342 517l6 6m0-6l-6 6M1342 503l6 6m0-6l-6 6M1345 521l6 6m0-6l-6 6M1345 519l6 6m0-6l-6 6M1346 506l6 6m0-6l-6 6M1346 532l6 6m0-6l-6 6M1346 501l6 6m0-6l-6 6M1347 500l6 6m0-6l-6 6M1347 509l6 6m0-6l-6 6M1349 530l6 6m0-6l-6 6M1350 536l6 6m0-6l-6 6M1350 502l6 6m0-6l-6 6M1351 514l6 6m0-6l-6 6M1351 502l6 6m0-6l-6 6M1351 514l6 6m0-6l-6 6M1352 486l6 6m0-6l-6 6M1352 514l6 6m0-6l-6 6M1353 530l6 6m0-6l-6 6M1353 547l6 6m0-6l-6 6M1353 525l6 6m0-6l-6 6M1353 522l6 6m0-6l-6 6M1353 538l6 6m0-6l-6 6M1353 511l6 6m0-6l-6 6M1353 507l6 6m0-6l-6 6M1353 503l6 6m0-6l-6 6M1353 506l6 6m0-6l-6 6M1353 511l6 6m0-6l-6 6M1358 499l6 6m0-6l-6 6M1358 532l6 6m0-6l-6 6M1358 494l6 6m0-6l-6 6M1359 552l6 6m0-6l-6 6M1359 506l6 6m0-6l-6 6M1359 496l6 6m0-6l-6 6M1359 489l6 6m0-6l-6 6M1359 513l6 6m0-6l-6 6M1359 501l6 6m0-6l-6 6M1361 489l6 6m0-6l-6 6M1362 518l6 6m0-6l-6 6M1362 495l6 6m0-6l-6 6M1362 489l6 6m0-6l-6 6M1362 451l6 6m0-6l-6 6M1362 474l6 6m0-6l-6 6M1362 500l6 6m0-6l-6 6M1362 497l6 6m0-6l-6 6M1362 458l6 6m0-6l-6 6M1362 515l6 6m0-6l-6 6M1363 515l6 6m0-6l-6 6M1363 512l6 6m0-6l-6 6M1363 507l6 6m0-6l-6 6M1363 491l6 6m0-6l-6 6M1363 556l6 6m0-6l-6 6M1363 510l6 6m0-6l-6 6M1367 489l6 6m0-6l-6 6M1367 505l6 6m0-6l-6 6M1367 511l6 6m0-6l-6 6M1368 512l6 6m0-6l-6 6M1368 522l6 6m0-6l-6 6M1368 496l6 6m0-6l-6 6M1369 500l6 6m0-6l-6 6M1369 511l6 6m0-6l-6 6M1369 462l6 6m0-6l-6 6M1371 533l6 6m0-6l-6 6M1371 496l6 6m0-6l-6 6M1371 531l6 6m0-6l-6 6M1371 492l6 6m0-6l-6 6M1371 530l6 6m0-6l-6 6M1371 517l6 6m0-6l-6 6M1371 486l6 6m0-6l-6 6M1372 483l6 6m0-6l-6 6M1372 521l6 6m0-6l-6 6M1372 508l6 6m0-6l-6 6M1372 497l6 6m0-6l-6 6M1372 491l6 6m0-6l-6 6M1372 501l6 6m0-6l-6 6M1374 499l6 6m0-6l-6 6M1374 487l6 6m0-6l-6 6M1374 497l6 6m0-6l-6 6M1375 511l6 6m0-6l-6 6M1375 479l6 6m0-6l-6 6M1375 530l6 6m0-6l-6 6M1375 496l6 6m0-6l-6 6M1375 509l6 6m0-6l-6 6M1375 484l6 6m0-6l-6 6M1376 499l6 6m0-6l-6 6M1377 518l6 6m0-6l-6 6M1377 502l6 6m0-6l-6 6M1377 474l6 6m0-6l-6 6M1377 501l6 6m0-6l-6 6M1377 509l6 6m0-6l-6 6M1377 545l6 6m0-6l-6 6M1377 483l6 6m0-6l-6 6M1377 517l6 6m0-6l-6 6M1377 488l6 6m0-6l-6 6M1377 476l6 6m0-6l-6 6M1377 505l6 6m0-6l-6 6M1377 509l6 6m0-6l-6 6M1379 489l6 6m0-6l-6 6M1379 517l6 6m0-6l-6 6M1379 504l6 6m0-6l-6 6M1379 514l6 6m0-6l-6 6M1380 492l6 6m0-6l-6 6M1380 479l6 6m0-6l-6 6M1380 504l6 6m0-6l-6 6M1380 505l6 6m0-6l-6 6M1381 522l6 6m0-6l-6 6M1381 541l6 6m0-6l-6 6M1381 512l6 6m0-6l-6 6M1381 498l6 6m0-6l-6 6M1382 546l6 6m0-6l-6 6M1382 503l6 6m0-6l-6 6M1382 511l6 6m0-6l-6 6M1382 489l6 6m0-6l-6 6M1382 492l6 6m0-6l-6 6M1383 512l6 6m0-6l-6 6M1383 504l6 6m0-6l-6 6M1383 516l6 6m0-6l-6 6M1383 520l6 6m0-6l-6 6M1383 495l6 6m0-6l-6 6M1383 482l6 6m0-6l-6 6M1383 503l6 6m0-6l-6 6M1383 531l6 6m0-6l-6 6M1383 505l6 6m0-6l-6 6M1383 504l6 6m0-6l-6 6M1383 524l6 6m0-6l-6 6M1383 490l6 6m0-6l-6 6M1383 497l6 6m0-6l-6 6M1388 508l6 6m0-6l-6 6M1388 510l6 6m0-6l-6 6M1388 520l6 6m0-6l-6 6M1388 486l6 6m0-6l-6 6M1388 474l6 6m0-6l-6 6M1388 500l6 6m0-6l-6 6M1388 509l6 6m0-6l-6 6M1389 525l6 6m0-6l-6 6M1389 524l6 6m0-6l-6 6M1389 530l6 6m0-6l-6 6M1389 495l6 6m0-6l-6 6M1389 505l6 6m0-6l-6 6M1389 471l6 6m0-6l-6 6M1389 529l6 6m0-6l-6 6M1389 490l6 6m0-6l-6 6M1391 516l6 6m0-6l-6 6M1392 538l6 6m0-6l-6 6M1392 508l6 6m0-6l-6 6M1392 476l6 6m0-6l-6 6M1392 538l6 6m0-6l-6 6M1392 491l6 6m0-6l-6 6M1392 502l6 6m0-6l-6 6M1393 531l6 6m0-6l-6 6M1393 465l6 6m0-6l-6 6M1393 500l6 6m0-6l-6 6M1393 515l6 6m0-6l-6 6M1397 482l6 6m0-6l-6 6M1397 518l6 6m0-6l-6 6M1397 504l6 6m0-6l-6 6M1398 516l6 6m0-6l-6 6M1398 492l6 6m0-6l-6 6M1399 488l6 6m0-6l-6 6M1399 487l6 6m0-6l-6 6M1400 495l6 6m0-6l-6 6M1400 511l6 6m0-6l-6 6M1400 515l6 6m0-6l-6 6M1400 498l6 6m0-6l-6 6M1400 496l6 6m0-6l-6 6M1401 489l6 6m0-6l-6 6M1401 508l6 6m0-6l-6 6M1401 493l6 6m0-6l-6 6M1401 505l6 6m0-6l-6 6M1402 502l6 6m0-6l-6 6M1402 541l6 6m0-6l-6 6M1402 509l6 6m0-6l-6 6M1402 483l6 6m0-6l-6 6M1403 512l6 6m0-6l-6 6M1403 482l6 6m0-6l-6 6M1402 527l6 6m0-6l-6 6M1402 505l6 6m0-6l-6 6M1402 516l6 6m0-6l-6 6M1403 527l6 6m0-6l-6 6M1403 496l6 6m0-6l-6 6M1403 503l6 6m0-6l-6 6M1403 495l6 6m0-6l-6 6M1403 495l6 6m0-6l-6 6M1403 501l6 6m0-6l-6 6M1403 500l6 6m0-6l-6 6M1405 508l6 6m0-6l-6 6M1407 496l6 6m0-6l-6 6M1408 516l6 6m0-6l-6 6M1408 465l6 6m0-6l-6 6M1409 495l6 6m0-6l-6 6M1409 513l6 6m0-6l-6 6M1410 492l6 6m0-6l-6 6M1410 496l6 6m0-6l-6 6M1411 512l6 6m0-6l-6 6M1411 493l6 6m0-6l-6 6M1411 508l6 6m0-6l-6 6M1411 489l6 6m0-6l-6 6M1411 505l6 6m0-6l-6 6M1411 525l6 6m0-6l-6 6M1412 499l6 6m0-6l-6 6M1412 535l6 6m0-6l-6 6M1412 481l6 6m0-6l-6 6M1415 506l6 6m0-6l-6 6M1415 511l6 6m0-6l-6 6M1416 494l6 6m0-6l-6 6M1416 489l6 6m0-6l-6 6M1416 529l6 6m0-6l-6 6M384 546l6 6m0-6l-6 6M863 666l6 6m0-6l-6 6M333 537l6 6m0-6l-6 6M421 558l6 6m0-6l-6 6M885 537l6 6m0-6l-6 6M915 531l6 6m0-6l-6 6M963 526l6 6m0-6l-6 6M636 691l6 6m0-6l-6 6M772 668l6 6m0-6l-6 6M605 697l6 6m0-6l-6 6M908 642l6 6m0-6l-6 6M1355 559l6 6m0-6l-6 6M180 527l6 6m0-6l-6 6" stroke="#000" stroke-width="1" fill="none" shape-rendering="crispEdges"/><path clip-path="url(#c2)" d="M159 1196l6 6m0-6l-6 6M159 1081l6 6m0-6l-6 6M159 1188l6 6m0-6l-6 6M160 1187l6 6m0-6l-6 6M160 1084l6 6m0-6l-6 6M160 1191l6 6m0-6l-6 6M160 1290l6 6m0-6l-6 6M160 1188l6 6m0-6l-6 6M160 1095l6 6m0-6l-6 6M160 1107l6 6m0-6l-6 6M164 1194l6 6m0-6l-6 6M164 1170l6 6m0-6l-6 6M164 1075l6 6m0-6l-6 6M164 1138l6 6m0-6l-6 6M164 1122l6 6m0-6l-6 6M164 1147l6 6m0-6l-6 6M164 1161l6 6m0-6l-6 6M164 1283l6 6m0-6l-6 6M164 1209l6 6m0-6l-6 6M164 1046l6 6m0-6l-6 6M165 1187l6 6m0-6l-6 6M165 1210l6 6m0-6l-6 6M167 1194l6 6m0-6l-6 6M167 1201l6 6m0-6l-6 6M168 1204l6 6m0-6l-6 6M168 1135l6 6m0-6l-6 6M168 1195l6 6m0-6l-6 6M169 1196l6 6m0-6l-6 6M169 1175l6 6m0-6l-6 6M169 1173l6 6m0-6l-6 6M170 1263l6 6m0-6l-6 6M169 1097l6 6m0-6l-6 6M170 1128l6 6m0-6l-6 6M171 1165l6 6m0-6l-6 6M172 1144l6 6m0-6l-6 6M172 1131l6 6m0-6l-6 6M173 1154l6 6m0-6l-6 6M173 1112l6 6m0-6l-6 6M173 1236l6 6m0-6l-6 6M173 1223l6 6m0-6l-6 6M173 1230l6 6m0-6l-6 6M173 1197l6 6m0-6l-6 6M173 1069l6 6m0-6l-6 6M173 1143l6 6m0-6l-6 6M173 1123l6 6m0-6l-6 6M173 1147l6 6m0-6l-6 6M173 1262l6 6m0-6l-6 6M173 1157l6 6m0-6l-6 6M173 1166l6 6m0-6l-6 6M173 1114l6 6m0-6l-6 6M175 1151l6 6m0-6l-6 6M175 1117l6 6m0-6l-6 6M176 1188l6 6m0-6l-6 6M177 1142l6 6m0-6l-6 6M180 1121l6 6m0-6l-6 6M180 1043l6 6m0-6l-6 6M180 1183l6 6m0-6l-6 6M181 1138l6 6m0-6l-6 6M181 1112l6 6m0-6l-6 6M181 1114l6 6m0-6l-6 6M181 1191l6 6m0-6l-6 6M182 1076l6 6m0-6l-6 6M182 1100l6 6m0-6l-6 6M182 1217l6 6m0-6l-6 6M182 1290l6 6m0-6l-6 6M182 1210l6 6m0-6l-6 6M182 1220l6 6m0-6l-6 6M183 1092l6 6m0-6l-6 6M183 1271l6 6m0-6l-6 6M187 1220l6 6m0-6l-6 6M187 1202l6 6m0-6l-6 6M188 1185l6 6m0-6l-6 6M188 1236l6 6m0-6l-6 6M188 1186l6 6m0-6l-6 6M188 1143l6 6m0-6l-6 6M188 1241l6 6m0-6l-6 6M188 1136l6 6m0-6l-6 6M189 1187l6 6m0-6l-6 6M189 1238l6 6m0-6l-6 6M189 1160l6 6m0-6l-6 6M189 1205l6 6m0-6l-6 6M192 1123l6 6m0-6l-6 6M192 1142l6 6m0-6l-6 6M192 1210l6 6m0-6l-6 6M193 1230l6 6m0-6l-6 6M193 1113l6 6m0-6l-6 6M193 1127l6 6m0-6l-6 6M193 1200l6 6m0-6l-6 6M194 1169l6 6m0-6l-6 6M194 1240l6 6m0-6l-6 6M194 1199l6 6m0-6l-6 6M194 1235l6 6m0-6l-6 6M195 1104l6 6m0-6l-6 6M195 1174l6 6m0-6l-6 6M196 1111l6 6m0-6l-6 6M196 1167l6 6m0-6l-6 6M199 1196l6 6m0-6l-6 6M200 1187l6 6m0-6l-6 6M200 1204l6 6m0-6l-6 6M201 1160l6 6m0-6l-6 6M201 1253l6 6m0-6l-6 6M202 1160l6 6m0-6l-6 6M201 1238l6 6m0-6l-6 6M202 1087l6 6m0-6l-6 6M202 1153l6 6m0-6l-6 6M202 1185l6 6m0-6l-6 6M202 1027l6 6m0-6l-6 6M202 1241l6 6m0-6l-6 6M203 1185l6 6m0-6l-6 6M203 1190l6 6m0-6l-6 6M203 1141l6 6m0-6l-6 6M203 1211l6 6m0-6l-6 6M203 1195l6 6m0-6l-6 6M204 1277l6 6m0-6l-6 6M204 1134l6 6m0-6l-6 6M204 1170l6 6m0-6l-6 6M207 1160l6 6m0-6l-6 6M207 1082l6 6m0-6l-6 6M207 1161l6 6m0-6l-6 6M207 1175l6 6m0-6l-6 6M207 1146l6 6m0-6l-6 6M207 1108l6 6m0-6l-6 6M207 1123l6 6m0-6l-6 6M207 1114l6 6m0-6l-6 6M207 1243l6 6m0-6l-6 6M207 1227l6 6m0-6l-6 6M207 1226l6 6m0-6l-6 6M207 1187l6 6m0-6l-6 6M207 1129l6 6m0-6l-6 6M207 1204l6 6m0-6l-6 6M207 1279l6 6m0-6l-6 6M209 1186l6 6m0-6l-6 6M209 1161l6 6m0-6l-6 6M209 1056l6 6m0-6l-6 6M210 1177l6 6m0-6l-6 6M210 1077l6 6m0-6l-6 6M210 1227l6 6m0-6l-6 6M210 1206l6 6m0-6l-6 6M210 1239l6 6m0-6l-6 6M210 1155l6 6m0-6l-6 6M211 1158l6 6m0-6l-6 6M211 1168l6 6m0-6l-6 6M211 1131l6 6m0-6l-6 6M211 1213l6 6m0-6l-6 6M211 1119l6 6m0-6l-6 6M211 1170l6 6m0-6l-6 6M214 1206l6 6m0-6l-6 6M214 1118l6 6m0-6l-6 6M215 1093l6 6m0-6l-6 6M215 1156l6 6m0-6l-6 6M215 1229l6 6m0-6l-6 6M215 1206l6 6m0-6l-6 6M215 1210l6 6m0-6l-6 6M216 1148l6 6m0-6l-6 6M216 1136l6 6m0-6l-6 6M216 1189l6 6m0-6l-6 6M216 1048l6 6m0-6l-6 6M216 1114l6 6m0-6l-6 6M217 1135l6 6m0-6l-6 6M217 1180l6 6m0-6l-6 6M217 1203l6 6m0-6l-6 6M219 1123l6 6m0-6l-6 6M219 1140l6 6m0-6l-6 6M220 1203l6 6m0-6l-6 6M220 1079l6 6m0-6l-6 6M220 1175l6 6m0-6l-6 6M224 1093l6 6m0-6l-6 6M224 1208l6 6m0-6l-6 6M224 1251l6 6m0-6l-6 6M225 1211l6 6m0-6l-6 6M225 1216l6 6m0-6l-6 6M225 1246l6 6m0-6l-6 6M225 1268l6 6m0-6l-6 6M226 1177l6 6m0-6l-6 6M226 1211l6 6m0-6l-6 6M226 1171l6 6m0-6l-6 6M226 1156l6 6m0-6l-6 6M227 1210l6 6m0-6l-6 6M227 1112l6 6m0-6l-6 6M227 1220l6 6m0-6l-6 6M229 1171l6 6m0-6l-6 6M229 1141l6 6m0-6l-6 6M229 1168l6 6m0-6l-6 6M229 1243l6 6m0-6l-6 6M229 1218l6 6m0-6l-6 6M230 1129l6 6m0-6l-6 6M230 1212l6 6m0-6l-6 6M230 1191l6 6m0-6l-6 6M233 1257l6 6m0-6l-6 6M234 1300l6 6m0-6l-6 6M234 1293l6 6m0-6l-6 6M234 1309l6 6m0-6l-6 6M234 1193l6 6m0-6l-6 6M235 1124l6 6m0-6l-6 6M235 1215l6 6m0-6l-6 6M235 1240l6 6m0-6l-6 6M235 1200l6 6m0-6l-6 6M236 1149l6 6m0-6l-6 6M237 1206l6 6m0-6l-6 6M237 1255l6 6m0-6l-6 6M238 1107l6 6m0-6l-6 6M238 1165l6 6m0-6l-6 6M238 1149l6 6m0-6l-6 6M239 1263l6 6m0-6l-6 6M239 1195l6 6m0-6l-6 6M240 1243l6 6m0-6l-6 6M240 1206l6 6m0-6l-6 6M240 1147l6 6m0-6l-6 6M240 1174l6 6m0-6l-6 6M240 1133l6 6m0-6l-6 6M241 1142l6 6m0-6l-6 6M241 1203l6 6m0-6l-6 6M241 1165l6 6m0-6l-6 6M241 1179l6 6m0-6l-6 6M241 1206l6 6m0-6l-6 6M241 1208l6 6m0-6l-6 6M242 1241l6 6m0-6l-6 6M242 1159l6 6m0-6l-6 6M245 1157l6 6m0-6l-6 6M245 1112l6 6m0-6l-6 6M246 1157l6 6m0-6l-6 6M246 1177l6 6m0-6l-6 6M246 1248l6 6m0-6l-6 6M246 1204l6 6m0-6l-6 6M246 1213l6 6m0-6l-6 6M246 1224l6 6m0-6l-6 6M247 1108l6 6m0-6l-6 6M247 1138l6 6m0-6l-6 6M247 1115l6 6m0-6l-6 6M247 1203l6 6m0-6l-6 6M247 1260l6 6m0-6l-6 6M248 1159l6 6m0-6l-6 6M249 1132l6 6m0-6l-6 6M249 1153l6 6m0-6l-6 6M249 1106l6 6m0-6l-6 6M252 1108l6 6m0-6l-6 6M252 1221l6 6m0-6l-6 6M252 1126l6 6m0-6l-6 6M253 1198l6 6m0-6l-6 6M253 1135l6 6m0-6l-6 6M253 1247l6 6m0-6l-6 6M253 1099l6 6m0-6l-6 6M253 1173l6 6m0-6l-6 6M253 1171l6 6m0-6l-6 6M253 1158l6 6m0-6l-6 6M253 1103l6 6m0-6l-6 6M253 1198l6 6m0-6l-6 6M254 1219l6 6m0-6l-6 6M257 1179l6 6m0-6l-6 6M257 1169l6 6m0-6l-6 6M257 1125l6 6m0-6l-6 6M257 1187l6 6m0-6l-6 6M258 1109l6 6m0-6l-6 6M258 1224l6 6m0-6l-6 6M258 1104l6 6m0-6l-6 6M258 1169l6 6m0-6l-6 6M259 1240l6 6m0-6l-6 6M259 1164l6 6m0-6l-6 6M259 1175l6 6m0-6l-6 6M262 1169l6 6m0-6l-6 6M262 1260l6 6m0-6l-6 6M262 1193l6 6m0-6l-6 6M262 1180l6 6m0-6l-6 6M262 1178l6 6m0-6l-6 6M262 1199l6 6m0-6l-6 6M262 1262l6 6m0-6l-6 6M262 1173l6 6m0-6l-6 6M262 1253l6 6m0-6l-6 6M262 1267l6 6m0-6l-6 6M262 1182l6 6m0-6l-6 6M263 1177l6 6m0-6l-6 6M263 1181l6 6m0-6l-6 6M263 1101l6 6m0-6l-6 6M263 1192l6 6m0-6l-6 6M266 1082l6 6m0-6l-6 6M267 1196l6 6m0-6l-6 6M267 1144l6 6m0-6l-6 6M267 1256l6 6m0-6l-6 6M267 1139l6 6m0-6l-6 6M267 1161l6 6m0-6l-6 6M267 1238l6 6m0-6l-6 6M267 1235l6 6m0-6l-6 6M268 1261l6 6m0-6l-6 6M268 1298l6 6m0-6l-6 6M268 1208l6 6m0-6l-6 6M268 1169l6 6m0-6l-6 6M268 1067l6 6m0-6l-6 6M268 1284l6 6m0-6l-6 6M270 1142l6 6m0-6l-6 6M270 1154l6 6m0-6l-6 6M271 1196l6 6m0-6l-6 6M271 1108l6 6m0-6l-6 6M271 1103l6 6m0-6l-6 6M271 1154l6 6m0-6l-6 6M271 1253l6 6m0-6l-6 6M271 1217l6 6m0-6l-6 6M271 1236l6 6m0-6l-6 6M273 1255l6 6m0-6l-6 6M273 1210l6 6m0-6l-6 6M273 1247l6 6m0-6l-6 6M273 1126l6 6m0-6l-6 6M273 1227l6 6m0-6l-6 6M273 1146l6 6m0-6l-6 6M273 1240l6 6m0-6l-6 6M274 1093l6 6m0-6l-6 6M274 1052l6 6m0-6l-6 6M276 1165l6 6m0-6l-6 6M276 1091l6 6m0-6l-6 6M276 1213l6 6m0-6l-6 6M276 1198l6 6m0-6l-6 6M276 1146l6 6m0-6l-6 6M276 1104l6 6m0-6l-6 6M276 1169l6 6m0-6l-6 6M276 1130l6 6m0-6l-6 6M276 1118l6 6m0-6l-6 6M276 1194l6 6m0-6l-6 6M276 1134l6 6m0-6l-6 6M276 1195l6 6m0-6l-6 6M280 1197l6 6m0-6l-6 6M280 1200l6 6m0-6l-6 6M280 1252l6 6m0-6l-6 6M281 1177l6 6m0-6l-6 6M281 1181l6 6m0-6l-6 6M281 1124l6 6m0-6l-6 6M281 1165l6 6m0-6l-6 6M281 1154l6 6m0-6l-6 6M281 1173l6 6m0-6l-6 6M281 1165l6 6m0-6l-6 6M286 1125l6 6m0-6l-6 6M286 1118l6 6m0-6l-6 6M286 1133l6 6m0-6l-6 6M286 1260l6 6m0-6l-6 6M286 1200l6 6m0-6l-6 6M286 1165l6 6m0-6l-6 6M286 1247l6 6m0-6l-6 6M286 1224l6 6m0-6l-6 6M286 1130l6 6m0-6l-6 6M286 1126l6 6m0-6l-6 6M286 1124l6 6m0-6l-6 6M287 1177l6 6m0-6l-6 6M288 1091l6 6m0-6l-6 6M288 1165l6 6m0-6l-6 6M288 1147l6 6m0-6l-6 6M288 1172l6 6m0-6l-6 6M288 1145l6 6m0-6l-6 6M288 1222l6 6m0-6l-6 6M289 1157l6 6m0-6l-6 6M289 1147l6 6m0-6l-6 6M289 1201l6 6m0-6l-6 6M289 1126l6 6m0-6l-6 6M289 1139l6 6m0-6l-6 6M289 1166l6 6m0-6l-6 6M289 1107l6 6m0-6l-6 6M290 1174l6 6m0-6l-6 6M290 1201l6 6m0-6l-6 6M290 1166l6 6m0-6l-6 6M290 1138l6 6m0-6l-6 6M290 1167l6 6m0-6l-6 6M290 1150l6 6m0-6l-6 6M290 1115l6 6m0-6l-6 6M291 1115l6 6m0-6l-6 6M291 1138l6 6m0-6l-6 6M291 1150l6 6m0-6l-6 6M291 1102l6 6m0-6l-6 6M294 1299l6 6m0-6l-6 6M294 1119l6 6m0-6l-6 6M294 1116l6 6m0-6l-6 6M294 1143l6 6m0-6l-6 6M294 1187l6 6m0-6l-6 6M294 1097l6 6m0-6l-6 6M295 1129l6 6m0-6l-6 6M298 1163l6 6m0-6l-6 6M299 1203l6 6m0-6l-6 6M299 1245l6 6m0-6l-6 6M299 1158l6 6m0-6l-6 6M299 1162l6 6m0-6l-6 6M300 1204l6 6m0-6l-6 6M301 1223l6 6m0-6l-6 6M301 1291l6 6m0-6l-6 6M302 1194l6 6m0-6l-6 6M302 1121l6 6m0-6l-6 6M302 1219l6 6m0-6l-6 6M302 1176l6 6m0-6l-6 6M303 1178l6 6m0-6l-6 6M303 1189l6 6m0-6l-6 6M303 1078l6 6m0-6l-6 6M303 1200l6 6m0-6l-6 6M304 1093l6 6m0-6l-6 6M304 1141l6 6m0-6l-6 6M304 1102l6 6m0-6l-6 6M306 1094l6 6m0-6l-6 6M306 1049l6 6m0-6l-6 6M306 1134l6 6m0-6l-6 6M306 1168l6 6m0-6l-6 6M306 1100l6 6m0-6l-6 6M306 1061l6 6m0-6l-6 6M306 1170l6 6m0-6l-6 6M306 1117l6 6m0-6l-6 6M306 1170l6 6m0-6l-6 6M306 1159l6 6m0-6l-6 6M306 1088l6 6m0-6l-6 6M309 1175l6 6m0-6l-6 6M310 1243l6 6m0-6l-6 6M310 1244l6 6m0-6l-6 6M310 1254l6 6m0-6l-6 6M310 1201l6 6m0-6l-6 6M310 1158l6 6m0-6l-6 6M310 1216l6 6m0-6l-6 6M310 1209l6 6m0-6l-6 6M310 1222l6 6m0-6l-6 6M310 1253l6 6m0-6l-6 6M310 1182l6 6m0-6l-6 6M310 1137l6 6m0-6l-6 6M314 1128l6 6m0-6l-6 6M314 1130l6 6m0-6l-6 6M315 1106l6 6m0-6l-6 6M315 1121l6 6m0-6l-6 6M315 1144l6 6m0-6l-6 6M315 1122l6 6m0-6l-6 6M315 1088l6 6m0-6l-6 6M315 1147l6 6m0-6l-6 6M315 1105l6 6m0-6l-6 6M315 1068l6 6m0-6l-6 6M315 1230l6 6m0-6l-6 6M315 1110l6 6m0-6l-6 6M315 1115l6 6m0-6l-6 6M315 1171l6 6m0-6l-6 6M315 1153l6 6m0-6l-6 6M316 1131l6 6m0-6l-6 6M317 1166l6 6m0-6l-6 6M317 1054l6 6m0-6l-6 6M317 1096l6 6m0-6l-6 6M317 1100l6 6m0-6l-6 6M318 1217l6 6m0-6l-6 6M318 1056l6 6m0-6l-6 6M318 1177l6 6m0-6l-6 6M318 1045l6 6m0-6l-6 6M319 1172l6 6m0-6l-6 6M319 1147l6 6m0-6l-6 6M319 1106l6 6m0-6l-6 6M319 1194l6 6m0-6l-6 6M320 1164l6 6m0-6l-6 6M320 1249l6 6m0-6l-6 6M320 1100l6 6m0-6l-6 6M320 1188l6 6m0-6l-6 6M320 1107l6 6m0-6l-6 6M321 1141l6 6m0-6l-6 6M321 1183l6 6m0-6l-6 6M321 1165l6 6m0-6l-6 6M322 1220l6 6m0-6l-6 6M322 1198l6 6m0-6l-6 6M323 1101l6 6m0-6l-6 6M324 1225l6 6m0-6l-6 6M324 1077l6 6m0-6l-6 6M325 1262l6 6m0-6l-6 6M326 1179l6 6m0-6l-6 6M326 1233l6 6m0-6l-6 6M327 1155l6 6m0-6l-6 6M327 1179l6 6m0-6l-6 6M327 1182l6 6m0-6l-6 6M328 1130l6 6m0-6l-6 6M328 1088l6 6m0-6l-6 6M328 1270l6 6m0-6l-6 6M328 1110l6 6m0-6l-6 6M328 1143l6 6m0-6l-6 6M328 1118l6 6m0-6l-6 6M329 1209l6 6m0-6l-6 6M329 1190l6 6m0-6l-6 6M329 1109l6 6m0-6l-6 6M329 1174l6 6m0-6l-6 6M329 1158l6 6m0-6l-6 6M329 1178l6 6m0-6l-6 6M329 1212l6 6m0-6l-6 6M329 1133l6 6m0-6l-6 6M329 1123l6 6m0-6l-6 6M330 1172l6 6m0-6l-6 6M330 1133l6 6m0-6l-6 6M330 1212l6 6m0-6l-6 6M332 1160l6 6m0-6l-6 6M332 1218l6 6m0-6l-6 6M332 1162l6 6m0-6l-6 6M333 1180l6 6m0-6l-6 6M333 1125l6 6m0-6l-6 6M333 1145l6 6m0-6l-6 6M333 1196l6 6m0-6l-6 6M334 1158l6 6m0-6l-6 6M334 1142l6 6m0-6l-6 6M336 1201l6 6m0-6l-6 6M341 1151l6 6m0-6l-6 6M341 1158l6 6m0-6l-6 6M341 1112l6 6m0-6l-6 6M342 1190l6 6m0-6l-6 6M342 1040l6 6m0-6l-6 6M343 1165l6 6m0-6l-6 6M343 1120l6 6m0-6l-6 6M343 1113l6 6m0-6l-6 6M344 1159l6 6m0-6l-6 6M343 1167l6 6m0-6l-6 6M343 1172l6 6m0-6l-6 6M343 1080l6 6m0-6l-6 6M343 1075l6 6m0-6l-6 6M343 1121l6 6m0-6l-6 6M343 1114l6 6m0-6l-6 6M343 1168l6 6m0-6l-6 6M343 1163l6 6m0-6l-6 6M343 1116l6 6m0-6l-6 6M343 1189l6 6m0-6l-6 6M343 1161l6 6m0-6l-6 6M343 1112l6 6m0-6l-6 6M346 1138l6 6m0-6l-6 6M346 1085l6 6m0-6l-6 6M346 1172l6 6m0-6l-6 6M346 1165l6 6m0-6l-6 6M347 1178l6 6m0-6l-6 6M347 1101l6 6m0-6l-6 6M347 1130l6 6m0-6l-6 6M347 1188l6 6m0-6l-6 6M347 1145l6 6m0-6l-6 6M348 1028l6 6m0-6l-6 6M348 1058l6 6m0-6l-6 6M348 1220l6 6m0-6l-6 6M348 1125l6 6m0-6l-6 6M351 1129l6 6m0-6l-6 6M351 1141l6 6m0-6l-6 6M351 1132l6 6m0-6l-6 6M351 1162l6 6m0-6l-6 6M351 1161l6 6m0-6l-6 6M351 1147l6 6m0-6l-6 6M351 1065l6 6m0-6l-6 6M353 1046l6 6m0-6l-6 6M357 1077l6 6m0-6l-6 6M358 1048l6 6m0-6l-6 6M358 1124l6 6m0-6l-6 6M358 1200l6 6m0-6l-6 6M358 1096l6 6m0-6l-6 6M359 1046l6 6m0-6l-6 6M359 1055l6 6m0-6l-6 6M359 1158l6 6m0-6l-6 6M359 1085l6 6m0-6l-6 6M360 1149l6 6m0-6l-6 6M360 1081l6 6m0-6l-6 6M360 1161l6 6m0-6l-6 6M360 1059l6 6m0-6l-6 6M360 1090l6 6m0-6l-6 6M360 1087l6 6m0-6l-6 6M360 1118l6 6m0-6l-6 6M360 1036l6 6m0-6l-6 6M360 1235l6 6m0-6l-6 6M361 1127l6 6m0-6l-6 6M361 1052l6 6m0-6l-6 6M361 1230l6 6m0-6l-6 6M361 1086l6 6m0-6l-6 6M364 1148l6 6m0-6l-6 6M364 1149l6 6m0-6l-6 6M364 1219l6 6m0-6l-6 6M365 1159l6 6m0-6l-6 6M365 1053l6 6m0-6l-6 6M365 1046l6 6m0-6l-6 6M365 1107l6 6m0-6l-6 6M365 1162l6 6m0-6l-6 6M365 1156l6 6m0-6l-6 6M365 1107l6 6m0-6l-6 6M366 1174l6 6m0-6l-6 6M366 1207l6 6m0-6l-6 6M366 1213l6 6m0-6l-6 6M366 1035l6 6m0-6l-6 6M366 1078l6 6m0-6l-6 6M366 1186l6 6m0-6l-6 6M366 1136l6 6m0-6l-6 6M367 1110l6 6m0-6l-6 6M367 1100l6 6m0-6l-6 6M367 1024l6 6m0-6l-6 6M367 1196l6 6m0-6l-6 6M367 1164l6 6m0-6l-6 6M367 1158l6 6m0-6l-6 6M367 1119l6 6m0-6l-6 6M367 1073l6 6m0-6l-6 6M368 1197l6 6m0-6l-6 6M368 1176l6 6m0-6l-6 6M368 1103l6 6m0-6l-6 6M368 1105l6 6m0-6l-6 6M370 1223l6 6m0-6l-6 6M370 1174l6 6m0-6l-6 6M371 1183l6 6m0-6l-6 6M371 1155l6 6m0-6l-6 6M371 1121l6 6m0-6l-6 6M372 1157l6 6m0-6l-6 6M372 1175l6 6m0-6l-6 6M372 1099l6 6m0-6l-6 6M373 1179l6 6m0-6l-6 6M372 1085l6 6m0-6l-6 6M373 1113l6 6m0-6l-6 6M373 1244l6 6m0-6l-6 6M373 1152l6 6m0-6l-6 6M373 1181l6 6m0-6l-6 6M374 1100l6 6m0-6l-6 6M374 1189l6 6m0-6l-6 6M374 1190l6 6m0-6l-6 6M375 1089l6 6m0-6l-6 6M375 1109l6 6m0-6l-6 6M375 1138l6 6m0-6l-6 6M375 1127l6 6m0-6l-6 6M375 1156l6 6m0-6l-6 6M376 1029l6 6m0-6l-6 6M376 1052l6 6m0-6l-6 6M376 1109l6 6m0-6l-6 6M376 1066l6 6m0-6l-6 6M376 1119l6 6m0-6l-6 6M378 1098l6 6m0-6l-6 6M378 1133l6 6m0-6l-6 6M379 1033l6 6m0-6l-6 6M379 1124l6 6m0-6l-6 6M379 1051l6 6m0-6l-6 6M379 1048l6 6m0-6l-6 6M379 1043l6 6m0-6l-6 6M379 1239l6 6m0-6l-6 6M379 1115l6 6m0-6l-6 6M379 1154l6 6m0-6l-6 6M379 1211l6 6m0-6l-6 6M379 1100l6 6m0-6l-6 6M379 1143l6 6m0-6l-6 6M383 1053l6 6m0-6l-6 6M383 1082l6 6m0-6l-6 6M383 1117l6 6m0-6l-6 6M384 1165l6 6m0-6l-6 6M384 1201l6 6m0-6l-6 6M384 1113l6 6m0-6l-6 6M384 1103l6 6m0-6l-6 6M384 1161l6 6m0-6l-6 6M384 1073l6 6m0-6l-6 6M384 1065l6 6m0-6l-6 6M385 1066l6 6m0-6l-6 6M385 1109l6 6m0-6l-6 6M385 1116l6 6m0-6l-6 6M385 1137l6 6m0-6l-6 6M385 1075l6 6m0-6l-6 6M386 1153l6 6m0-6l-6 6M386 1206l6 6m0-6l-6 6M386 1179l6 6m0-6l-6 6M386 1098l6 6m0-6l-6 6M386 1118l6 6m0-6l-6 6M386 1060l6 6m0-6l-6 6M386 1135l6 6m0-6l-6 6M386 1130l6 6m0-6l-6 6M387 1147l6 6m0-6l-6 6M387 1158l6 6m0-6l-6 6M391 1162l6 6m0-6l-6 6M391 1125l6 6m0-6l-6 6M391 1212l6 6m0-6l-6 6M391 1226l6 6m0-6l-6 6M391 1168l6 6m0-6l-6 6M391 1308l6 6m0-6l-6 6M391 1104l6 6m0-6l-6 6M391 1143l6 6m0-6l-6 6M391 1076l6 6m0-6l-6 6M391 1112l6 6m0-6l-6 6M391 1066l6 6m0-6l-6 6M391 1118l6 6m0-6l-6 6M393 1044l6 6m0-6l-6 6M393 1177l6 6m0-6l-6 6M393 1144l6 6m0-6l-6 6M393 1083l6 6m0-6l-6 6M393 1158l6 6m0-6l-6 6M393 1085l6 6m0-6l-6 6M393 1131l6 6m0-6l-6 6M393 1089l6 6m0-6l-6 6M393 1129l6 6m0-6l-6 6M393 1166l6 6m0-6l-6 6M394 1205l6 6m0-6l-6 6M394 1117l6 6m0-6l-6 6M394 1024l6 6m0-6l-6 6M394 1119l6 6m0-6l-6 6M394 1166l6 6m0-6l-6 6M396 1198l6 6m0-6l-6 6M396 1093l6 6m0-6l-6 6M397 1196l6 6m0-6l-6 6M397 1210l6 6m0-6l-6 6M397 1087l6 6m0-6l-6 6M397 1120l6 6m0-6l-6 6M400 1172l6 6m0-6l-6 6M400 1098l6 6m0-6l-6 6M400 1150l6 6m0-6l-6 6M400 1124l6 6m0-6l-6 6M400 1131l6 6m0-6l-6 6M401 1201l6 6m0-6l-6 6M401 1117l6 6m0-6l-6 6M401 1161l6 6m0-6l-6 6M401 1215l6 6m0-6l-6 6M401 1151l6 6m0-6l-6 6M401 1208l6 6m0-6l-6 6M402 1226l6 6m0-6l-6 6M402 1107l6 6m0-6l-6 6M402 1211l6 6m0-6l-6 6M403 1054l6 6m0-6l-6 6M403 1051l6 6m0-6l-6 6M403 1034l6 6m0-6l-6 6M403 1102l6 6m0-6l-6 6M403 1121l6 6m0-6l-6 6M403 1072l6 6m0-6l-6 6M403 1072l6 6m0-6l-6 6M404 1148l6 6m0-6l-6 6M404 1163l6 6m0-6l-6 6M404 1123l6 6m0-6l-6 6M404 1144l6 6m0-6l-6 6M404 1063l6 6m0-6l-6 6M404 1058l6 6m0-6l-6 6M405 1125l6 6m0-6l-6 6M406 1130l6 6m0-6l-6 6M409 1070l6 6m0-6l-6 6M409 1144l6 6m0-6l-6 6M409 1057l6 6m0-6l-6 6M410 1176l6 6m0-6l-6 6M410 1166l6 6m0-6l-6 6M410 1127l6 6m0-6l-6 6M411 1133l6 6m0-6l-6 6M411 1226l6 6m0-6l-6 6M411 1150l6 6m0-6l-6 6M412 1145l6 6m0-6l-6 6M412 1179l6 6m0-6l-6 6M414 1225l6 6m0-6l-6 6M415 1152l6 6m0-6l-6 6M415 1164l6 6m0-6l-6 6M416 1179l6 6m0-6l-6 6M416 1261l6 6m0-6l-6 6M416 1087l6 6m0-6l-6 6M418 1190l6 6m0-6l-6 6M418 1099l6 6m0-6l-6 6M418 1148l6 6m0-6l-6 6M418 1052l6 6m0-6l-6 6M418 1206l6 6m0-6l-6 6M418 1226l6 6m0-6l-6 6M418 1167l6 6m0-6l-6 6M418 1137l6 6m0-6l-6 6M418 1124l6 6m0-6l-6 6M419 1069l6 6m0-6l-6 6M419 1165l6 6m0-6l-6 6M419 1107l6 6m0-6l-6 6M419 1082l6 6m0-6l-6 6M419 1139l6 6m0-6l-6 6M422 1176l6 6m0-6l-6 6M422 1141l6 6m0-6l-6 6M422 1134l6 6m0-6l-6 6M422 1098l6 6m0-6l-6 6M422 1209l6 6m0-6l-6 6M422 1092l6 6m0-6l-6 6M422 1163l6 6m0-6l-6 6M423 1199l6 6m0-6l-6 6M423 1134l6 6m0-6l-6 6M427 1168l6 6m0-6l-6 6M427 1161l6 6m0-6l-6 6M427 1106l6 6m0-6l-6 6M428 1204l6 6m0-6l-6 6M428 1145l6 6m0-6l-6 6M428 1202l6 6m0-6l-6 6M430 1276l6 6m0-6l-6 6M430 1126l6 6m0-6l-6 6M430 1198l6 6m0-6l-6 6M431 1256l6 6m0-6l-6 6M431 1211l6 6m0-6l-6 6M431 1165l6 6m0-6l-6 6M432 1220l6 6m0-6l-6 6M435 1126l6 6m0-6l-6 6M435 1142l6 6m0-6l-6 6M435 1209l6 6m0-6l-6 6M435 1173l6 6m0-6l-6 6M435 1144l6 6m0-6l-6 6M436 1236l6 6m0-6l-6 6M436 1188l6 6m0-6l-6 6M436 1217l6 6m0-6l-6 6M438 1189l6 6m0-6l-6 6M438 1126l6 6m0-6l-6 6M438 1158l6 6m0-6l-6 6M439 1217l6 6m0-6l-6 6M439 1129l6 6m0-6l-6 6M439 1139l6 6m0-6l-6 6M439 1191l6 6m0-6l-6 6M439 1254l6 6m0-6l-6 6M439 1137l6 6m0-6l-6 6M439 1106l6 6m0-6l-6 6M439 1310l6 6m0-6l-6 6M443 1209l6 6m0-6l-6 6M443 1139l6 6m0-6l-6 6M443 1156l6 6m0-6l-6 6M444 1116l6 6m0-6l-6 6M444 1109l6 6m0-6l-6 6M444 1249l6 6m0-6l-6 6M444 1121l6 6m0-6l-6 6M445 1196l6 6m0-6l-6 6M445 1108l6 6m0-6l-6 6M445 1262l6 6m0-6l-6 6M445 1193l6 6m0-6l-6 6M445 1091l6 6m0-6l-6 6M446 1090l6 6m0-6l-6 6M446 1193l6 6m0-6l-6 6M446 1169l6 6m0-6l-6 6M446 1167l6 6m0-6l-6 6M448 1123l6 6m0-6l-6 6M448 1192l6 6m0-6l-6 6M449 1131l6 6m0-6l-6 6M449 1219l6 6m0-6l-6 6M449 1204l6 6m0-6l-6 6M450 1141l6 6m0-6l-6 6M450 1140l6 6m0-6l-6 6M450 1154l6 6m0-6l-6 6M451 1152l6 6m0-6l-6 6M451 1322l6 6m0-6l-6 6M451 1183l6 6m0-6l-6 6M452 1230l6 6m0-6l-6 6M452 1124l6 6m0-6l-6 6M453 1146l6 6m0-6l-6 6M453 1243l6 6m0-6l-6 6M453 1240l6 6m0-6l-6 6M453 1190l6 6m0-6l-6 6M456 1208l6 6m0-6l-6 6M456 1208l6 6m0-6l-6 6M456 1147l6 6m0-6l-6 6M457 1104l6 6m0-6l-6 6M457 1178l6 6m0-6l-6 6M457 1228l6 6m0-6l-6 6M458 1179l6 6m0-6l-6 6M458 1205l6 6m0-6l-6 6M458 1200l6 6m0-6l-6 6M458 1177l6 6m0-6l-6 6M459 1269l6 6m0-6l-6 6M461 1048l6 6m0-6l-6 6M465 1222l6 6m0-6l-6 6M466 1172l6 6m0-6l-6 6M466 1177l6 6m0-6l-6 6M467 1229l6 6m0-6l-6 6M467 1153l6 6m0-6l-6 6M467 1195l6 6m0-6l-6 6M468 1176l6 6m0-6l-6 6M468 1258l6 6m0-6l-6 6M470 1237l6 6m0-6l-6 6M470 1167l6 6m0-6l-6 6M470 1182l6 6m0-6l-6 6M470 1158l6 6m0-6l-6 6M471 1176l6 6m0-6l-6 6M471 1114l6 6m0-6l-6 6M471 1164l6 6m0-6l-6 6M472 1208l6 6m0-6l-6 6M472 1170l6 6m0-6l-6 6M472 1260l6 6m0-6l-6 6M472 1148l6 6m0-6l-6 6M475 1091l6 6m0-6l-6 6M475 1142l6 6m0-6l-6 6M476 1234l6 6m0-6l-6 6M476 1166l6 6m0-6l-6 6M476 1179l6 6m0-6l-6 6M476 1204l6 6m0-6l-6 6M476 1217l6 6m0-6l-6 6M477 1289l6 6m0-6l-6 6M477 1131l6 6m0-6l-6 6M477 1161l6 6m0-6l-6 6M477 1263l6 6m0-6l-6 6M480 1142l6 6m0-6l-6 6M480 1114l6 6m0-6l-6 6M480 1152l6 6m0-6l-6 6M480 1264l6 6m0-6l-6 6M480 1039l6 6m0-6l-6 6M480 1125l6 6m0-6l-6 6M480 1157l6 6m0-6l-6 6M480 1268l6 6m0-6l-6 6M481 1227l6 6m0-6l-6 6M481 1206l6 6m0-6l-6 6M481 1192l6 6m0-6l-6 6M481 1263l6 6m0-6l-6 6M481 1190l6 6m0-6l-6 6M481 1187l6 6m0-6l-6 6M481 1206l6 6m0-6l-6 6M482 1114l6 6m0-6l-6 6M482 1184l6 6m0-6l-6 6M482 1117l6 6m0-6l-6 6M482 1170l6 6m0-6l-6 6M482 1192l6 6m0-6l-6 6M482 1123l6 6m0-6l-6 6M482 1092l6 6m0-6l-6 6M483 1203l6 6m0-6l-6 6M483 1308l6 6m0-6l-6 6M483 1162l6 6m0-6l-6 6M483 1133l6 6m0-6l-6 6M485 1290l6 6m0-6l-6 6M486 1210l6 6m0-6l-6 6M486 1210l6 6m0-6l-6 6M486 1222l6 6m0-6l-6 6M486 1183l6 6m0-6l-6 6M486 1155l6 6m0-6l-6 6M486 1092l6 6m0-6l-6 6M486 1133l6 6m0-6l-6 6M488 1221l6 6m0-6l-6 6M489 1217l6 6m0-6l-6 6M489 1123l6 6m0-6l-6 6M489 1238l6 6m0-6l-6 6M489 1103l6 6m0-6l-6 6M490 1288l6 6m0-6l-6 6M490 1127l6 6m0-6l-6 6M490 1161l6 6m0-6l-6 6M490 1235l6 6m0-6l-6 6M491 1269l6 6m0-6l-6 6M491 1174l6 6m0-6l-6 6M491 1165l6 6m0-6l-6 6M491 1107l6 6m0-6l-6 6M491 1157l6 6m0-6l-6 6M491 1139l6 6m0-6l-6 6M492 1243l6 6m0-6l-6 6M492 1178l6 6m0-6l-6 6M492 1113l6 6m0-6l-6 6M492 1179l6 6m0-6l-6 6M493 1204l6 6m0-6l-6 6M493 1185l6 6m0-6l-6 6M493 1260l6 6m0-6l-6 6M493 1227l6 6m0-6l-6 6M495 1185l6 6m0-6l-6 6M495 1167l6 6m0-6l-6 6M496 1118l6 6m0-6l-6 6M496 1115l6 6m0-6l-6 6M496 1242l6 6m0-6l-6 6M496 1160l6 6m0-6l-6 6M496 1154l6 6m0-6l-6 6M497 1171l6 6m0-6l-6 6M497 1176l6 6m0-6l-6 6M497 1250l6 6m0-6l-6 6M500 1169l6 6m0-6l-6 6M500 1210l6 6m0-6l-6 6M500 1204l6 6m0-6l-6 6M500 1113l6 6m0-6l-6 6M500 1200l6 6m0-6l-6 6M500 1118l6 6m0-6l-6 6M500 1192l6 6m0-6l-6 6M500 1172l6 6m0-6l-6 6M500 1126l6 6m0-6l-6 6M500 1188l6 6m0-6l-6 6M504 1286l6 6m0-6l-6 6M504 1089l6 6m0-6l-6 6M504 1161l6 6m0-6l-6 6M504 1175l6 6m0-6l-6 6M504 1215l6 6m0-6l-6 6M504 1165l6 6m0-6l-6 6M504 1111l6 6m0-6l-6 6M504 1236l6 6m0-6l-6 6M505 1174l6 6m0-6l-6 6M505 1175l6 6m0-6l-6 6M505 1118l6 6m0-6l-6 6M505 1162l6 6m0-6l-6 6M505 1162l6 6m0-6l-6 6M505 1162l6 6m0-6l-6 6M505 1130l6 6m0-6l-6 6M508 1143l6 6m0-6l-6 6M508 1207l6 6m0-6l-6 6M508 1213l6 6m0-6l-6 6M508 1194l6 6m0-6l-6 6M508 1142l6 6m0-6l-6 6M508 1268l6 6m0-6l-6 6M509 1113l6 6m0-6l-6 6M509 1142l6 6m0-6l-6 6M509 1204l6 6m0-6l-6 6M509 1242l6 6m0-6l-6 6M511 1133l6 6m0-6l-6 6M511 1199l6 6m0-6l-6 6M511 1124l6 6m0-6l-6 6M511 1133l6 6m0-6l-6 6M511 1159l6 6m0-6l-6 6M513 1190l6 6m0-6l-6 6M513 1110l6 6m0-6l-6 6M513 1083l6 6m0-6l-6 6M514 1192l6 6m0-6l-6 6M514 1066l6 6m0-6l-6 6M514 1031l6 6m0-6l-6 6M514 1132l6 6m0-6l-6 6M514 1098l6 6m0-6l-6 6M515 1164l6 6m0-6l-6 6M515 1105l6 6m0-6l-6 6M515 1161l6 6m0-6l-6 6M515 1111l6 6m0-6l-6 6M516 1128l6 6m0-6l-6 6M516 1145l6 6m0-6l-6 6M516 1040l6 6m0-6l-6 6M516 1142l6 6m0-6l-6 6M516 1127l6 6m0-6l-6 6M516 1280l6 6m0-6l-6 6M516 1158l6 6m0-6l-6 6M517 1154l6 6m0-6l-6 6M517 1157l6 6m0-6l-6 6M517 1201l6 6m0-6l-6 6M517 1188l6 6m0-6l-6 6M517 1203l6 6m0-6l-6 6M519 1114l6 6m0-6l-6 6M519 1199l6 6m0-6l-6 6M519 1115l6 6m0-6l-6 6M519 1139l6 6m0-6l-6 6M519 1203l6 6m0-6l-6 6M519 1179l6 6m0-6l-6 6M519 1224l6 6m0-6l-6 6M520 1154l6 6m0-6l-6 6M520 1090l6 6m0-6l-6 6M524 1168l6 6m0-6l-6 6M524 1203l6 6m0-6l-6 6M524 1161l6 6m0-6l-6 6M524 1236l6 6m0-6l-6 6M524 1091l6 6m0-6l-6 6M524 1113l6 6m0-6l-6 6M524 1138l6 6m0-6l-6 6M524 1061l6 6m0-6l-6 6M524 1173l6 6m0-6l-6 6M524 1195l6 6m0-6l-6 6M524 1142l6 6m0-6l-6 6M524 1123l6 6m0-6l-6 6M524 1222l6 6m0-6l-6 6M524 1143l6 6m0-6l-6 6M524 1175l6 6m0-6l-6 6M527 1230l6 6m0-6l-6 6M527 1239l6 6m0-6l-6 6M527 1152l6 6m0-6l-6 6M527 1228l6 6m0-6l-6 6M527 1243l6 6m0-6l-6 6M527 1128l6 6m0-6l-6 6M528 1229l6 6m0-6l-6 6M528 1184l6 6m0-6l-6 6M528 1136l6 6m0-6l-6 6M528 1166l6 6m0-6l-6 6M531 1271l6 6m0-6l-6 6M531 1223l6 6m0-6l-6 6M531 1244l6 6m0-6l-6 6M531 1119l6 6m0-6l-6 6M531 1172l6 6m0-6l-6 6M532 1139l6 6m0-6l-6 6M532 1088l6 6m0-6l-6 6M535 1209l6 6m0-6l-6 6M535 1174l6 6m0-6l-6 6M535 1183l6 6m0-6l-6 6M536 1259l6 6m0-6l-6 6M536 1170l6 6m0-6l-6 6M537 1205l6 6m0-6l-6 6M537 1185l6 6m0-6l-6 6M537 1156l6 6m0-6l-6 6M538 1305l6 6m0-6l-6 6M538 1153l6 6m0-6l-6 6M539 1190l6 6m0-6l-6 6M540 1146l6 6m0-6l-6 6M540 1161l6 6m0-6l-6 6M540 1156l6 6m0-6l-6 6M540 1209l6 6m0-6l-6 6M540 1224l6 6m0-6l-6 6M541 1203l6 6m0-6l-6 6M541 1217l6 6m0-6l-6 6M541 1120l6 6m0-6l-6 6M541 1163l6 6m0-6l-6 6M541 1172l6 6m0-6l-6 6M541 1261l6 6m0-6l-6 6M544 1256l6 6m0-6l-6 6M544 1245l6 6m0-6l-6 6M544 1249l6 6m0-6l-6 6M544 1249l6 6m0-6l-6 6M544 1216l6 6m0-6l-6 6M545 1067l6 6m0-6l-6 6M549 1204l6 6m0-6l-6 6M549 1195l6 6m0-6l-6 6M549 1235l6 6m0-6l-6 6M549 1193l6 6m0-6l-6 6M549 1147l6 6m0-6l-6 6M549 1261l6 6m0-6l-6 6M549 1225l6 6m0-6l-6 6M549 1198l6 6m0-6l-6 6M551 1209l6 6m0-6l-6 6M552 1152l6 6m0-6l-6 6M552 1183l6 6m0-6l-6 6M553 1077l6 6m0-6l-6 6M553 1151l6 6m0-6l-6 6M554 1270l6 6m0-6l-6 6M554 1265l6 6m0-6l-6 6M553 1200l6 6m0-6l-6 6M553 1157l6 6m0-6l-6 6M553 1200l6 6m0-6l-6 6M554 1152l6 6m0-6l-6 6M554 1113l6 6m0-6l-6 6M554 1178l6 6m0-6l-6 6M555 1203l6 6m0-6l-6 6M555 1182l6 6m0-6l-6 6M555 1232l6 6m0-6l-6 6M555 1169l6 6m0-6l-6 6M556 1198l6 6m0-6l-6 6M558 1173l6 6m0-6l-6 6M559 1146l6 6m0-6l-6 6M560 1190l6 6m0-6l-6 6M560 1062l6 6m0-6l-6 6M561 1154l6 6m0-6l-6 6M561 1169l6 6m0-6l-6 6M562 1275l6 6m0-6l-6 6M562 1180l6 6m0-6l-6 6M562 1075l6 6m0-6l-6 6M563 1219l6 6m0-6l-6 6M565 1141l6 6m0-6l-6 6M566 1249l6 6m0-6l-6 6M566 1173l6 6m0-6l-6 6M567 1288l6 6m0-6l-6 6M567 1158l6 6m0-6l-6 6M567 1189l6 6m0-6l-6 6M570 1245l6 6m0-6l-6 6M570 1278l6 6m0-6l-6 6M571 1120l6 6m0-6l-6 6M571 1215l6 6m0-6l-6 6M572 1170l6 6m0-6l-6 6M573 1121l6 6m0-6l-6 6M573 1187l6 6m0-6l-6 6M573 1199l6 6m0-6l-6 6M573 1264l6 6m0-6l-6 6M574 1168l6 6m0-6l-6 6M574 1217l6 6m0-6l-6 6M574 1243l6 6m0-6l-6 6M574 1130l6 6m0-6l-6 6M575 1138l6 6m0-6l-6 6M578 1242l6 6m0-6l-6 6M578 1187l6 6m0-6l-6 6M578 1141l6 6m0-6l-6 6M578 1228l6 6m0-6l-6 6M579 1182l6 6m0-6l-6 6M579 1259l6 6m0-6l-6 6M579 1236l6 6m0-6l-6 6M579 1259l6 6m0-6l-6 6M580 1174l6 6m0-6l-6 6M580 1262l6 6m0-6l-6 6M581 1174l6 6m0-6l-6 6M581 1171l6 6m0-6l-6 6M581 1103l6 6m0-6l-6 6M581 1159l6 6m0-6l-6 6M582 1081l6 6m0-6l-6 6M582 1111l6 6m0-6l-6 6M582 1148l6 6m0-6l-6 6M582 1177l6 6m0-6l-6 6M583 1165l6 6m0-6l-6 6M583 1154l6 6m0-6l-6 6M583 1176l6 6m0-6l-6 6M583 1197l6 6m0-6l-6 6M583 1215l6 6m0-6l-6 6M583 1216l6 6m0-6l-6 6M583 1154l6 6m0-6l-6 6M583 1204l6 6m0-6l-6 6M584 1258l6 6m0-6l-6 6M584 1276l6 6m0-6l-6 6M584 1162l6 6m0-6l-6 6M584 1224l6 6m0-6l-6 6M584 1140l6 6m0-6l-6 6M587 1209l6 6m0-6l-6 6M588 1143l6 6m0-6l-6 6M588 1296l6 6m0-6l-6 6M588 1140l6 6m0-6l-6 6M588 1152l6 6m0-6l-6 6M588 1212l6 6m0-6l-6 6M589 1257l6 6m0-6l-6 6M589 1224l6 6m0-6l-6 6M593 1196l6 6m0-6l-6 6M593 1225l6 6m0-6l-6 6M593 1208l6 6m0-6l-6 6M593 1142l6 6m0-6l-6 6M594 1211l6 6m0-6l-6 6M594 1096l6 6m0-6l-6 6M594 1138l6 6m0-6l-6 6M594 1222l6 6m0-6l-6 6M595 1263l6 6m0-6l-6 6M595 1174l6 6m0-6l-6 6M595 1200l6 6m0-6l-6 6M598 1292l6 6m0-6l-6 6M598 1215l6 6m0-6l-6 6M598 1304l6 6m0-6l-6 6M598 1193l6 6m0-6l-6 6M598 1187l6 6m0-6l-6 6M598 1169l6 6m0-6l-6 6M598 1160l6 6m0-6l-6 6M598 1152l6 6m0-6l-6 6M598 1279l6 6m0-6l-6 6M599 1204l6 6m0-6l-6 6M599 1230l6 6m0-6l-6 6M599 1099l6 6m0-6l-6 6M599 1110l6 6m0-6l-6 6M600 1258l6 6m0-6l-6 6M600 1194l6 6m0-6l-6 6M600 1229l6 6m0-6l-6 6M600 1234l6 6m0-6l-6 6M600 1264l6 6m0-6l-6 6M600 1202l6 6m0-6l-6 6M601 1255l6 6m0-6l-6 6M604 1172l6 6m0-6l-6 6M605 1185l6 6m0-6l-6 6M605 1128l6 6m0-6l-6 6M605 1149l6 6m0-6l-6 6M608 1322l6 6m0-6l-6 6M608 1048l6 6m0-6l-6 6M608 1103l6 6m0-6l-6 6M608 1212l6 6m0-6l-6 6M609 1225l6 6m0-6l-6 6M609 1259l6 6m0-6l-6 6M609 1235l6 6m0-6l-6 6M609 1262l6 6m0-6l-6 6M609 1075l6 6m0-6l-6 6M609 1214l6 6m0-6l-6 6M609 1169l6 6m0-6l-6 6M610 1204l6 6m0-6l-6 6M610 1161l6 6m0-6l-6 6M610 1180l6 6m0-6l-6 6M611 1142l6 6m0-6l-6 6M611 1215l6 6m0-6l-6 6M611 1162l6 6m0-6l-6 6M611 1255l6 6m0-6l-6 6M612 1177l6 6m0-6l-6 6M612 1159l6 6m0-6l-6 6M612 1221l6 6m0-6l-6 6M613 1233l6 6m0-6l-6 6M613 1165l6 6m0-6l-6 6M613 1243l6 6m0-6l-6 6M615 1136l6 6m0-6l-6 6M615 1158l6 6m0-6l-6 6M616 1207l6 6m0-6l-6 6M616 1145l6 6m0-6l-6 6M616 1300l6 6m0-6l-6 6M616 1073l6 6m0-6l-6 6M617 1178l6 6m0-6l-6 6M617 1121l6 6m0-6l-6 6M617 1251l6 6m0-6l-6 6M619 1201l6 6m0-6l-6 6M620 1227l6 6m0-6l-6 6M622 1073l6 6m0-6l-6 6M624 1144l6 6m0-6l-6 6M624 1102l6 6m0-6l-6 6M625 1241l6 6m0-6l-6 6M625 1143l6 6m0-6l-6 6M625 1215l6 6m0-6l-6 6M626 1232l6 6m0-6l-6 6M626 1234l6 6m0-6l-6 6M626 1144l6 6m0-6l-6 6M627 1159l6 6m0-6l-6 6M627 1114l6 6m0-6l-6 6M627 1213l6 6m0-6l-6 6M627 1164l6 6m0-6l-6 6M627 1164l6 6m0-6l-6 6M628 1180l6 6m0-6l-6 6M628 1136l6 6m0-6l-6 6M628 1191l6 6m0-6l-6 6M628 1208l6 6m0-6l-6 6M630 1207l6 6m0-6l-6 6M630 1144l6 6m0-6l-6 6M630 1075l6 6m0-6l-6 6M630 1169l6 6m0-6l-6 6M630 1209l6 6m0-6l-6 6M630 1204l6 6m0-6l-6 6M630 1183l6 6m0-6l-6 6M630 1162l6 6m0-6l-6 6M630 1207l6 6m0-6l-6 6M631 1142l6 6m0-6l-6 6M633 1188l6 6m0-6l-6 6M633 1161l6 6m0-6l-6 6M634 1198l6 6m0-6l-6 6M634 1245l6 6m0-6l-6 6M634 1126l6 6m0-6l-6 6M634 1204l6 6m0-6l-6 6M635 1191l6 6m0-6l-6 6M635 1255l6 6m0-6l-6 6M635 1255l6 6m0-6l-6 6M635 1207l6 6m0-6l-6 6M636 1170l6 6m0-6l-6 6M638 1235l6 6m0-6l-6 6M639 1317l6 6m0-6l-6 6M639 1257l6 6m0-6l-6 6M639 1196l6 6m0-6l-6 6M639 1157l6 6m0-6l-6 6M639 1154l6 6m0-6l-6 6M639 1155l6 6m0-6l-6 6M639 1210l6 6m0-6l-6 6M640 1136l6 6m0-6l-6 6M640 1268l6 6m0-6l-6 6M640 1205l6 6m0-6l-6 6M640 1196l6 6m0-6l-6 6M640 1269l6 6m0-6l-6 6M640 1191l6 6m0-6l-6 6M640 1146l6 6m0-6l-6 6M640 1186l6 6m0-6l-6 6M642 1146l6 6m0-6l-6 6M643 1194l6 6m0-6l-6 6M644 1161l6 6m0-6l-6 6M645 1127l6 6m0-6l-6 6M646 1290l6 6m0-6l-6 6M646 1135l6 6m0-6l-6 6M646 1194l6 6m0-6l-6 6M646 1178l6 6m0-6l-6 6M646 1285l6 6m0-6l-6 6M647 1261l6 6m0-6l-6 6M647 1167l6 6m0-6l-6 6M647 1214l6 6m0-6l-6 6M647 1123l6 6m0-6l-6 6M647 1207l6 6m0-6l-6 6M647 1145l6 6m0-6l-6 6M647 1123l6 6m0-6l-6 6M647 1203l6 6m0-6l-6 6M648 1211l6 6m0-6l-6 6M649 1192l6 6m0-6l-6 6M649 1222l6 6m0-6l-6 6M649 1245l6 6m0-6l-6 6M650 1161l6 6m0-6l-6 6M650 1224l6 6m0-6l-6 6M650 1228l6 6m0-6l-6 6M651 1189l6 6m0-6l-6 6M651 1146l6 6m0-6l-6 6M651 1253l6 6m0-6l-6 6M652 1202l6 6m0-6l-6 6M652 1218l6 6m0-6l-6 6M654 1207l6 6m0-6l-6 6M654 1185l6 6m0-6l-6 6M655 1172l6 6m0-6l-6 6M655 1110l6 6m0-6l-6 6M655 1254l6 6m0-6l-6 6M655 1169l6 6m0-6l-6 6M655 1221l6 6m0-6l-6 6M655 1172l6 6m0-6l-6 6M656 1191l6 6m0-6l-6 6M656 1269l6 6m0-6l-6 6M656 1178l6 6m0-6l-6 6M656 1215l6 6m0-6l-6 6M656 1161l6 6m0-6l-6 6M656 1180l6 6m0-6l-6 6M659 1154l6 6m0-6l-6 6M659 1275l6 6m0-6l-6 6M659 1224l6 6m0-6l-6 6M660 1208l6 6m0-6l-6 6M660 1248l6 6m0-6l-6 6M660 1195l6 6m0-6l-6 6M661 1226l6 6m0-6l-6 6M661 1138l6 6m0-6l-6 6M661 1318l6 6m0-6l-6 6M662 1209l6 6m0-6l-6 6M662 1215l6 6m0-6l-6 6M662 1218l6 6m0-6l-6 6M662 1098l6 6m0-6l-6 6M662 1156l6 6m0-6l-6 6M662 1209l6 6m0-6l-6 6M663 1189l6 6m0-6l-6 6M663 1198l6 6m0-6l-6 6M667 1139l6 6m0-6l-6 6M668 1202l6 6m0-6l-6 6M669 1157l6 6m0-6l-6 6M670 1173l6 6m0-6l-6 6M671 1201l6 6m0-6l-6 6M671 1183l6 6m0-6l-6 6M671 1279l6 6m0-6l-6 6M672 1238l6 6m0-6l-6 6M672 1159l6 6m0-6l-6 6M672 1134l6 6m0-6l-6 6M673 1212l6 6m0-6l-6 6M673 1186l6 6m0-6l-6 6M673 1307l6 6m0-6l-6 6M673 1160l6 6m0-6l-6 6M674 1190l6 6m0-6l-6 6M674 1108l6 6m0-6l-6 6M674 1070l6 6m0-6l-6 6M673 1152l6 6m0-6l-6 6M673 1156l6 6m0-6l-6 6M674 1189l6 6m0-6l-6 6M674 1163l6 6m0-6l-6 6M674 1106l6 6m0-6l-6 6M674 1231l6 6m0-6l-6 6M674 1147l6 6m0-6l-6 6M675 1120l6 6m0-6l-6 6M675 1310l6 6m0-6l-6 6M675 1308l6 6m0-6l-6 6M675 1176l6 6m0-6l-6 6M676 1206l6 6m0-6l-6 6M676 1206l6 6m0-6l-6 6M676 1187l6 6m0-6l-6 6M676 1177l6 6m0-6l-6 6M677 1199l6 6m0-6l-6 6M677 1238l6 6m0-6l-6 6M677 1197l6 6m0-6l-6 6M677 1218l6 6m0-6l-6 6M678 1121l6 6m0-6l-6 6M678 1216l6 6m0-6l-6 6M678 1195l6 6m0-6l-6 6M678 1167l6 6m0-6l-6 6M679 1205l6 6m0-6l-6 6M679 1166l6 6m0-6l-6 6M679 1215l6 6m0-6l-6 6M679 1157l6 6m0-6l-6 6M679 1148l6 6m0-6l-6 6M679 1104l6 6m0-6l-6 6M679 1177l6 6m0-6l-6 6M679 1187l6 6m0-6l-6 6M680 1282l6 6m0-6l-6 6M680 1218l6 6m0-6l-6 6M680 1146l6 6m0-6l-6 6M680 1167l6 6m0-6l-6 6M680 1163l6 6m0-6l-6 6M680 1166l6 6m0-6l-6 6M680 1266l6 6m0-6l-6 6M681 1156l6 6m0-6l-6 6M681 1178l6 6m0-6l-6 6M682 1197l6 6m0-6l-6 6M682 1173l6 6m0-6l-6 6M682 1201l6 6m0-6l-6 6M683 1191l6 6m0-6l-6 6M683 1253l6 6m0-6l-6 6M683 1240l6 6m0-6l-6 6M683 1239l6 6m0-6l-6 6M683 1173l6 6m0-6l-6 6M683 1238l6 6m0-6l-6 6M687 1230l6 6m0-6l-6 6M687 1148l6 6m0-6l-6 6M688 1226l6 6m0-6l-6 6M688 1177l6 6m0-6l-6 6M688 1236l6 6m0-6l-6 6M688 1058l6 6m0-6l-6 6M688 1183l6 6m0-6l-6 6M689 1207l6 6m0-6l-6 6M691 1165l6 6m0-6l-6 6M692 1164l6 6m0-6l-6 6M692 1174l6 6m0-6l-6 6M693 1170l6 6m0-6l-6 6M693 1187l6 6m0-6l-6 6M694 1259l6 6m0-6l-6 6M695 1182l6 6m0-6l-6 6M695 1272l6 6m0-6l-6 6M695 1211l6 6m0-6l-6 6M695 1235l6 6m0-6l-6 6M696 1112l6 6m0-6l-6 6M696 1132l6 6m0-6l-6 6M696 1315l6 6m0-6l-6 6M696 1153l6 6m0-6l-6 6M697 1218l6 6m0-6l-6 6M697 1187l6 6m0-6l-6 6M697 1167l6 6m0-6l-6 6M697 1257l6 6m0-6l-6 6M697 1168l6 6m0-6l-6 6M698 1212l6 6m0-6l-6 6M698 1139l6 6m0-6l-6 6M698 1148l6 6m0-6l-6 6M698 1254l6 6m0-6l-6 6M698 1190l6 6m0-6l-6 6M698 1134l6 6m0-6l-6 6M699 1185l6 6m0-6l-6 6M699 1142l6 6m0-6l-6 6M699 1248l6 6m0-6l-6 6M699 1193l6 6m0-6l-6 6M700 1225l6 6m0-6l-6 6M700 1207l6 6m0-6l-6 6M700 1144l6 6m0-6l-6 6M700 1149l6 6m0-6l-6 6M701 1162l6 6m0-6l-6 6M702 1249l6 6m0-6l-6 6M702 1154l6 6m0-6l-6 6M703 1225l6 6m0-6l-6 6M703 1181l6 6m0-6l-6 6M703 1290l6 6m0-6l-6 6M704 1145l6 6m0-6l-6 6M704 1170l6 6m0-6l-6 6M706 1165l6 6m0-6l-6 6M706 1132l6 6m0-6l-6 6M706 1237l6 6m0-6l-6 6M706 1225l6 6m0-6l-6 6M706 1144l6 6m0-6l-6 6M706 1191l6 6m0-6l-6 6M706 1109l6 6m0-6l-6 6M706 1237l6 6m0-6l-6 6M706 1206l6 6m0-6l-6 6M706 1206l6 6m0-6l-6 6M706 1231l6 6m0-6l-6 6M706 1101l6 6m0-6l-6 6M707 1143l6 6m0-6l-6 6M707 1211l6 6m0-6l-6 6M707 1193l6 6m0-6l-6 6M710 1270l6 6m0-6l-6 6M710 1138l6 6m0-6l-6 6M710 1129l6 6m0-6l-6 6M710 1280l6 6m0-6l-6 6M711 1176l6 6m0-6l-6 6M711 1101l6 6m0-6l-6 6M711 1227l6 6m0-6l-6 6M711 1202l6 6m0-6l-6 6M711 1258l6 6m0-6l-6 6M715 1252l6 6m0-6l-6 6M715 1127l6 6m0-6l-6 6M715 1210l6 6m0-6l-6 6M715 1154l6 6m0-6l-6 6M716 1231l6 6m0-6l-6 6M716 1236l6 6m0-6l-6 6M716 1286l6 6m0-6l-6 6M716 1188l6 6m0-6l-6 6M719 1166l6 6m0-6l-6 6M719 1198l6 6m0-6l-6 6M719 1225l6 6m0-6l-6 6M719 1073l6 6m0-6l-6 6M720 1100l6 6m0-6l-6 6M720 1082l6 6m0-6l-6 6M720 1178l6 6m0-6l-6 6M720 1204l6 6m0-6l-6 6M721 1101l6 6m0-6l-6 6M723 1221l6 6m0-6l-6 6M723 1048l6 6m0-6l-6 6M724 1213l6 6m0-6l-6 6M724 1236l6 6m0-6l-6 6M725 1173l6 6m0-6l-6 6M726 1240l6 6m0-6l-6 6M726 1137l6 6m0-6l-6 6M727 1161l6 6m0-6l-6 6M727 1196l6 6m0-6l-6 6M727 1183l6 6m0-6l-6 6M727 1071l6 6m0-6l-6 6M727 1185l6 6m0-6l-6 6M728 1185l6 6m0-6l-6 6M728 1183l6 6m0-6l-6 6M729 1192l6 6m0-6l-6 6M730 1160l6 6m0-6l-6 6M731 1181l6 6m0-6l-6 6M731 1209l6 6m0-6l-6 6M732 1211l6 6m0-6l-6 6M733 1181l6 6m0-6l-6 6M733 1279l6 6m0-6l-6 6M733 1159l6 6m0-6l-6 6M733 1109l6 6m0-6l-6 6M733 1258l6 6m0-6l-6 6M734 1258l6 6m0-6l-6 6M734 1240l6 6m0-6l-6 6M734 1182l6 6m0-6l-6 6M734 1162l6 6m0-6l-6 6M735 1165l6 6m0-6l-6 6M735 1278l6 6m0-6l-6 6M735 1186l6 6m0-6l-6 6M735 1248l6 6m0-6l-6 6M736 1216l6 6m0-6l-6 6M736 1282l6 6m0-6l-6 6M736 1114l6 6m0-6l-6 6M737 1138l6 6m0-6l-6 6M737 1159l6 6m0-6l-6 6M737 1205l6 6m0-6l-6 6M737 1157l6 6m0-6l-6 6M737 1088l6 6m0-6l-6 6M737 1162l6 6m0-6l-6 6M741 1138l6 6m0-6l-6 6M741 1142l6 6m0-6l-6 6M741 1197l6 6m0-6l-6 6M742 1155l6 6m0-6l-6 6M742 1183l6 6m0-6l-6 6M742 1238l6 6m0-6l-6 6M742 1229l6 6m0-6l-6 6M742 1121l6 6m0-6l-6 6M742 1209l6 6m0-6l-6 6M742 1203l6 6m0-6l-6 6M742 1155l6 6m0-6l-6 6M742 1201l6 6m0-6l-6 6M742 1120l6 6m0-6l-6 6M744 1196l6 6m0-6l-6 6M744 1152l6 6m0-6l-6 6M745 1209l6 6m0-6l-6 6M745 1244l6 6m0-6l-6 6M746 1257l6 6m0-6l-6 6M746 1185l6 6m0-6l-6 6M746 1172l6 6m0-6l-6 6M747 1206l6 6m0-6l-6 6M747 1194l6 6m0-6l-6 6M747 1186l6 6m0-6l-6 6M747 1293l6 6m0-6l-6 6M748 1188l6 6m0-6l-6 6M748 1219l6 6m0-6l-6 6M748 1162l6 6m0-6l-6 6M748 1185l6 6m0-6l-6 6M749 1176l6 6m0-6l-6 6M749 1226l6 6m0-6l-6 6M749 1215l6 6m0-6l-6 6M749 1195l6 6m0-6l-6 6M749 1222l6 6m0-6l-6 6M750 1179l6 6m0-6l-6 6M750 1112l6 6m0-6l-6 6M750 1275l6 6m0-6l-6 6M753 1221l6 6m0-6l-6 6M753 1152l6 6m0-6l-6 6M754 1130l6 6m0-6l-6 6M754 1138l6 6m0-6l-6 6M754 1114l6 6m0-6l-6 6M754 1171l6 6m0-6l-6 6M754 1169l6 6m0-6l-6 6M754 1147l6 6m0-6l-6 6M755 1168l6 6m0-6l-6 6M755 1140l6 6m0-6l-6 6M755 1225l6 6m0-6l-6 6M755 1134l6 6m0-6l-6 6M755 1103l6 6m0-6l-6 6M756 1134l6 6m0-6l-6 6M756 1173l6 6m0-6l-6 6M756 1136l6 6m0-6l-6 6M756 1217l6 6m0-6l-6 6M756 1129l6 6m0-6l-6 6M757 1184l6 6m0-6l-6 6M757 1141l6 6m0-6l-6 6M757 1145l6 6m0-6l-6 6M758 1244l6 6m0-6l-6 6M758 1252l6 6m0-6l-6 6M758 1143l6 6m0-6l-6 6M759 1125l6 6m0-6l-6 6M759 1254l6 6m0-6l-6 6M761 1243l6 6m0-6l-6 6M761 1150l6 6m0-6l-6 6M761 1117l6 6m0-6l-6 6M762 1140l6 6m0-6l-6 6M762 1289l6 6m0-6l-6 6M762 1168l6 6m0-6l-6 6M763 1144l6 6m0-6l-6 6M763 1293l6 6m0-6l-6 6M763 1106l6 6m0-6l-6 6M763 1133l6 6m0-6l-6 6M764 1237l6 6m0-6l-6 6M764 1250l6 6m0-6l-6 6M764 1191l6 6m0-6l-6 6M765 1202l6 6m0-6l-6 6M765 1243l6 6m0-6l-6 6M765 1191l6 6m0-6l-6 6M765 1188l6 6m0-6l-6 6M766 1103l6 6m0-6l-6 6M766 1177l6 6m0-6l-6 6M766 1183l6 6m0-6l-6 6M767 1193l6 6m0-6l-6 6M768 1095l6 6m0-6l-6 6M768 1213l6 6m0-6l-6 6M768 1211l6 6m0-6l-6 6M769 1189l6 6m0-6l-6 6M769 1163l6 6m0-6l-6 6M769 1172l6 6m0-6l-6 6M770 1267l6 6m0-6l-6 6M770 1109l6 6m0-6l-6 6M770 1221l6 6m0-6l-6 6M771 1193l6 6m0-6l-6 6M772 1100l6 6m0-6l-6 6M773 1231l6 6m0-6l-6 6M776 1222l6 6m0-6l-6 6M776 1173l6 6m0-6l-6 6M776 1246l6 6m0-6l-6 6M776 1245l6 6m0-6l-6 6M776 1120l6 6m0-6l-6 6M776 1124l6 6m0-6l-6 6M777 1148l6 6m0-6l-6 6M777 1066l6 6m0-6l-6 6M777 1248l6 6m0-6l-6 6M777 1183l6 6m0-6l-6 6M777 1171l6 6m0-6l-6 6M777 1206l6 6m0-6l-6 6M777 1198l6 6m0-6l-6 6M778 1034l6 6m0-6l-6 6M778 1126l6 6m0-6l-6 6M779 1220l6 6m0-6l-6 6M779 1122l6 6m0-6l-6 6M779 1160l6 6m0-6l-6 6M780 1077l6 6m0-6l-6 6M782 1143l6 6m0-6l-6 6M783 1146l6 6m0-6l-6 6M783 1231l6 6m0-6l-6 6M784 1249l6 6m0-6l-6 6M784 1226l6 6m0-6l-6 6M785 1235l6 6m0-6l-6 6M785 1181l6 6m0-6l-6 6M785 1229l6 6m0-6l-6 6M785 1233l6 6m0-6l-6 6M785 1165l6 6m0-6l-6 6M786 1140l6 6m0-6l-6 6M786 1158l6 6m0-6l-6 6M787 1158l6 6m0-6l-6 6M787 1090l6 6m0-6l-6 6M790 1112l6 6m0-6l-6 6M790 1180l6 6m0-6l-6 6M790 1080l6 6m0-6l-6 6M791 1178l6 6m0-6l-6 6M791 1156l6 6m0-6l-6 6M791 1214l6 6m0-6l-6 6M792 1236l6 6m0-6l-6 6M792 1185l6 6m0-6l-6 6M792 1165l6 6m0-6l-6 6M792 1062l6 6m0-6l-6 6M793 1128l6 6m0-6l-6 6M793 1128l6 6m0-6l-6 6M793 1079l6 6m0-6l-6 6M794 1168l6 6m0-6l-6 6M795 1208l6 6m0-6l-6 6M795 1199l6 6m0-6l-6 6M795 1145l6 6m0-6l-6 6M796 1113l6 6m0-6l-6 6M796 1110l6 6m0-6l-6 6M797 1102l6 6m0-6l-6 6M797 1130l6 6m0-6l-6 6M797 1233l6 6m0-6l-6 6M798 1099l6 6m0-6l-6 6M798 1248l6 6m0-6l-6 6M798 1196l6 6m0-6l-6 6M799 1206l6 6m0-6l-6 6M799 1097l6 6m0-6l-6 6M799 1080l6 6m0-6l-6 6M799 1094l6 6m0-6l-6 6M800 1076l6 6m0-6l-6 6M800 1147l6 6m0-6l-6 6M800 1126l6 6m0-6l-6 6M801 1174l6 6m0-6l-6 6M801 1162l6 6m0-6l-6 6M801 1186l6 6m0-6l-6 6M801 1195l6 6m0-6l-6 6M802 1194l6 6m0-6l-6 6M802 1263l6 6m0-6l-6 6M802 1238l6 6m0-6l-6 6M802 1183l6 6m0-6l-6 6M802 1254l6 6m0-6l-6 6M802 1118l6 6m0-6l-6 6M803 1140l6 6m0-6l-6 6M803 1161l6 6m0-6l-6 6M803 1145l6 6m0-6l-6 6M803 1216l6 6m0-6l-6 6M803 1165l6 6m0-6l-6 6M803 1132l6 6m0-6l-6 6M804 1242l6 6m0-6l-6 6M804 1153l6 6m0-6l-6 6M804 1114l6 6m0-6l-6 6M804 1205l6 6m0-6l-6 6M804 1139l6 6m0-6l-6 6M804 1163l6 6m0-6l-6 6M805 1160l6 6m0-6l-6 6M805 1146l6 6m0-6l-6 6M805 1130l6 6m0-6l-6 6M805 1142l6 6m0-6l-6 6M805 1253l6 6m0-6l-6 6M805 1194l6 6m0-6l-6 6M805 1182l6 6m0-6l-6 6M806 1191l6 6m0-6l-6 6M806 1118l6 6m0-6l-6 6M806 1139l6 6m0-6l-6 6M806 1191l6 6m0-6l-6 6M806 1205l6 6m0-6l-6 6M806 1205l6 6m0-6l-6 6M806 1223l6 6m0-6l-6 6M806 1127l6 6m0-6l-6 6M806 1146l6 6m0-6l-6 6M809 1121l6 6m0-6l-6 6M809 1191l6 6m0-6l-6 6M809 1174l6 6m0-6l-6 6M809 1073l6 6m0-6l-6 6M810 1141l6 6m0-6l-6 6M810 1149l6 6m0-6l-6 6M810 1212l6 6m0-6l-6 6M811 1198l6 6m0-6l-6 6M811 1195l6 6m0-6l-6 6M813 1171l6 6m0-6l-6 6M813 1169l6 6m0-6l-6 6M814 1189l6 6m0-6l-6 6M814 1128l6 6m0-6l-6 6M814 1155l6 6m0-6l-6 6M815 1150l6 6m0-6l-6 6M815 1182l6 6m0-6l-6 6M815 1110l6 6m0-6l-6 6M816 1127l6 6m0-6l-6 6M815 1186l6 6m0-6l-6 6M819 1155l6 6m0-6l-6 6M819 1194l6 6m0-6l-6 6M820 1113l6 6m0-6l-6 6M820 1201l6 6m0-6l-6 6M820 1225l6 6m0-6l-6 6M820 1139l6 6m0-6l-6 6M821 1095l6 6m0-6l-6 6M821 1203l6 6m0-6l-6 6M821 1161l6 6m0-6l-6 6M822 1111l6 6m0-6l-6 6M822 1227l6 6m0-6l-6 6M822 1257l6 6m0-6l-6 6M823 1257l6 6m0-6l-6 6M824 1222l6 6m0-6l-6 6M824 1213l6 6m0-6l-6 6M824 1242l6 6m0-6l-6 6M824 1216l6 6m0-6l-6 6M824 1186l6 6m0-6l-6 6M824 1152l6 6m0-6l-6 6M824 1130l6 6m0-6l-6 6M824 1187l6 6m0-6l-6 6M824 1168l6 6m0-6l-6 6M827 1163l6 6m0-6l-6 6M827 1268l6 6m0-6l-6 6M827 1223l6 6m0-6l-6 6M827 1201l6 6m0-6l-6 6M828 1151l6 6m0-6l-6 6M828 1238l6 6m0-6l-6 6M828 1232l6 6m0-6l-6 6M828 1174l6 6m0-6l-6 6M828 1237l6 6m0-6l-6 6M829 1133l6 6m0-6l-6 6M829 1263l6 6m0-6l-6 6M829 1130l6 6m0-6l-6 6M830 1121l6 6m0-6l-6 6M830 1193l6 6m0-6l-6 6M830 1115l6 6m0-6l-6 6M830 1173l6 6m0-6l-6 6M831 1160l6 6m0-6l-6 6M832 1220l6 6m0-6l-6 6M832 1240l6 6m0-6l-6 6M832 1128l6 6m0-6l-6 6M832 1283l6 6m0-6l-6 6M832 1167l6 6m0-6l-6 6M832 1197l6 6m0-6l-6 6M832 1178l6 6m0-6l-6 6M832 1178l6 6m0-6l-6 6M832 1232l6 6m0-6l-6 6M832 1180l6 6m0-6l-6 6M832 1169l6 6m0-6l-6 6M833 1128l6 6m0-6l-6 6M833 1265l6 6m0-6l-6 6M833 1221l6 6m0-6l-6 6M833 1082l6 6m0-6l-6 6M833 1131l6 6m0-6l-6 6M835 1147l6 6m0-6l-6 6M839 1221l6 6m0-6l-6 6M840 1146l6 6m0-6l-6 6M841 1102l6 6m0-6l-6 6M842 1238l6 6m0-6l-6 6M843 1113l6 6m0-6l-6 6M843 1175l6 6m0-6l-6 6M844 1088l6 6m0-6l-6 6M844 1167l6 6m0-6l-6 6M844 1180l6 6m0-6l-6 6M845 1238l6 6m0-6l-6 6M845 1089l6 6m0-6l-6 6M845 1107l6 6m0-6l-6 6M846 1231l6 6m0-6l-6 6M846 1288l6 6m0-6l-6 6M845 1192l6 6m0-6l-6 6M846 1141l6 6m0-6l-6 6M847 1231l6 6m0-6l-6 6M850 1169l6 6m0-6l-6 6M850 1191l6 6m0-6l-6 6M850 1308l6 6m0-6l-6 6M851 1180l6 6m0-6l-6 6M851 1175l6 6m0-6l-6 6M851 1181l6 6m0-6l-6 6M852 1104l6 6m0-6l-6 6M852 1214l6 6m0-6l-6 6M852 1147l6 6m0-6l-6 6M853 1181l6 6m0-6l-6 6M853 1192l6 6m0-6l-6 6M854 1166l6 6m0-6l-6 6M854 1146l6 6m0-6l-6 6M855 1166l6 6m0-6l-6 6M855 1152l6 6m0-6l-6 6M855 1189l6 6m0-6l-6 6M856 1176l6 6m0-6l-6 6M856 1073l6 6m0-6l-6 6M856 1179l6 6m0-6l-6 6M857 1164l6 6m0-6l-6 6M859 1243l6 6m0-6l-6 6M859 1215l6 6m0-6l-6 6M860 1176l6 6m0-6l-6 6M860 1214l6 6m0-6l-6 6M860 1242l6 6m0-6l-6 6M860 1300l6 6m0-6l-6 6M860 1156l6 6m0-6l-6 6M861 1157l6 6m0-6l-6 6M861 1265l6 6m0-6l-6 6M861 1098l6 6m0-6l-6 6M861 1171l6 6m0-6l-6 6M861 1211l6 6m0-6l-6 6M861 1258l6 6m0-6l-6 6M864 1169l6 6m0-6l-6 6M864 1212l6 6m0-6l-6 6M865 1218l6 6m0-6l-6 6M865 1215l6 6m0-6l-6 6M865 1185l6 6m0-6l-6 6M865 1219l6 6m0-6l-6 6M865 1183l6 6m0-6l-6 6M866 1135l6 6m0-6l-6 6M866 1257l6 6m0-6l-6 6M866 1282l6 6m0-6l-6 6M866 1290l6 6m0-6l-6 6M868 1139l6 6m0-6l-6 6M868 1137l6 6m0-6l-6 6M868 1189l6 6m0-6l-6 6M868 1226l6 6m0-6l-6 6M868 1225l6 6m0-6l-6 6M869 1178l6 6m0-6l-6 6M869 1179l6 6m0-6l-6 6M869 1227l6 6m0-6l-6 6M869 1138l6 6m0-6l-6 6M869 1208l6 6m0-6l-6 6M869 1222l6 6m0-6l-6 6M870 1223l6 6m0-6l-6 6M870 1137l6 6m0-6l-6 6M870 1198l6 6m0-6l-6 6M870 1213l6 6m0-6l-6 6M870 1140l6 6m0-6l-6 6M871 1200l6 6m0-6l-6 6M871 1205l6 6m0-6l-6 6M871 1179l6 6m0-6l-6 6M871 1189l6 6m0-6l-6 6M872 1093l6 6m0-6l-6 6M872 1239l6 6m0-6l-6 6M872 1157l6 6m0-6l-6 6M872 1119l6 6m0-6l-6 6M872 1089l6 6m0-6l-6 6M872 1196l6 6m0-6l-6 6M872 1179l6 6m0-6l-6 6M873 1205l6 6m0-6l-6 6M873 1139l6 6m0-6l-6 6M874 1086l6 6m0-6l-6 6M874 1140l6 6m0-6l-6 6M874 1124l6 6m0-6l-6 6M874 1166l6 6m0-6l-6 6M877 1100l6 6m0-6l-6 6M877 1196l6 6m0-6l-6 6M877 1112l6 6m0-6l-6 6M877 1133l6 6m0-6l-6 6M878 1186l6 6m0-6l-6 6M878 1100l6 6m0-6l-6 6M878 1176l6 6m0-6l-6 6M878 1217l6 6m0-6l-6 6M879 1132l6 6m0-6l-6 6M879 1186l6 6m0-6l-6 6M879 1148l6 6m0-6l-6 6M879 1117l6 6m0-6l-6 6M880 1172l6 6m0-6l-6 6M880 1062l6 6m0-6l-6 6M881 1116l6 6m0-6l-6 6M881 1175l6 6m0-6l-6 6M881 1195l6 6m0-6l-6 6M882 1161l6 6m0-6l-6 6M882 1202l6 6m0-6l-6 6M882 1174l6 6m0-6l-6 6M882 1076l6 6m0-6l-6 6M883 1194l6 6m0-6l-6 6M883 1119l6 6m0-6l-6 6M883 1180l6 6m0-6l-6 6M883 1125l6 6m0-6l-6 6M885 1200l6 6m0-6l-6 6M886 1128l6 6m0-6l-6 6M887 1245l6 6m0-6l-6 6M891 1132l6 6m0-6l-6 6M891 1177l6 6m0-6l-6 6M891 1207l6 6m0-6l-6 6M891 1166l6 6m0-6l-6 6M891 1138l6 6m0-6l-6 6M891 1191l6 6m0-6l-6 6M891 1150l6 6m0-6l-6 6M891 1127l6 6m0-6l-6 6M891 1035l6 6m0-6l-6 6M891 1091l6 6m0-6l-6 6M891 1212l6 6m0-6l-6 6M891 1197l6 6m0-6l-6 6M892 1175l6 6m0-6l-6 6M892 1103l6 6m0-6l-6 6M892 1144l6 6m0-6l-6 6M892 1179l6 6m0-6l-6 6M896 1267l6 6m0-6l-6 6M896 1170l6 6m0-6l-6 6M896 1232l6 6m0-6l-6 6M896 1145l6 6m0-6l-6 6M897 1225l6 6m0-6l-6 6M901 1192l6 6m0-6l-6 6M901 1183l6 6m0-6l-6 6M901 1141l6 6m0-6l-6 6M902 1219l6 6m0-6l-6 6M902 1137l6 6m0-6l-6 6M902 1180l6 6m0-6l-6 6M902 1253l6 6m0-6l-6 6M902 1327l6 6m0-6l-6 6M903 1067l6 6m0-6l-6 6M903 1111l6 6m0-6l-6 6M903 1081l6 6m0-6l-6 6M903 1188l6 6m0-6l-6 6M904 1209l6 6m0-6l-6 6M905 1133l6 6m0-6l-6 6M907 1167l6 6m0-6l-6 6M908 1189l6 6m0-6l-6 6M909 1246l6 6m0-6l-6 6M909 1185l6 6m0-6l-6 6M910 1213l6 6m0-6l-6 6M910 1052l6 6m0-6l-6 6M910 1264l6 6m0-6l-6 6M911 1163l6 6m0-6l-6 6M911 1088l6 6m0-6l-6 6M912 1329l6 6m0-6l-6 6M911 1120l6 6m0-6l-6 6M911 1196l6 6m0-6l-6 6M912 1159l6 6m0-6l-6 6M912 1102l6 6m0-6l-6 6M912 1177l6 6m0-6l-6 6M912 1144l6 6m0-6l-6 6M913 1185l6 6m0-6l-6 6M913 1129l6 6m0-6l-6 6M913 1174l6 6m0-6l-6 6M913 1040l6 6m0-6l-6 6M914 1076l6 6m0-6l-6 6M914 1198l6 6m0-6l-6 6M914 1168l6 6m0-6l-6 6M914 1105l6 6m0-6l-6 6M915 1099l6 6m0-6l-6 6M915 1104l6 6m0-6l-6 6M916 1179l6 6m0-6l-6 6M916 1196l6 6m0-6l-6 6M916 1179l6 6m0-6l-6 6M917 1140l6 6m0-6l-6 6M917 1197l6 6m0-6l-6 6M918 1182l6 6m0-6l-6 6M918 1110l6 6m0-6l-6 6M918 1126l6 6m0-6l-6 6M918 1248l6 6m0-6l-6 6M919 1186l6 6m0-6l-6 6M919 1133l6 6m0-6l-6 6M919 1140l6 6m0-6l-6 6M919 1128l6 6m0-6l-6 6M920 1161l6 6m0-6l-6 6M921 1160l6 6m0-6l-6 6M921 1078l6 6m0-6l-6 6M921 1181l6 6m0-6l-6 6M921 1227l6 6m0-6l-6 6M921 1212l6 6m0-6l-6 6M921 1150l6 6m0-6l-6 6M921 1186l6 6m0-6l-6 6M921 1173l6 6m0-6l-6 6M921 1137l6 6m0-6l-6 6M921 1202l6 6m0-6l-6 6M921 1139l6 6m0-6l-6 6M921 1139l6 6m0-6l-6 6M921 1139l6 6m0-6l-6 6M921 1184l6 6m0-6l-6 6M921 1245l6 6m0-6l-6 6M921 1209l6 6m0-6l-6 6M924 1228l6 6m0-6l-6 6M924 1077l6 6m0-6l-6 6M924 1199l6 6m0-6l-6 6M924 1112l6 6m0-6l-6 6M925 1086l6 6m0-6l-6 6M925 1308l6 6m0-6l-6 6M925 1091l6 6m0-6l-6 6M925 1187l6 6m0-6l-6 6M926 1147l6 6m0-6l-6 6M926 1234l6 6m0-6l-6 6M926 1207l6 6m0-6l-6 6M926 1178l6 6m0-6l-6 6M926 1192l6 6m0-6l-6 6M927 1151l6 6m0-6l-6 6M927 1176l6 6m0-6l-6 6M927 1184l6 6m0-6l-6 6M927 1212l6 6m0-6l-6 6M927 1211l6 6m0-6l-6 6M927 1155l6 6m0-6l-6 6M927 1099l6 6m0-6l-6 6M928 1154l6 6m0-6l-6 6M928 1202l6 6m0-6l-6 6M930 1177l6 6m0-6l-6 6M930 1158l6 6m0-6l-6 6M931 1112l6 6m0-6l-6 6M931 1183l6 6m0-6l-6 6M931 1221l6 6m0-6l-6 6M931 1199l6 6m0-6l-6 6M931 1174l6 6m0-6l-6 6M932 1186l6 6m0-6l-6 6M932 1076l6 6m0-6l-6 6M932 1198l6 6m0-6l-6 6M932 1215l6 6m0-6l-6 6M933 1285l6 6m0-6l-6 6M933 1132l6 6m0-6l-6 6M933 1140l6 6m0-6l-6 6M933 1181l6 6m0-6l-6 6M933 1126l6 6m0-6l-6 6M934 1090l6 6m0-6l-6 6M934 1201l6 6m0-6l-6 6M934 1132l6 6m0-6l-6 6M934 1154l6 6m0-6l-6 6M935 1092l6 6m0-6l-6 6M935 1121l6 6m0-6l-6 6M937 1088l6 6m0-6l-6 6M937 1187l6 6m0-6l-6 6M937 1114l6 6m0-6l-6 6M938 1121l6 6m0-6l-6 6M938 1178l6 6m0-6l-6 6M938 1191l6 6m0-6l-6 6M938 1120l6 6m0-6l-6 6M938 1113l6 6m0-6l-6 6M939 1087l6 6m0-6l-6 6M939 1191l6 6m0-6l-6 6M939 1170l6 6m0-6l-6 6M939 1100l6 6m0-6l-6 6M939 1191l6 6m0-6l-6 6M940 1175l6 6m0-6l-6 6M940 1186l6 6m0-6l-6 6M940 1246l6 6m0-6l-6 6M941 1188l6 6m0-6l-6 6M941 1245l6 6m0-6l-6 6M942 1071l6 6m0-6l-6 6M942 1120l6 6m0-6l-6 6M942 1176l6 6m0-6l-6 6M942 1114l6 6m0-6l-6 6M942 1197l6 6m0-6l-6 6M942 1190l6 6m0-6l-6 6M942 1174l6 6m0-6l-6 6M942 1153l6 6m0-6l-6 6M942 1115l6 6m0-6l-6 6M942 1155l6 6m0-6l-6 6M942 1146l6 6m0-6l-6 6M943 1114l6 6m0-6l-6 6M943 1068l6 6m0-6l-6 6M943 1196l6 6m0-6l-6 6M943 1096l6 6m0-6l-6 6M943 1198l6 6m0-6l-6 6M943 1082l6 6m0-6l-6 6M946 1146l6 6m0-6l-6 6M946 1109l6 6m0-6l-6 6M946 1205l6 6m0-6l-6 6M946 1185l6 6m0-6l-6 6M947 1146l6 6m0-6l-6 6M947 1120l6 6m0-6l-6 6M947 1147l6 6m0-6l-6 6M947 1226l6 6m0-6l-6 6M948 1133l6 6m0-6l-6 6M948 1157l6 6m0-6l-6 6M948 1144l6 6m0-6l-6 6M948 1068l6 6m0-6l-6 6M948 1114l6 6m0-6l-6 6M949 1213l6 6m0-6l-6 6M949 1212l6 6m0-6l-6 6M949 1128l6 6m0-6l-6 6M951 1120l6 6m0-6l-6 6M951 1201l6 6m0-6l-6 6M951 1183l6 6m0-6l-6 6M951 1078l6 6m0-6l-6 6M951 1193l6 6m0-6l-6 6M951 1092l6 6m0-6l-6 6M951 1055l6 6m0-6l-6 6M956 1238l6 6m0-6l-6 6M956 1212l6 6m0-6l-6 6M956 1173l6 6m0-6l-6 6M956 1144l6 6m0-6l-6 6M956 1086l6 6m0-6l-6 6M957 1325l6 6m0-6l-6 6M957 1228l6 6m0-6l-6 6M957 1178l6 6m0-6l-6 6M957 1202l6 6m0-6l-6 6M958 1167l6 6m0-6l-6 6M958 1144l6 6m0-6l-6 6M959 1225l6 6m0-6l-6 6M959 1137l6 6m0-6l-6 6M959 1160l6 6m0-6l-6 6M959 1237l6 6m0-6l-6 6M960 1181l6 6m0-6l-6 6M960 1158l6 6m0-6l-6 6M960 1116l6 6m0-6l-6 6M960 1132l6 6m0-6l-6 6M960 1122l6 6m0-6l-6 6M964 1281l6 6m0-6l-6 6M964 1177l6 6m0-6l-6 6M964 1183l6 6m0-6l-6 6M964 1162l6 6m0-6l-6 6M964 1214l6 6m0-6l-6 6M964 1169l6 6m0-6l-6 6M964 1160l6 6m0-6l-6 6M964 1114l6 6m0-6l-6 6M964 1159l6 6m0-6l-6 6M964 1107l6 6m0-6l-6 6M964 1116l6 6m0-6l-6 6M968 1218l6 6m0-6l-6 6M968 1137l6 6m0-6l-6 6M968 1229l6 6m0-6l-6 6M969 1166l6 6m0-6l-6 6M969 1259l6 6m0-6l-6 6M969 1203l6 6m0-6l-6 6M969 1165l6 6m0-6l-6 6M970 1174l6 6m0-6l-6 6M970 1148l6 6m0-6l-6 6M970 1115l6 6m0-6l-6 6M971 1156l6 6m0-6l-6 6M971 1196l6 6m0-6l-6 6M971 1106l6 6m0-6l-6 6M972 1198l6 6m0-6l-6 6M972 1191l6 6m0-6l-6 6M972 1139l6 6m0-6l-6 6M972 1168l6 6m0-6l-6 6M972 1091l6 6m0-6l-6 6M972 1129l6 6m0-6l-6 6M972 1201l6 6m0-6l-6 6M973 1142l6 6m0-6l-6 6M973 1145l6 6m0-6l-6 6M973 1179l6 6m0-6l-6 6M973 1244l6 6m0-6l-6 6M973 1163l6 6m0-6l-6 6M973 1166l6 6m0-6l-6 6M976 1218l6 6m0-6l-6 6M976 1186l6 6m0-6l-6 6M977 1309l6 6m0-6l-6 6M977 1239l6 6m0-6l-6 6M978 1156l6 6m0-6l-6 6M978 1210l6 6m0-6l-6 6M979 1269l6 6m0-6l-6 6M979 1216l6 6m0-6l-6 6M980 1181l6 6m0-6l-6 6M981 1129l6 6m0-6l-6 6M981 1255l6 6m0-6l-6 6M981 1158l6 6m0-6l-6 6M981 1112l6 6m0-6l-6 6M982 1227l6 6m0-6l-6 6M982 1156l6 6m0-6l-6 6M982 1128l6 6m0-6l-6 6M982 1215l6 6m0-6l-6 6M983 1083l6 6m0-6l-6 6M985 1152l6 6m0-6l-6 6M985 1186l6 6m0-6l-6 6M985 1218l6 6m0-6l-6 6M985 1128l6 6m0-6l-6 6M986 1206l6 6m0-6l-6 6M986 1204l6 6m0-6l-6 6M986 1277l6 6m0-6l-6 6M986 1137l6 6m0-6l-6 6M987 1256l6 6m0-6l-6 6M987 1161l6 6m0-6l-6 6M987 1289l6 6m0-6l-6 6M987 1155l6 6m0-6l-6 6M988 1219l6 6m0-6l-6 6M988 1121l6 6m0-6l-6 6M988 1279l6 6m0-6l-6 6M988 1143l6 6m0-6l-6 6M989 1152l6 6m0-6l-6 6M989 1144l6 6m0-6l-6 6M989 1170l6 6m0-6l-6 6M989 1178l6 6m0-6l-6 6M990 1164l6 6m0-6l-6 6M990 1272l6 6m0-6l-6 6M990 1170l6 6m0-6l-6 6M990 1120l6 6m0-6l-6 6M990 1270l6 6m0-6l-6 6M991 1249l6 6m0-6l-6 6M992 1275l6 6m0-6l-6 6M992 1166l6 6m0-6l-6 6M992 1180l6 6m0-6l-6 6M992 1211l6 6m0-6l-6 6M992 1242l6 6m0-6l-6 6M992 1271l6 6m0-6l-6 6M992 1154l6 6m0-6l-6 6M992 1163l6 6m0-6l-6 6M993 1210l6 6m0-6l-6 6M993 1112l6 6m0-6l-6 6M993 1147l6 6m0-6l-6 6M993 1199l6 6m0-6l-6 6M994 1291l6 6m0-6l-6 6M995 1205l6 6m0-6l-6 6M995 1270l6 6m0-6l-6 6M996 1092l6 6m0-6l-6 6M997 1179l6 6m0-6l-6 6M997 1028l6 6m0-6l-6 6M996 1161l6 6m0-6l-6 6M996 1152l6 6m0-6l-6 6M997 1188l6 6m0-6l-6 6M997 1240l6 6m0-6l-6 6M997 1230l6 6m0-6l-6 6M998 1225l6 6m0-6l-6 6M998 1206l6 6m0-6l-6 6M999 1156l6 6m0-6l-6 6M1000 1138l6 6m0-6l-6 6M1000 1153l6 6m0-6l-6 6M1000 1185l6 6m0-6l-6 6M1001 1053l6 6m0-6l-6 6M1001 1079l6 6m0-6l-6 6M1003 1269l6 6m0-6l-6 6M1003 1178l6 6m0-6l-6 6M1003 1199l6 6m0-6l-6 6M1004 1156l6 6m0-6l-6 6M1004 1212l6 6m0-6l-6 6M1004 1240l6 6m0-6l-6 6M1004 1235l6 6m0-6l-6 6M1004 1208l6 6m0-6l-6 6M1004 1225l6 6m0-6l-6 6M1004 1216l6 6m0-6l-6 6M1006 1075l6 6m0-6l-6 6M1006 1146l6 6m0-6l-6 6M1006 1174l6 6m0-6l-6 6M1006 1108l6 6m0-6l-6 6M1006 1113l6 6m0-6l-6 6M1007 1155l6 6m0-6l-6 6M1007 1121l6 6m0-6l-6 6M1007 1124l6 6m0-6l-6 6M1007 1193l6 6m0-6l-6 6M1007 1268l6 6m0-6l-6 6M1007 1230l6 6m0-6l-6 6M1008 1171l6 6m0-6l-6 6M1008 1184l6 6m0-6l-6 6M1008 1156l6 6m0-6l-6 6M1008 1193l6 6m0-6l-6 6M1008 1204l6 6m0-6l-6 6M1011 1195l6 6m0-6l-6 6M1011 1226l6 6m0-6l-6 6M1011 1193l6 6m0-6l-6 6M1011 1211l6 6m0-6l-6 6M1012 1288l6 6m0-6l-6 6M1012 1242l6 6m0-6l-6 6M1012 1246l6 6m0-6l-6 6M1012 1279l6 6m0-6l-6 6M1012 1233l6 6m0-6l-6 6M1012 1169l6 6m0-6l-6 6M1016 1104l6 6m0-6l-6 6M1016 1162l6 6m0-6l-6 6M1016 1171l6 6m0-6l-6 6M1017 1128l6 6m0-6l-6 6M1017 1173l6 6m0-6l-6 6M1017 1140l6 6m0-6l-6 6M1017 1226l6 6m0-6l-6 6M1017 1206l6 6m0-6l-6 6M1017 1147l6 6m0-6l-6 6M1018 1168l6 6m0-6l-6 6M1018 1124l6 6m0-6l-6 6M1018 1153l6 6m0-6l-6 6M1020 1147l6 6m0-6l-6 6M1022 1168l6 6m0-6l-6 6M1022 1197l6 6m0-6l-6 6M1022 1207l6 6m0-6l-6 6M1022 1181l6 6m0-6l-6 6M1023 1302l6 6m0-6l-6 6M1023 1262l6 6m0-6l-6 6M1023 1199l6 6m0-6l-6 6M1023 1204l6 6m0-6l-6 6M1023 1137l6 6m0-6l-6 6M1023 1150l6 6m0-6l-6 6M1023 1198l6 6m0-6l-6 6M1023 1300l6 6m0-6l-6 6M1023 1240l6 6m0-6l-6 6M1023 1205l6 6m0-6l-6 6M1023 1167l6 6m0-6l-6 6M1027 1188l6 6m0-6l-6 6M1028 1196l6 6m0-6l-6 6M1028 1066l6 6m0-6l-6 6M1028 1060l6 6m0-6l-6 6M1029 1148l6 6m0-6l-6 6M1029 1089l6 6m0-6l-6 6M1029 1202l6 6m0-6l-6 6M1030 1153l6 6m0-6l-6 6M1030 1158l6 6m0-6l-6 6M1030 1204l6 6m0-6l-6 6M1032 1228l6 6m0-6l-6 6M1033 1153l6 6m0-6l-6 6M1033 1175l6 6m0-6l-6 6M1033 1195l6 6m0-6l-6 6M1033 1170l6 6m0-6l-6 6M1034 1138l6 6m0-6l-6 6M1034 1026l6 6m0-6l-6 6M1034 1170l6 6m0-6l-6 6M1034 1177l6 6m0-6l-6 6M1035 1238l6 6m0-6l-6 6M1036 1225l6 6m0-6l-6 6M1037 1255l6 6m0-6l-6 6M1037 1152l6 6m0-6l-6 6M1037 1216l6 6m0-6l-6 6M1037 1198l6 6m0-6l-6 6M1037 1215l6 6m0-6l-6 6M1037 1147l6 6m0-6l-6 6M1037 1167l6 6m0-6l-6 6M1037 1151l6 6m0-6l-6 6M1037 1266l6 6m0-6l-6 6M1037 1200l6 6m0-6l-6 6M1037 1194l6 6m0-6l-6 6M1037 1167l6 6m0-6l-6 6M1037 1176l6 6m0-6l-6 6M1037 1124l6 6m0-6l-6 6M1040 1242l6 6m0-6l-6 6M1040 1209l6 6m0-6l-6 6M1040 1149l6 6m0-6l-6 6M1040 1158l6 6m0-6l-6 6M1040 1100l6 6m0-6l-6 6M1040 1198l6 6m0-6l-6 6M1040 1168l6 6m0-6l-6 6M1044 1293l6 6m0-6l-6 6M1045 1277l6 6m0-6l-6 6M1046 1141l6 6m0-6l-6 6M1047 1154l6 6m0-6l-6 6M1048 1242l6 6m0-6l-6 6M1049 1189l6 6m0-6l-6 6M1049 1204l6 6m0-6l-6 6M1049 1111l6 6m0-6l-6 6M1049 1162l6 6m0-6l-6 6M1049 1219l6 6m0-6l-6 6M1049 1147l6 6m0-6l-6 6M1050 1217l6 6m0-6l-6 6M1050 1177l6 6m0-6l-6 6M1050 1250l6 6m0-6l-6 6M1053 1180l6 6m0-6l-6 6M1053 1156l6 6m0-6l-6 6M1053 1168l6 6m0-6l-6 6M1053 1129l6 6m0-6l-6 6M1054 1156l6 6m0-6l-6 6M1054 1186l6 6m0-6l-6 6M1054 1210l6 6m0-6l-6 6M1054 1161l6 6m0-6l-6 6M1055 1191l6 6m0-6l-6 6M1055 1197l6 6m0-6l-6 6M1055 1164l6 6m0-6l-6 6M1055 1176l6 6m0-6l-6 6M1056 1109l6 6m0-6l-6 6M1056 1267l6 6m0-6l-6 6M1057 1234l6 6m0-6l-6 6M1057 1103l6 6m0-6l-6 6M1057 1083l6 6m0-6l-6 6M1058 1182l6 6m0-6l-6 6M1058 1221l6 6m0-6l-6 6M1058 1186l6 6m0-6l-6 6M1058 1189l6 6m0-6l-6 6M1059 1181l6 6m0-6l-6 6M1061 1272l6 6m0-6l-6 6M1062 1162l6 6m0-6l-6 6M1062 1070l6 6m0-6l-6 6M1063 1122l6 6m0-6l-6 6M1063 1123l6 6m0-6l-6 6M1064 1222l6 6m0-6l-6 6M1064 1246l6 6m0-6l-6 6M1065 1213l6 6m0-6l-6 6M1064 1258l6 6m0-6l-6 6M1065 1217l6 6m0-6l-6 6M1065 1127l6 6m0-6l-6 6M1065 1211l6 6m0-6l-6 6M1066 1165l6 6m0-6l-6 6M1066 1166l6 6m0-6l-6 6M1066 1115l6 6m0-6l-6 6M1066 1242l6 6m0-6l-6 6M1067 1241l6 6m0-6l-6 6M1067 1177l6 6m0-6l-6 6M1067 1090l6 6m0-6l-6 6M1067 1263l6 6m0-6l-6 6M1067 1265l6 6m0-6l-6 6M1067 1175l6 6m0-6l-6 6M1067 1100l6 6m0-6l-6 6M1067 1126l6 6m0-6l-6 6M1067 1265l6 6m0-6l-6 6M1070 1211l6 6m0-6l-6 6M1071 1207l6 6m0-6l-6 6M1072 1146l6 6m0-6l-6 6M1073 1136l6 6m0-6l-6 6M1075 1091l6 6m0-6l-6 6M1076 1184l6 6m0-6l-6 6M1076 1117l6 6m0-6l-6 6M1076 1213l6 6m0-6l-6 6M1076 1115l6 6m0-6l-6 6M1076 1275l6 6m0-6l-6 6M1077 1034l6 6m0-6l-6 6M1077 1191l6 6m0-6l-6 6M1078 1210l6 6m0-6l-6 6M1078 1159l6 6m0-6l-6 6M1079 1171l6 6m0-6l-6 6M1079 1191l6 6m0-6l-6 6M1079 1196l6 6m0-6l-6 6M1079 1176l6 6m0-6l-6 6M1079 1185l6 6m0-6l-6 6M1079 1080l6 6m0-6l-6 6M1079 1191l6 6m0-6l-6 6M1079 1206l6 6m0-6l-6 6M1079 1178l6 6m0-6l-6 6M1079 1143l6 6m0-6l-6 6M1082 1236l6 6m0-6l-6 6M1082 1195l6 6m0-6l-6 6M1082 1250l6 6m0-6l-6 6M1082 1183l6 6m0-6l-6 6M1082 1149l6 6m0-6l-6 6M1082 1200l6 6m0-6l-6 6M1083 1269l6 6m0-6l-6 6M1083 1129l6 6m0-6l-6 6M1083 1128l6 6m0-6l-6 6M1083 1184l6 6m0-6l-6 6M1083 1243l6 6m0-6l-6 6M1083 1186l6 6m0-6l-6 6M1083 1215l6 6m0-6l-6 6M1083 1151l6 6m0-6l-6 6M1085 1182l6 6m0-6l-6 6M1085 1178l6 6m0-6l-6 6M1085 1208l6 6m0-6l-6 6M1085 1160l6 6m0-6l-6 6M1085 1201l6 6m0-6l-6 6M1085 1161l6 6m0-6l-6 6M1086 1150l6 6m0-6l-6 6M1086 1141l6 6m0-6l-6 6M1086 1208l6 6m0-6l-6 6M1086 1181l6 6m0-6l-6 6M1086 1145l6 6m0-6l-6 6M1086 1141l6 6m0-6l-6 6M1086 1227l6 6m0-6l-6 6M1086 1180l6 6m0-6l-6 6M1086 1246l6 6m0-6l-6 6M1088 1217l6 6m0-6l-6 6M1089 1223l6 6m0-6l-6 6M1089 1095l6 6m0-6l-6 6M1089 1274l6 6m0-6l-6 6M1090 1166l6 6m0-6l-6 6M1090 1120l6 6m0-6l-6 6M1090 1269l6 6m0-6l-6 6M1090 1258l6 6m0-6l-6 6M1091 1092l6 6m0-6l-6 6M1093 1228l6 6m0-6l-6 6M1093 1164l6 6m0-6l-6 6M1094 1219l6 6m0-6l-6 6M1094 1212l6 6m0-6l-6 6M1094 1165l6 6m0-6l-6 6M1094 1226l6 6m0-6l-6 6M1095 1196l6 6m0-6l-6 6M1095 1203l6 6m0-6l-6 6M1098 1200l6 6m0-6l-6 6M1098 1211l6 6m0-6l-6 6M1098 1147l6 6m0-6l-6 6M1099 1211l6 6m0-6l-6 6M1099 1196l6 6m0-6l-6 6M1099 1123l6 6m0-6l-6 6M1099 1194l6 6m0-6l-6 6M1099 1157l6 6m0-6l-6 6M1099 1088l6 6m0-6l-6 6M1099 1074l6 6m0-6l-6 6M1099 1167l6 6m0-6l-6 6M1101 1052l6 6m0-6l-6 6M1102 1120l6 6m0-6l-6 6M1102 1238l6 6m0-6l-6 6M1102 1186l6 6m0-6l-6 6M1102 1228l6 6m0-6l-6 6M1102 1103l6 6m0-6l-6 6M1103 1217l6 6m0-6l-6 6M1103 1112l6 6m0-6l-6 6M1103 1111l6 6m0-6l-6 6M1103 1164l6 6m0-6l-6 6M1103 1177l6 6m0-6l-6 6M1103 1121l6 6m0-6l-6 6M1104 1248l6 6m0-6l-6 6M1104 1145l6 6m0-6l-6 6M1104 1240l6 6m0-6l-6 6M1104 1215l6 6m0-6l-6 6M1105 1249l6 6m0-6l-6 6M1106 1163l6 6m0-6l-6 6M1106 1176l6 6m0-6l-6 6M1106 1179l6 6m0-6l-6 6M1107 1255l6 6m0-6l-6 6M1107 1201l6 6m0-6l-6 6M1107 1202l6 6m0-6l-6 6M1108 1205l6 6m0-6l-6 6M1108 1189l6 6m0-6l-6 6M1108 1101l6 6m0-6l-6 6M1108 1068l6 6m0-6l-6 6M1108 1071l6 6m0-6l-6 6M1108 1176l6 6m0-6l-6 6M1108 1260l6 6m0-6l-6 6M1109 1274l6 6m0-6l-6 6M1109 1145l6 6m0-6l-6 6M1109 1184l6 6m0-6l-6 6M1109 1188l6 6m0-6l-6 6M1109 1224l6 6m0-6l-6 6M1111 1122l6 6m0-6l-6 6M1112 1070l6 6m0-6l-6 6M1112 1116l6 6m0-6l-6 6M1112 1191l6 6m0-6l-6 6M1112 1146l6 6m0-6l-6 6M1115 1111l6 6m0-6l-6 6M1116 1208l6 6m0-6l-6 6M1118 1217l6 6m0-6l-6 6M1119 1184l6 6m0-6l-6 6M1119 1236l6 6m0-6l-6 6M1119 1136l6 6m0-6l-6 6M1119 1235l6 6m0-6l-6 6M1119 1229l6 6m0-6l-6 6M1120 1146l6 6m0-6l-6 6M1120 1109l6 6m0-6l-6 6M1120 1203l6 6m0-6l-6 6M1120 1162l6 6m0-6l-6 6M1121 1137l6 6m0-6l-6 6M1121 1247l6 6m0-6l-6 6M1122 1173l6 6m0-6l-6 6M1122 1097l6 6m0-6l-6 6M1122 1186l6 6m0-6l-6 6M1123 1068l6 6m0-6l-6 6M1123 1165l6 6m0-6l-6 6M1123 1095l6 6m0-6l-6 6M1123 1051l6 6m0-6l-6 6M1124 1149l6 6m0-6l-6 6M1124 1141l6 6m0-6l-6 6M1124 1169l6 6m0-6l-6 6M1125 1178l6 6m0-6l-6 6M1125 1246l6 6m0-6l-6 6M1124 1186l6 6m0-6l-6 6M1126 1226l6 6m0-6l-6 6M1129 1157l6 6m0-6l-6 6M1129 1233l6 6m0-6l-6 6M1129 1200l6 6m0-6l-6 6M1130 1148l6 6m0-6l-6 6M1131 1216l6 6m0-6l-6 6M1131 1201l6 6m0-6l-6 6M1131 1163l6 6m0-6l-6 6M1132 1067l6 6m0-6l-6 6M1132 1231l6 6m0-6l-6 6M1132 1126l6 6m0-6l-6 6M1133 1125l6 6m0-6l-6 6M1134 1194l6 6m0-6l-6 6M1134 1200l6 6m0-6l-6 6M1134 1145l6 6m0-6l-6 6M1134 1239l6 6m0-6l-6 6M1134 1174l6 6m0-6l-6 6M1134 1286l6 6m0-6l-6 6M1134 1087l6 6m0-6l-6 6M1135 1197l6 6m0-6l-6 6M1135 1230l6 6m0-6l-6 6M1135 1107l6 6m0-6l-6 6M1139 1185l6 6m0-6l-6 6M1139 1160l6 6m0-6l-6 6M1139 1046l6 6m0-6l-6 6M1139 1230l6 6m0-6l-6 6M1140 1168l6 6m0-6l-6 6M1140 1167l6 6m0-6l-6 6M1140 1194l6 6m0-6l-6 6M1140 1038l6 6m0-6l-6 6M1141 1123l6 6m0-6l-6 6M1141 1176l6 6m0-6l-6 6M1141 1212l6 6m0-6l-6 6M1142 1183l6 6m0-6l-6 6M1142 1243l6 6m0-6l-6 6M1142 1168l6 6m0-6l-6 6M1143 1237l6 6m0-6l-6 6M1143 1239l6 6m0-6l-6 6M1143 1144l6 6m0-6l-6 6M1144 1199l6 6m0-6l-6 6M1145 1188l6 6m0-6l-6 6M1145 1212l6 6m0-6l-6 6M1145 1046l6 6m0-6l-6 6M1145 1224l6 6m0-6l-6 6M1146 1163l6 6m0-6l-6 6M1146 1151l6 6m0-6l-6 6M1146 1199l6 6m0-6l-6 6M1146 1237l6 6m0-6l-6 6M1146 1173l6 6m0-6l-6 6M1146 1260l6 6m0-6l-6 6M1148 1126l6 6m0-6l-6 6M1148 1119l6 6m0-6l-6 6M1149 1252l6 6m0-6l-6 6M1153 1282l6 6m0-6l-6 6M1154 1243l6 6m0-6l-6 6M1155 1199l6 6m0-6l-6 6M1158 1194l6 6m0-6l-6 6M1158 1242l6 6m0-6l-6 6M1158 1078l6 6m0-6l-6 6M1158 1223l6 6m0-6l-6 6M1159 1221l6 6m0-6l-6 6M1159 1133l6 6m0-6l-6 6M1159 1230l6 6m0-6l-6 6M1159 1268l6 6m0-6l-6 6M1159 1253l6 6m0-6l-6 6M1159 1246l6 6m0-6l-6 6M1159 1199l6 6m0-6l-6 6M1159 1167l6 6m0-6l-6 6M1159 1215l6 6m0-6l-6 6M1160 1131l6 6m0-6l-6 6M1160 1258l6 6m0-6l-6 6M1160 1202l6 6m0-6l-6 6M1162 1146l6 6m0-6l-6 6M1163 1083l6 6m0-6l-6 6M1163 1170l6 6m0-6l-6 6M1163 1107l6 6m0-6l-6 6M1164 1146l6 6m0-6l-6 6M1165 1268l6 6m0-6l-6 6M1166 1145l6 6m0-6l-6 6M1166 1049l6 6m0-6l-6 6M1167 1155l6 6m0-6l-6 6M1167 1160l6 6m0-6l-6 6M1167 1089l6 6m0-6l-6 6M1168 1128l6 6m0-6l-6 6M1168 1143l6 6m0-6l-6 6M1168 1061l6 6m0-6l-6 6M1169 1117l6 6m0-6l-6 6M1169 1151l6 6m0-6l-6 6M1170 1201l6 6m0-6l-6 6M1170 1236l6 6m0-6l-6 6M1170 1074l6 6m0-6l-6 6M1170 1198l6 6m0-6l-6 6M1170 1043l6 6m0-6l-6 6M1171 1201l6 6m0-6l-6 6M1171 1123l6 6m0-6l-6 6M1171 1179l6 6m0-6l-6 6M1172 1168l6 6m0-6l-6 6M1172 1117l6 6m0-6l-6 6M1172 1081l6 6m0-6l-6 6M1172 1164l6 6m0-6l-6 6M1173 1152l6 6m0-6l-6 6M1173 1292l6 6m0-6l-6 6M1173 1200l6 6m0-6l-6 6M1175 1154l6 6m0-6l-6 6M1175 1219l6 6m0-6l-6 6M1175 1222l6 6m0-6l-6 6M1175 1293l6 6m0-6l-6 6M1175 1109l6 6m0-6l-6 6M1175 1155l6 6m0-6l-6 6M1175 1174l6 6m0-6l-6 6M1175 1102l6 6m0-6l-6 6M1175 1157l6 6m0-6l-6 6M1175 1083l6 6m0-6l-6 6M1175 1188l6 6m0-6l-6 6M1178 1195l6 6m0-6l-6 6M1179 1290l6 6m0-6l-6 6M1179 1170l6 6m0-6l-6 6M1179 1151l6 6m0-6l-6 6M1179 1174l6 6m0-6l-6 6M1180 1169l6 6m0-6l-6 6M1180 1181l6 6m0-6l-6 6M1180 1238l6 6m0-6l-6 6M1180 1203l6 6m0-6l-6 6M1181 1134l6 6m0-6l-6 6M1181 1137l6 6m0-6l-6 6M1181 1190l6 6m0-6l-6 6M1182 1113l6 6m0-6l-6 6M1182 1093l6 6m0-6l-6 6M1183 1158l6 6m0-6l-6 6M1183 1225l6 6m0-6l-6 6M1184 1133l6 6m0-6l-6 6M1184 1165l6 6m0-6l-6 6M1185 1122l6 6m0-6l-6 6M1185 1174l6 6m0-6l-6 6M1186 1142l6 6m0-6l-6 6M1186 1119l6 6m0-6l-6 6M1186 1199l6 6m0-6l-6 6M1186 1124l6 6m0-6l-6 6M1186 1159l6 6m0-6l-6 6M1186 1142l6 6m0-6l-6 6M1187 1173l6 6m0-6l-6 6M1187 1132l6 6m0-6l-6 6M1187 1140l6 6m0-6l-6 6M1187 1236l6 6m0-6l-6 6M1188 1200l6 6m0-6l-6 6M1188 1131l6 6m0-6l-6 6M1188 1242l6 6m0-6l-6 6M1188 1185l6 6m0-6l-6 6M1188 1213l6 6m0-6l-6 6M1189 1124l6 6m0-6l-6 6M1189 1264l6 6m0-6l-6 6M1189 1175l6 6m0-6l-6 6M1189 1135l6 6m0-6l-6 6M1189 1204l6 6m0-6l-6 6M1193 1246l6 6m0-6l-6 6M1193 1152l6 6m0-6l-6 6M1193 1149l6 6m0-6l-6 6M1193 1292l6 6m0-6l-6 6M1194 1268l6 6m0-6l-6 6M1194 1253l6 6m0-6l-6 6M1194 1229l6 6m0-6l-6 6M1194 1172l6 6m0-6l-6 6M1194 1230l6 6m0-6l-6 6M1194 1184l6 6m0-6l-6 6M1195 1255l6 6m0-6l-6 6M1195 1280l6 6m0-6l-6 6M1195 1177l6 6m0-6l-6 6M1195 1236l6 6m0-6l-6 6M1195 1136l6 6m0-6l-6 6M1195 1211l6 6m0-6l-6 6M1196 1157l6 6m0-6l-6 6M1196 1151l6 6m0-6l-6 6M1198 1228l6 6m0-6l-6 6M1198 1217l6 6m0-6l-6 6M1198 1208l6 6m0-6l-6 6M1199 1143l6 6m0-6l-6 6M1199 1130l6 6m0-6l-6 6M1199 1162l6 6m0-6l-6 6M1199 1188l6 6m0-6l-6 6M1200 1113l6 6m0-6l-6 6M1200 1236l6 6m0-6l-6 6M1200 1254l6 6m0-6l-6 6M1200 1187l6 6m0-6l-6 6M1200 1166l6 6m0-6l-6 6M1200 1201l6 6m0-6l-6 6M1200 1137l6 6m0-6l-6 6M1201 1262l6 6m0-6l-6 6M1201 1149l6 6m0-6l-6 6M1201 1153l6 6m0-6l-6 6M1201 1156l6 6m0-6l-6 6M1201 1156l6 6m0-6l-6 6M1201 1150l6 6m0-6l-6 6M1201 1290l6 6m0-6l-6 6M1201 1165l6 6m0-6l-6 6M1201 1239l6 6m0-6l-6 6M1201 1139l6 6m0-6l-6 6M1201 1186l6 6m0-6l-6 6M1201 1103l6 6m0-6l-6 6M1203 1139l6 6m0-6l-6 6M1203 1185l6 6m0-6l-6 6M1203 1238l6 6m0-6l-6 6M1203 1126l6 6m0-6l-6 6M1203 1208l6 6m0-6l-6 6M1203 1187l6 6m0-6l-6 6M1203 1101l6 6m0-6l-6 6M1203 1229l6 6m0-6l-6 6M1203 1243l6 6m0-6l-6 6M1204 1106l6 6m0-6l-6 6M1204 1240l6 6m0-6l-6 6M1204 1141l6 6m0-6l-6 6M1204 1165l6 6m0-6l-6 6M1204 1158l6 6m0-6l-6 6M1204 1125l6 6m0-6l-6 6M1204 1065l6 6m0-6l-6 6M1205 1227l6 6m0-6l-6 6M1206 1184l6 6m0-6l-6 6M1206 1176l6 6m0-6l-6 6M1207 1166l6 6m0-6l-6 6M1207 1111l6 6m0-6l-6 6M1208 1254l6 6m0-6l-6 6M1208 1213l6 6m0-6l-6 6M1207 1232l6 6m0-6l-6 6M1208 1293l6 6m0-6l-6 6M1208 1201l6 6m0-6l-6 6M1208 1162l6 6m0-6l-6 6M1208 1055l6 6m0-6l-6 6M1208 1280l6 6m0-6l-6 6M1209 1194l6 6m0-6l-6 6M1209 1055l6 6m0-6l-6 6M1212 1043l6 6m0-6l-6 6M1212 1060l6 6m0-6l-6 6M1212 1199l6 6m0-6l-6 6M1212 1098l6 6m0-6l-6 6M1212 1072l6 6m0-6l-6 6M1212 1171l6 6m0-6l-6 6M1212 1224l6 6m0-6l-6 6M1212 1168l6 6m0-6l-6 6M1213 1183l6 6m0-6l-6 6M1213 1155l6 6m0-6l-6 6M1213 1105l6 6m0-6l-6 6M1213 1277l6 6m0-6l-6 6M1213 1232l6 6m0-6l-6 6M1213 1269l6 6m0-6l-6 6M1213 1178l6 6m0-6l-6 6M1217 1094l6 6m0-6l-6 6M1218 1129l6 6m0-6l-6 6M1218 1141l6 6m0-6l-6 6M1218 1202l6 6m0-6l-6 6M1218 1148l6 6m0-6l-6 6M1218 1082l6 6m0-6l-6 6M1219 1099l6 6m0-6l-6 6M1219 1113l6 6m0-6l-6 6M1219 1088l6 6m0-6l-6 6M1220 1195l6 6m0-6l-6 6M1220 1165l6 6m0-6l-6 6M1220 1181l6 6m0-6l-6 6M1220 1253l6 6m0-6l-6 6M1220 1165l6 6m0-6l-6 6M1220 1165l6 6m0-6l-6 6M1220 1196l6 6m0-6l-6 6M1220 1147l6 6m0-6l-6 6M1220 1174l6 6m0-6l-6 6M1220 1214l6 6m0-6l-6 6M1220 1138l6 6m0-6l-6 6M1220 1154l6 6m0-6l-6 6M1221 1177l6 6m0-6l-6 6M1221 1160l6 6m0-6l-6 6M1221 1226l6 6m0-6l-6 6M1221 1218l6 6m0-6l-6 6M1221 1156l6 6m0-6l-6 6M1222 1131l6 6m0-6l-6 6M1222 1161l6 6m0-6l-6 6M1222 1106l6 6m0-6l-6 6M1222 1217l6 6m0-6l-6 6M1223 1229l6 6m0-6l-6 6M1223 1162l6 6m0-6l-6 6M1223 1093l6 6m0-6l-6 6M1226 1150l6 6m0-6l-6 6M1226 1216l6 6m0-6l-6 6M1226 1207l6 6m0-6l-6 6M1226 1201l6 6m0-6l-6 6M1226 1150l6 6m0-6l-6 6M1226 1177l6 6m0-6l-6 6M1226 1184l6 6m0-6l-6 6M1226 1139l6 6m0-6l-6 6M1230 1075l6 6m0-6l-6 6M1230 1095l6 6m0-6l-6 6M1231 1196l6 6m0-6l-6 6M1231 1181l6 6m0-6l-6 6M1231 1156l6 6m0-6l-6 6M1231 1084l6 6m0-6l-6 6M1231 1209l6 6m0-6l-6 6M1231 1141l6 6m0-6l-6 6M1231 1100l6 6m0-6l-6 6M1231 1188l6 6m0-6l-6 6M1232 1232l6 6m0-6l-6 6M1232 1230l6 6m0-6l-6 6M1233 1159l6 6m0-6l-6 6M1233 1146l6 6m0-6l-6 6M1233 1188l6 6m0-6l-6 6M1234 1138l6 6m0-6l-6 6M1234 1277l6 6m0-6l-6 6M1234 1148l6 6m0-6l-6 6M1234 1123l6 6m0-6l-6 6M1234 1050l6 6m0-6l-6 6M1234 1239l6 6m0-6l-6 6M1235 1256l6 6m0-6l-6 6M1235 1124l6 6m0-6l-6 6M1235 1223l6 6m0-6l-6 6M1235 1152l6 6m0-6l-6 6M1235 1086l6 6m0-6l-6 6M1235 1214l6 6m0-6l-6 6M1236 1206l6 6m0-6l-6 6M1237 1190l6 6m0-6l-6 6M1239 1297l6 6m0-6l-6 6M1240 1187l6 6m0-6l-6 6M1239 1178l6 6m0-6l-6 6M1239 1115l6 6m0-6l-6 6M1240 1217l6 6m0-6l-6 6M1240 1102l6 6m0-6l-6 6M1240 1144l6 6m0-6l-6 6M1240 1261l6 6m0-6l-6 6M1240 1290l6 6m0-6l-6 6M1241 1101l6 6m0-6l-6 6M1241 1171l6 6m0-6l-6 6M1241 1185l6 6m0-6l-6 6M1241 1196l6 6m0-6l-6 6M1241 1154l6 6m0-6l-6 6M1244 1206l6 6m0-6l-6 6M1245 1215l6 6m0-6l-6 6M1245 1189l6 6m0-6l-6 6M1245 1121l6 6m0-6l-6 6M1245 1131l6 6m0-6l-6 6M1246 1174l6 6m0-6l-6 6M1246 1192l6 6m0-6l-6 6M1246 1201l6 6m0-6l-6 6M1246 1174l6 6m0-6l-6 6M1246 1179l6 6m0-6l-6 6M1247 1219l6 6m0-6l-6 6M1247 1128l6 6m0-6l-6 6M1247 1110l6 6m0-6l-6 6M1247 1163l6 6m0-6l-6 6M1247 1175l6 6m0-6l-6 6M1247 1150l6 6m0-6l-6 6M1248 1131l6 6m0-6l-6 6M1248 1033l6 6m0-6l-6 6M1248 1174l6 6m0-6l-6 6M1248 1235l6 6m0-6l-6 6M1249 1195l6 6m0-6l-6 6M1249 1193l6 6m0-6l-6 6M1250 1100l6 6m0-6l-6 6M1250 1095l6 6m0-6l-6 6M1250 1159l6 6m0-6l-6 6M1250 1199l6 6m0-6l-6 6M1250 1197l6 6m0-6l-6 6M1250 1196l6 6m0-6l-6 6M1251 1199l6 6m0-6l-6 6M1251 1262l6 6m0-6l-6 6M1251 1164l6 6m0-6l-6 6M1251 1198l6 6m0-6l-6 6M1251 1165l6 6m0-6l-6 6M1255 1082l6 6m0-6l-6 6M1255 1144l6 6m0-6l-6 6M1255 1148l6 6m0-6l-6 6M1255 1137l6 6m0-6l-6 6M1255 1185l6 6m0-6l-6 6M1255 1195l6 6m0-6l-6 6M1255 1178l6 6m0-6l-6 6M1255 1215l6 6m0-6l-6 6M1258 1054l6 6m0-6l-6 6M1258 1234l6 6m0-6l-6 6M1258 1161l6 6m0-6l-6 6M1258 1181l6 6m0-6l-6 6M1258 1114l6 6m0-6l-6 6M1258 1194l6 6m0-6l-6 6M1258 1231l6 6m0-6l-6 6M1258 1178l6 6m0-6l-6 6M1258 1157l6 6m0-6l-6 6M1258 1132l6 6m0-6l-6 6M1262 1037l6 6m0-6l-6 6M1262 1120l6 6m0-6l-6 6M1263 1155l6 6m0-6l-6 6M1263 1122l6 6m0-6l-6 6M1263 1097l6 6m0-6l-6 6M1264 1121l6 6m0-6l-6 6M1265 1181l6 6m0-6l-6 6M1265 1154l6 6m0-6l-6 6M1265 1145l6 6m0-6l-6 6M1266 1158l6 6m0-6l-6 6M1266 1235l6 6m0-6l-6 6M1267 1186l6 6m0-6l-6 6M1267 1173l6 6m0-6l-6 6M1267 1265l6 6m0-6l-6 6M1268 1131l6 6m0-6l-6 6M1268 1106l6 6m0-6l-6 6M1269 1272l6 6m0-6l-6 6M1269 1221l6 6m0-6l-6 6M1269 1172l6 6m0-6l-6 6M1272 1166l6 6m0-6l-6 6M1272 1186l6 6m0-6l-6 6M1272 1189l6 6m0-6l-6 6M1272 1203l6 6m0-6l-6 6M1272 1117l6 6m0-6l-6 6M1272 1145l6 6m0-6l-6 6M1272 1169l6 6m0-6l-6 6M1276 1150l6 6m0-6l-6 6M1276 1178l6 6m0-6l-6 6M1276 1127l6 6m0-6l-6 6M1276 1141l6 6m0-6l-6 6M1277 1205l6 6m0-6l-6 6M1279 1102l6 6m0-6l-6 6M1283 1151l6 6m0-6l-6 6M1284 1205l6 6m0-6l-6 6M1284 1208l6 6m0-6l-6 6M1285 1165l6 6m0-6l-6 6M1285 1135l6 6m0-6l-6 6M1286 1192l6 6m0-6l-6 6M1286 1209l6 6m0-6l-6 6M1287 1175l6 6m0-6l-6 6M1286 1202l6 6m0-6l-6 6M1286 1244l6 6m0-6l-6 6M1287 1134l6 6m0-6l-6 6M1287 1160l6 6m0-6l-6 6M1287 1236l6 6m0-6l-6 6M1287 1225l6 6m0-6l-6 6M1288 1253l6 6m0-6l-6 6M1288 1295l6 6m0-6l-6 6M1288 1206l6 6m0-6l-6 6M1288 1236l6 6m0-6l-6 6M1289 1215l6 6m0-6l-6 6M1289 1265l6 6m0-6l-6 6M1291 1133l6 6m0-6l-6 6M1291 1193l6 6m0-6l-6 6M1291 1155l6 6m0-6l-6 6M1292 1146l6 6m0-6l-6 6M1292 1158l6 6m0-6l-6 6M1292 1075l6 6m0-6l-6 6M1297 1156l6 6m0-6l-6 6M1301 1237l6 6m0-6l-6 6M1302 1140l6 6m0-6l-6 6M1302 1180l6 6m0-6l-6 6M1302 1093l6 6m0-6l-6 6M1302 1101l6 6m0-6l-6 6M1302 1095l6 6m0-6l-6 6M1303 1204l6 6m0-6l-6 6M1303 1187l6 6m0-6l-6 6M1303 1241l6 6m0-6l-6 6M1303 1169l6 6m0-6l-6 6M1304 1174l6 6m0-6l-6 6M1306 1243l6 6m0-6l-6 6M1312 1137l6 6m0-6l-6 6M1312 1284l6 6m0-6l-6 6M1313 1179l6 6m0-6l-6 6M1314 1172l6 6m0-6l-6 6M1314 1214l6 6m0-6l-6 6M1317 1097l6 6m0-6l-6 6M1317 1280l6 6m0-6l-6 6M1317 1244l6 6m0-6l-6 6M1317 1161l6 6m0-6l-6 6M1318 1283l6 6m0-6l-6 6M1318 1187l6 6m0-6l-6 6M1318 1133l6 6m0-6l-6 6M1318 1239l6 6m0-6l-6 6M1318 1162l6 6m0-6l-6 6M1318 1169l6 6m0-6l-6 6M1318 1190l6 6m0-6l-6 6M1318 1089l6 6m0-6l-6 6M1319 1221l6 6m0-6l-6 6M1322 1086l6 6m0-6l-6 6M1322 1181l6 6m0-6l-6 6M1322 1202l6 6m0-6l-6 6M1322 1138l6 6m0-6l-6 6M1323 1151l6 6m0-6l-6 6M1323 1239l6 6m0-6l-6 6M1323 1115l6 6m0-6l-6 6M1326 1216l6 6m0-6l-6 6M1326 1104l6 6m0-6l-6 6M1327 1213l6 6m0-6l-6 6M1327 1130l6 6m0-6l-6 6M1328 1215l6 6m0-6l-6 6M1328 1209l6 6m0-6l-6 6M1329 1125l6 6m0-6l-6 6M1330 1221l6 6m0-6l-6 6M1331 1230l6 6m0-6l-6 6M1331 1242l6 6m0-6l-6 6M1331 1138l6 6m0-6l-6 6M1331 1149l6 6m0-6l-6 6M1336 1108l6 6m0-6l-6 6M1336 1177l6 6m0-6l-6 6M1336 1159l6 6m0-6l-6 6M1337 1146l6 6m0-6l-6 6M1337 1137l6 6m0-6l-6 6M1341 1203l6 6m0-6l-6 6M1341 1212l6 6m0-6l-6 6M1341 1189l6 6m0-6l-6 6M1341 1134l6 6m0-6l-6 6M1341 1137l6 6m0-6l-6 6M1341 1154l6 6m0-6l-6 6M1342 1156l6 6m0-6l-6 6M1342 1091l6 6m0-6l-6 6M1342 1219l6 6m0-6l-6 6M1342 1262l6 6m0-6l-6 6M1342 1196l6 6m0-6l-6 6M1342 1156l6 6m0-6l-6 6M1345 1208l6 6m0-6l-6 6M1345 1201l6 6m0-6l-6 6M1346 1166l6 6m0-6l-6 6M1346 1238l6 6m0-6l-6 6M1346 1152l6 6m0-6l-6 6M1347 1152l6 6m0-6l-6 6M1347 1177l6 6m0-6l-6 6M1349 1234l6 6m0-6l-6 6M1350 1250l6 6m0-6l-6 6M1350 1157l6 6m0-6l-6 6M1351 1191l6 6m0-6l-6 6M1351 1159l6 6m0-6l-6 6M1351 1193l6 6m0-6l-6 6M1352 1116l6 6m0-6l-6 6M1352 1191l6 6m0-6l-6 6M1353 1237l6 6m0-6l-6 6M1353 1284l6 6m0-6l-6 6M1353 1222l6 6m0-6l-6 6M1353 1214l6 6m0-6l-6 6M1353 1259l6 6m0-6l-6 6M1353 1185l6 6m0-6l-6 6M1353 1172l6 6m0-6l-6 6M1353 1161l6 6m0-6l-6 6M1353 1172l6 6m0-6l-6 6M1353 1185l6 6m0-6l-6 6M1358 1155l6 6m0-6l-6 6M1358 1246l6 6m0-6l-6 6M1358 1140l6 6m0-6l-6 6M1359 1302l6 6m0-6l-6 6M1359 1175l6 6m0-6l-6 6M1359 1147l6 6m0-6l-6 6M1359 1127l6 6m0-6l-6 6M1359 1193l6 6m0-6l-6 6M1359 1162l6 6m0-6l-6 6M1361 1128l6 6m0-6l-6 6M1362 1208l6 6m0-6l-6 6M1362 1146l6 6m0-6l-6 6M1362 1130l6 6m0-6l-6 6M1362 1025l6 6m0-6l-6 6M1362 1086l6 6m0-6l-6 6M1362 1159l6 6m0-6l-6 6M1362 1152l6 6m0-6l-6 6M1362 1043l6 6m0-6l-6 6M1362 1202l6 6m0-6l-6 6M1363 1201l6 6m0-6l-6 6M1363 1194l6 6m0-6l-6 6M1363 1179l6 6m0-6l-6 6M1363 1134l6 6m0-6l-6 6M1363 1315l6 6m0-6l-6 6M1363 1187l6 6m0-6l-6 6M1367 1133l6 6m0-6l-6 6M1367 1176l6 6m0-6l-6 6M1367 1193l6 6m0-6l-6 6M1368 1197l6 6m0-6l-6 6M1368 1224l6 6m0-6l-6 6M1368 1152l6 6m0-6l-6 6M1369 1163l6 6m0-6l-6 6M1369 1194l6 6m0-6l-6 6M1369 1059l6 6m0-6l-6 6M1371 1256l6 6m0-6l-6 6M1371 1153l6 6m0-6l-6 6M1371 1251l6 6m0-6l-6 6M1371 1144l6 6m0-6l-6 6M1371 1246l6 6m0-6l-6 6M1371 1213l6 6m0-6l-6 6M1371 1126l6 6m0-6l-6 6M1372 1119l6 6m0-6l-6 6M1372 1223l6 6m0-6l-6 6M1372 1187l6 6m0-6l-6 6M1372 1158l6 6m0-6l-6 6M1372 1141l6 6m0-6l-6 6M1372 1170l6 6m0-6l-6 6M1374 1164l6 6m0-6l-6 6M1374 1130l6 6m0-6l-6 6M1374 1160l6 6m0-6l-6 6M1375 1197l6 6m0-6l-6 6M1375 1110l6 6m0-6l-6 6M1375 1251l6 6m0-6l-6 6M1375 1156l6 6m0-6l-6 6M1375 1193l6 6m0-6l-6 6M1375 1124l6 6m0-6l-6 6M1376 1164l6 6m0-6l-6 6M1377 1217l6 6m0-6l-6 6M1377 1175l6 6m0-6l-6 6M1377 1098l6 6m0-6l-6 6M1377 1172l6 6m0-6l-6 6M1377 1193l6 6m0-6l-6 6M1377 1291l6 6m0-6l-6 6M1377 1121l6 6m0-6l-6 6M1377 1217l6 6m0-6l-6 6M1377 1135l6 6m0-6l-6 6M1377 1102l6 6m0-6l-6 6M1377 1184l6 6m0-6l-6 6M1377 1193l6 6m0-6l-6 6M1379 1139l6 6m0-6l-6 6M1379 1215l6 6m0-6l-6 6M1379 1181l6 6m0-6l-6 6M1379 1209l6 6m0-6l-6 6M1380 1147l6 6m0-6l-6 6M1380 1111l6 6m0-6l-6 6M1380 1181l6 6m0-6l-6 6M1380 1185l6 6m0-6l-6 6M1381 1232l6 6m0-6l-6 6M1381 1284l6 6m0-6l-6 6M1381 1205l6 6m0-6l-6 6M1381 1165l6 6m0-6l-6 6M1382 1298l6 6m0-6l-6 6M1382 1180l6 6m0-6l-6 6M1382 1204l6 6m0-6l-6 6M1382 1141l6 6m0-6l-6 6M1382 1152l6 6m0-6l-6 6M1383 1206l6 6m0-6l-6 6M1383 1182l6 6m0-6l-6 6M1383 1216l6 6m0-6l-6 6M1383 1228l6 6m0-6l-6 6M1383 1158l6 6m0-6l-6 6M1383 1124l6 6m0-6l-6 6M1383 1181l6 6m0-6l-6 6M1383 1259l6 6m0-6l-6 6M1383 1186l6 6m0-6l-6 6M1383 1184l6 6m0-6l-6 6M1383 1238l6 6m0-6l-6 6M1383 1145l6 6m0-6l-6 6M1383 1166l6 6m0-6l-6 6M1388 1200l6 6m0-6l-6 6M1388 1205l6 6m0-6l-6 6M1388 1234l6 6m0-6l-6 6M1388 1140l6 6m0-6l-6 6M1388 1106l6 6m0-6l-6 6M1388 1181l6 6m0-6l-6 6M1388 1205l6 6m0-6l-6 6M1389 1249l6 6m0-6l-6 6M1389 1247l6 6m0-6l-6 6M1389 1264l6 6m0-6l-6 6M1389 1167l6 6m0-6l-6 6M1389 1195l6 6m0-6l-6 6M1389 1101l6 6m0-6l-6 6M1389 1261l6 6m0-6l-6 6M1389 1154l6 6m0-6l-6 6M1391 1226l6 6m0-6l-6 6M1392 1287l6 6m0-6l-6 6M1392 1206l6 6m0-6l-6 6M1392 1117l6 6m0-6l-6 6M1392 1288l6 6m0-6l-6 6M1392 1159l6 6m0-6l-6 6M1392 1191l6 6m0-6l-6 6M1393 1269l6 6m0-6l-6 6M1393 1089l6 6m0-6l-6 6M1393 1184l6 6m0-6l-6 6M1393 1226l6 6m0-6l-6 6M1397 1135l6 6m0-6l-6 6M1397 1235l6 6m0-6l-6 6M1397 1197l6 6m0-6l-6 6M1398 1229l6 6m0-6l-6 6M1398 1162l6 6m0-6l-6 6M1399 1152l6 6m0-6l-6 6M1399 1147l6 6m0-6l-6 6M1400 1171l6 6m0-6l-6 6M1400 1215l6 6m0-6l-6 6M1400 1225l6 6m0-6l-6 6M1400 1178l6 6m0-6l-6 6M1400 1172l6 6m0-6l-6 6M1401 1154l6 6m0-6l-6 6M1401 1206l6 6m0-6l-6 6M1401 1164l6 6m0-6l-6 6M1401 1197l6 6m0-6l-6 6M1402 1190l6 6m0-6l-6 6M1402 1297l6 6m0-6l-6 6M1402 1208l6 6m0-6l-6 6M1402 1136l6 6m0-6l-6 6M1403 1215l6 6m0-6l-6 6M1403 1135l6 6m0-6l-6 6M1402 1258l6 6m0-6l-6 6M1402 1198l6 6m0-6l-6 6M1402 1228l6 6m0-6l-6 6M1403 1257l6 6m0-6l-6 6M1403 1171l6 6m0-6l-6 6M1403 1191l6 6m0-6l-6 6M1403 1168l6 6m0-6l-6 6M1403 1169l6 6m0-6l-6 6M1403 1186l6 6m0-6l-6 6M1403 1183l6 6m0-6l-6 6M1405 1206l6 6m0-6l-6 6M1407 1171l6 6m0-6l-6 6M1408 1224l6 6m0-6l-6 6M1408 1085l6 6m0-6l-6 6M1409 1168l6 6m0-6l-6 6M1409 1216l6 6m0-6l-6 6M1410 1158l6 6m0-6l-6 6M1410 1170l6 6m0-6l-6 6M1411 1215l6 6m0-6l-6 6M1411 1160l6 6m0-6l-6 6M1411 1203l6 6m0-6l-6 6M1411 1151l6 6m0-6l-6 6M1411 1196l6 6m0-6l-6 6M1411 1250l6 6m0-6l-6 6M1412 1180l6 6m0-6l-6 6M1412 1279l6 6m0-6l-6 6M1412 1131l6 6m0-6l-6 6M1415 1204l6 6m0-6l-6 6M1415 1219l6 6m0-6l-6 6M1416 1174l6 6m0-6l-6 6M1416 1159l6 6m0-6l-6 6M1416 1271l6 6m0-6l-6 6M384 991l6 6m0-6l-6 6M863 1358l6 6m0-6l-6 6M333 995l6 6m0-6l-6 6M421 1010l6 6m0-6l-6 6M885 1012l6 6m0-6l-6 6M915 1010l6 6m0-6l-6 6M963 1006l6 6m0-6l-6 6M636 1325l6 6m0-6l-6 6M772 1317l6 6m0-6l-6 6M605 1334l6 6m0-6l-6 6M908 1317l6 6m0-6l-6 6M1355 1319l6 6m0-6l-6 6M180 1008l6 6m0-6l-6 6" stroke="#000" stroke-width="1" fill="none" shape-rendering="crispEdges"/><polyline clip-path="url(#c1)" points="162.2,571.7 174.8,572.3 189.6,575.2 198.4,574.0 219.1,576.1 236.9,576.1 248.7,579.1 263.5,581.1 284.2,585.0 307.8,586.4 331.5,587.9 340.4,591.8 367.0,596.8 384.7,600.6 396.5,601.2 411.3,602.7 426.1,604.8 430.6,605.7 435.0,593.8 439.4,590.0 443.9,596.8 446.8,610.1 452.7,604.2 455.7,598.3 461.6,603.6 473.4,604.2 477.9,601.2 480.8,605.7 500.0,610.1 514.8,611.6 538.5,614.5 568.0,616.6 585.8,621.3 597.7,623.4 612.5,626.4 627.3,624.9 653.9,619.0 683.5,613.1 713.1,609.5 742.6,605.7 772.2,602.7 801.8,598.3 831.3,591.8 860.9,587.0 890.5,582.0 911.2,577.0 934.9,579.1 952.5,576.1 970.3,574.0 985.1,571.1 988.1,579.1 991.1,570.2 1000.0,567.8 1014.8,564.9 1029.6,562.5 1044.4,558.4 1059.1,556.6 1073.9,554.5 1084.3,546.6 1093.1,563.4 1102.0,546.6 1109.4,550.1 1124.2,546.6 1147.8,539.7 1165.6,534.7 1175.9,538.3 1189.2,525.0 1201.1,530.0 1212.9,522.0 1224.7,523.5 1236.5,519.1 1248.4,516.1 1257.2,511.7 1263.2,515.2 1280.9,509.3 1301.6,506.3 1317.9,497.5 1322.3,507.2 1328.2,498.4 1340.0,496.9 1354.8,493.9 1369.6,491.0 1384.4,487.4 1396.2,482.1 1405.1,482.7 1414.0,483.6 1422.3,477.7" stroke="#1e90ff" stroke-width="4" fill="none" stroke-linejoin="round"/>
</svg></body></html>
